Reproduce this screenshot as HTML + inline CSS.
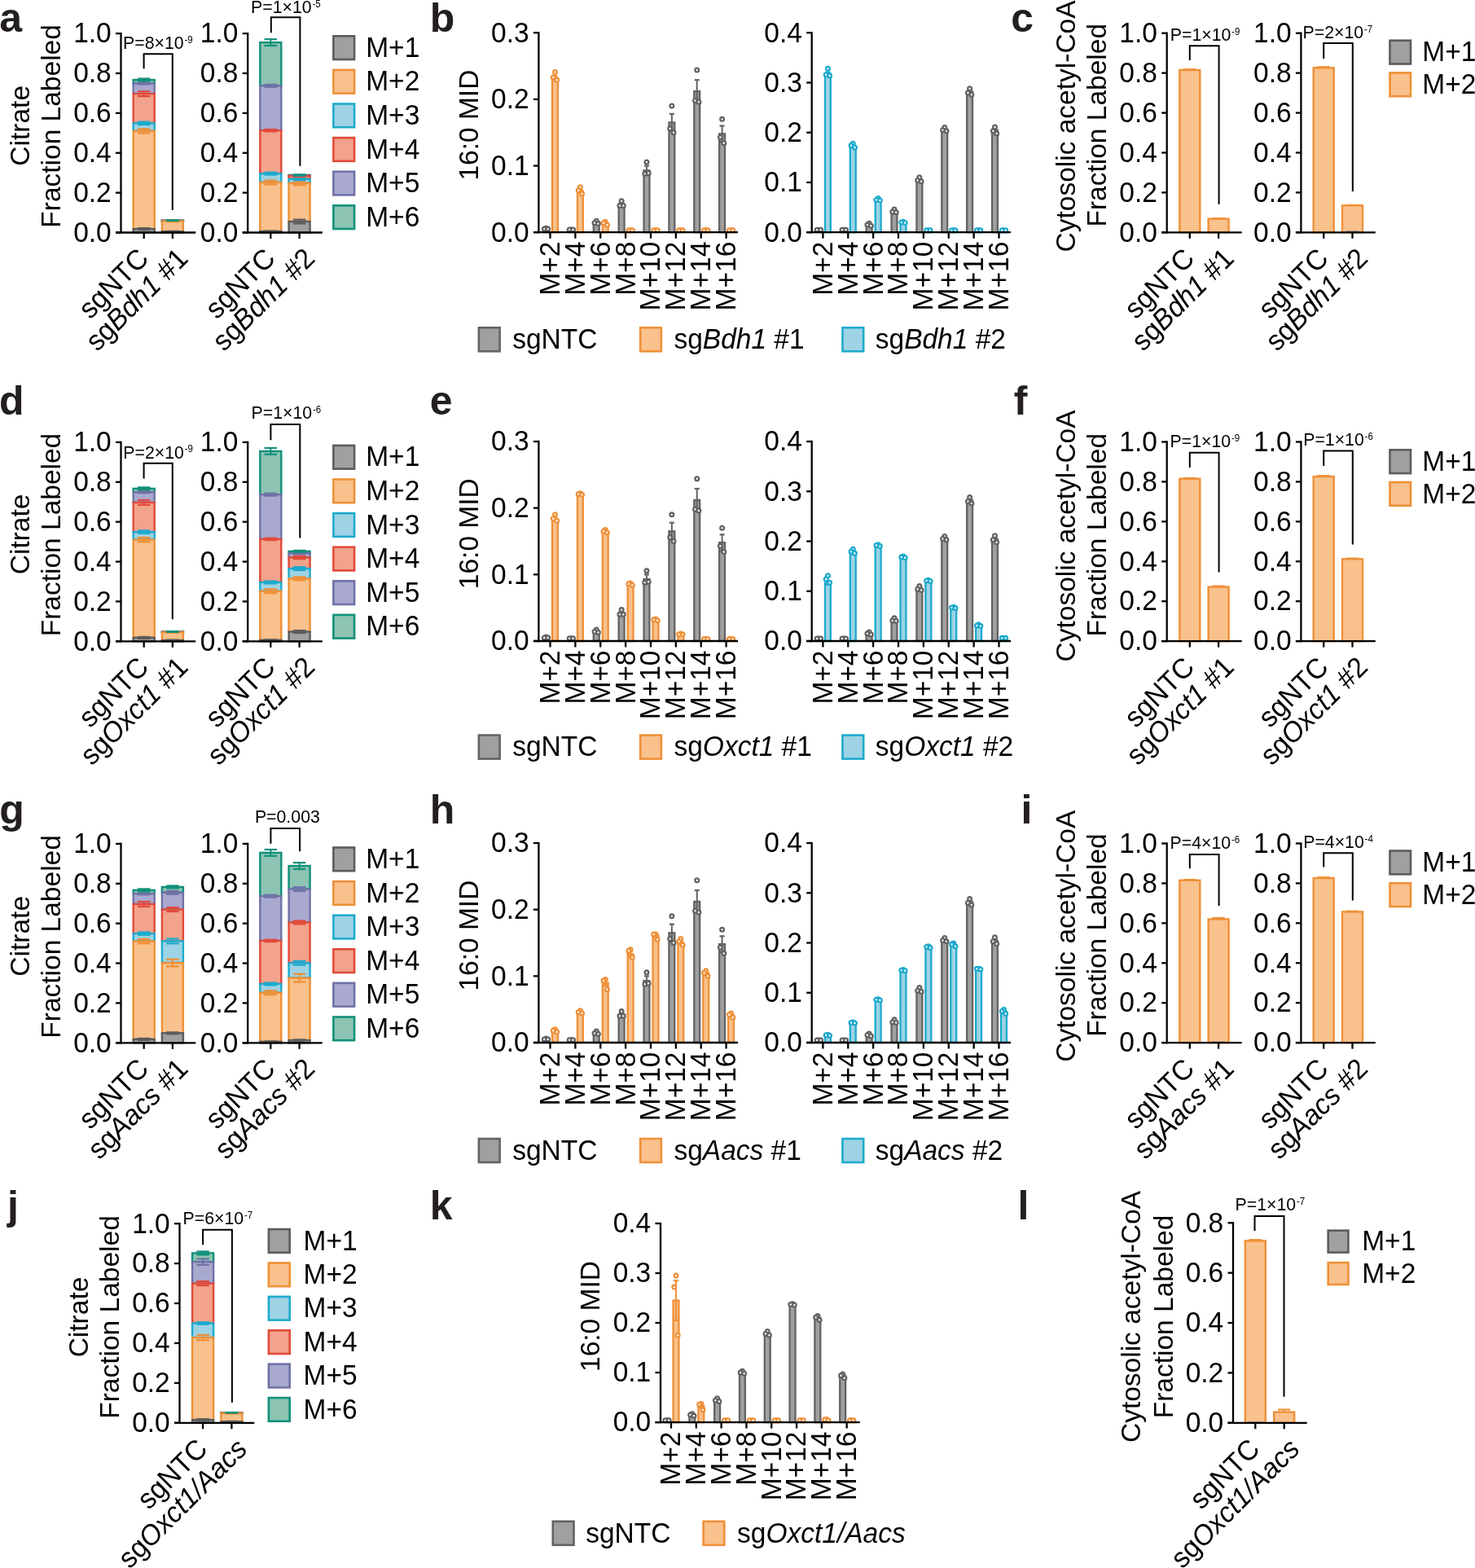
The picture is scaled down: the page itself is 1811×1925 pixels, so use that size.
<!DOCTYPE html>
<html><head><meta charset="utf-8"><title>Figure</title>
<style>
html,body{margin:0;padding:0;background:#fff;}
svg{display:block;}
text{font-family:"Liberation Sans", Arial, Helvetica, sans-serif;}
</style></head>
<body>
<svg xmlns="http://www.w3.org/2000/svg" width="1811" height="1925" viewBox="0 0 1811 1925">
<rect x="0" y="0" width="1811" height="1925" fill="#fff"/>
<text x="-0.66" y="39.1" font-size="50" font-weight="bold" fill="#231f20">a</text>
<text x="35.8" y="154.3" font-size="33.5" text-anchor="middle" transform="rotate(-90 35.8 154.3)">Citrate</text>
<text x="73.8" y="154.95" font-size="33.5" text-anchor="middle" transform="rotate(-90 73.8 154.95)">Fraction Labeled</text>
<rect x="163.7" y="98.05" width="26" height="4.4" fill="#8dc4b3" stroke="#12907a" stroke-width="2.4"/>
<rect x="163.7" y="102.44" width="26" height="12.71" fill="#a9a9d0" stroke="#6f72a6" stroke-width="2.4"/>
<rect x="163.7" y="115.15" width="26" height="36.17" fill="#f3a28b" stroke="#e04a3a" stroke-width="2.4"/>
<rect x="163.7" y="151.32" width="26" height="9.53" fill="#9dd3e4" stroke="#1eaacd" stroke-width="2.4"/>
<rect x="163.7" y="160.86" width="26" height="120.24" fill="#f9c18c" stroke="#ee9036" stroke-width="2.4"/>
<rect x="163.7" y="281.1" width="26" height="4.4" fill="#a0a0a0" stroke="#5c5c5c" stroke-width="2.4"/>
<line x1="176.7" y1="280.12" x2="176.7" y2="282.08" stroke="#5c5c5c" stroke-width="2" stroke-linecap="butt"/>
<line x1="168.95" y1="280.12" x2="184.45" y2="280.12" stroke="#5c5c5c" stroke-width="2.2" stroke-linecap="butt"/>
<line x1="168.95" y1="282.08" x2="184.45" y2="282.08" stroke="#5c5c5c" stroke-width="2.2" stroke-linecap="butt"/>
<line x1="176.7" y1="158.17" x2="176.7" y2="163.54" stroke="#ee9036" stroke-width="2" stroke-linecap="butt"/>
<line x1="168.95" y1="158.17" x2="184.45" y2="158.17" stroke="#ee9036" stroke-width="2.2" stroke-linecap="butt"/>
<line x1="168.95" y1="163.54" x2="184.45" y2="163.54" stroke="#ee9036" stroke-width="2.2" stroke-linecap="butt"/>
<line x1="176.7" y1="149.61" x2="176.7" y2="153.04" stroke="#1eaacd" stroke-width="2" stroke-linecap="butt"/>
<line x1="168.95" y1="149.61" x2="184.45" y2="149.61" stroke="#1eaacd" stroke-width="2.2" stroke-linecap="butt"/>
<line x1="168.95" y1="153.04" x2="184.45" y2="153.04" stroke="#1eaacd" stroke-width="2.2" stroke-linecap="butt"/>
<line x1="176.7" y1="112.22" x2="176.7" y2="118.09" stroke="#e04a3a" stroke-width="2" stroke-linecap="butt"/>
<line x1="168.95" y1="112.22" x2="184.45" y2="112.22" stroke="#e04a3a" stroke-width="2.2" stroke-linecap="butt"/>
<line x1="168.95" y1="118.09" x2="184.45" y2="118.09" stroke="#e04a3a" stroke-width="2.2" stroke-linecap="butt"/>
<line x1="176.7" y1="101.47" x2="176.7" y2="103.42" stroke="#6f72a6" stroke-width="2" stroke-linecap="butt"/>
<line x1="168.95" y1="101.47" x2="184.45" y2="101.47" stroke="#6f72a6" stroke-width="2.2" stroke-linecap="butt"/>
<line x1="168.95" y1="103.42" x2="184.45" y2="103.42" stroke="#6f72a6" stroke-width="2.2" stroke-linecap="butt"/>
<line x1="176.7" y1="96.58" x2="176.7" y2="99.51" stroke="#12907a" stroke-width="2" stroke-linecap="butt"/>
<line x1="168.95" y1="96.58" x2="184.45" y2="96.58" stroke="#12907a" stroke-width="2.2" stroke-linecap="butt"/>
<line x1="168.95" y1="99.51" x2="184.45" y2="99.51" stroke="#12907a" stroke-width="2.2" stroke-linecap="butt"/>
<rect x="198.9" y="270.59" width="26" height="0.24" fill="#8dc4b3" stroke="#12907a" stroke-width="2.4"/>
<rect x="198.9" y="270.84" width="26" height="0.01" fill="#a9a9d0" stroke="#6f72a6" stroke-width="2.4"/>
<rect x="198.9" y="270.84" width="26" height="0.24" fill="#f3a28b" stroke="#e04a3a" stroke-width="2.4"/>
<rect x="198.9" y="271.08" width="26" height="0.49" fill="#9dd3e4" stroke="#1eaacd" stroke-width="2.4"/>
<rect x="198.9" y="271.57" width="26" height="12.71" fill="#f9c18c" stroke="#ee9036" stroke-width="2.4"/>
<rect x="198.9" y="284.28" width="26" height="1.22" fill="#a0a0a0" stroke="#5c5c5c" stroke-width="2.4"/>
<line x1="211.9" y1="283.79" x2="211.9" y2="284.77" stroke="#5c5c5c" stroke-width="2" stroke-linecap="butt"/>
<line x1="204.15" y1="283.79" x2="219.65" y2="283.79" stroke="#5c5c5c" stroke-width="2.2" stroke-linecap="butt"/>
<line x1="204.15" y1="284.77" x2="219.65" y2="284.77" stroke="#5c5c5c" stroke-width="2.2" stroke-linecap="butt"/>
<line x1="211.9" y1="270.84" x2="211.9" y2="272.3" stroke="#ee9036" stroke-width="2" stroke-linecap="butt"/>
<line x1="204.15" y1="270.84" x2="219.65" y2="270.84" stroke="#ee9036" stroke-width="2.2" stroke-linecap="butt"/>
<line x1="204.15" y1="272.3" x2="219.65" y2="272.3" stroke="#ee9036" stroke-width="2.2" stroke-linecap="butt"/>
<line x1="211.9" y1="270.35" x2="211.9" y2="270.84" stroke="#12907a" stroke-width="2" stroke-linecap="butt"/>
<line x1="204.15" y1="270.35" x2="219.65" y2="270.35" stroke="#12907a" stroke-width="2.2" stroke-linecap="butt"/>
<line x1="204.15" y1="270.84" x2="219.65" y2="270.84" stroke="#12907a" stroke-width="2.2" stroke-linecap="butt"/>
<line x1="148.5" y1="39.95" x2="148.5" y2="286.65" stroke="#000" stroke-width="2.3" stroke-linecap="butt"/>
<line x1="142" y1="285.5" x2="240.3" y2="285.5" stroke="#000" stroke-width="2.3" stroke-linecap="butt"/>
<line x1="142" y1="285.5" x2="148.5" y2="285.5" stroke="#000" stroke-width="2.3" stroke-linecap="butt"/>
<text font-size="33.5" text-anchor="end" transform="translate(136.7 296.8) scale(1 1.04)">0.0</text>
<line x1="142" y1="236.62" x2="148.5" y2="236.62" stroke="#000" stroke-width="2.3" stroke-linecap="butt"/>
<text font-size="33.5" text-anchor="end" transform="translate(136.7 247.92) scale(1 1.04)">0.2</text>
<line x1="142" y1="187.74" x2="148.5" y2="187.74" stroke="#000" stroke-width="2.3" stroke-linecap="butt"/>
<text font-size="33.5" text-anchor="end" transform="translate(136.7 199.04) scale(1 1.04)">0.4</text>
<line x1="142" y1="138.86" x2="148.5" y2="138.86" stroke="#000" stroke-width="2.3" stroke-linecap="butt"/>
<text font-size="33.5" text-anchor="end" transform="translate(136.7 150.16) scale(1 1.04)">0.6</text>
<line x1="142" y1="89.98" x2="148.5" y2="89.98" stroke="#000" stroke-width="2.3" stroke-linecap="butt"/>
<text font-size="33.5" text-anchor="end" transform="translate(136.7 101.28) scale(1 1.04)">0.8</text>
<line x1="142" y1="41.1" x2="148.5" y2="41.1" stroke="#000" stroke-width="2.3" stroke-linecap="butt"/>
<text font-size="33.5" text-anchor="end" transform="translate(136.7 52.4) scale(1 1.04)">1.0</text>
<line x1="176.7" y1="285.5" x2="176.7" y2="293" stroke="#000" stroke-width="2.3" stroke-linecap="butt"/>
<line x1="211.9" y1="285.5" x2="211.9" y2="293" stroke="#000" stroke-width="2.3" stroke-linecap="butt"/>
<rect x="319.3" y="52.1" width="26" height="53.28" fill="#8dc4b3" stroke="#12907a" stroke-width="2.4"/>
<rect x="319.3" y="105.38" width="26" height="54.75" fill="#a9a9d0" stroke="#6f72a6" stroke-width="2.4"/>
<rect x="319.3" y="160.12" width="26" height="53.03" fill="#f3a28b" stroke="#e04a3a" stroke-width="2.4"/>
<rect x="319.3" y="213.16" width="26" height="10.75" fill="#9dd3e4" stroke="#1eaacd" stroke-width="2.4"/>
<rect x="319.3" y="223.91" width="26" height="60.12" fill="#f9c18c" stroke="#ee9036" stroke-width="2.4"/>
<rect x="319.3" y="284.03" width="26" height="1.47" fill="#a0a0a0" stroke="#5c5c5c" stroke-width="2.4"/>
<line x1="332.3" y1="283.54" x2="332.3" y2="284.52" stroke="#5c5c5c" stroke-width="2" stroke-linecap="butt"/>
<line x1="324.55" y1="283.54" x2="340.05" y2="283.54" stroke="#5c5c5c" stroke-width="2.2" stroke-linecap="butt"/>
<line x1="324.55" y1="284.52" x2="340.05" y2="284.52" stroke="#5c5c5c" stroke-width="2.2" stroke-linecap="butt"/>
<line x1="332.3" y1="221.47" x2="332.3" y2="226.36" stroke="#ee9036" stroke-width="2" stroke-linecap="butt"/>
<line x1="324.55" y1="221.47" x2="340.05" y2="221.47" stroke="#ee9036" stroke-width="2.2" stroke-linecap="butt"/>
<line x1="324.55" y1="226.36" x2="340.05" y2="226.36" stroke="#ee9036" stroke-width="2.2" stroke-linecap="butt"/>
<line x1="332.3" y1="211.69" x2="332.3" y2="214.62" stroke="#1eaacd" stroke-width="2" stroke-linecap="butt"/>
<line x1="324.55" y1="211.69" x2="340.05" y2="211.69" stroke="#1eaacd" stroke-width="2.2" stroke-linecap="butt"/>
<line x1="324.55" y1="214.62" x2="340.05" y2="214.62" stroke="#1eaacd" stroke-width="2.2" stroke-linecap="butt"/>
<line x1="332.3" y1="158.9" x2="332.3" y2="161.34" stroke="#e04a3a" stroke-width="2" stroke-linecap="butt"/>
<line x1="324.55" y1="158.9" x2="340.05" y2="158.9" stroke="#e04a3a" stroke-width="2.2" stroke-linecap="butt"/>
<line x1="324.55" y1="161.34" x2="340.05" y2="161.34" stroke="#e04a3a" stroke-width="2.2" stroke-linecap="butt"/>
<line x1="332.3" y1="103.91" x2="332.3" y2="106.84" stroke="#6f72a6" stroke-width="2" stroke-linecap="butt"/>
<line x1="324.55" y1="103.91" x2="340.05" y2="103.91" stroke="#6f72a6" stroke-width="2.2" stroke-linecap="butt"/>
<line x1="324.55" y1="106.84" x2="340.05" y2="106.84" stroke="#6f72a6" stroke-width="2.2" stroke-linecap="butt"/>
<line x1="332.3" y1="48.19" x2="332.3" y2="56.01" stroke="#12907a" stroke-width="2" stroke-linecap="butt"/>
<line x1="324.55" y1="48.19" x2="340.05" y2="48.19" stroke="#12907a" stroke-width="2.2" stroke-linecap="butt"/>
<line x1="324.55" y1="56.01" x2="340.05" y2="56.01" stroke="#12907a" stroke-width="2.2" stroke-linecap="butt"/>
<rect x="354.6" y="214.87" width="26" height="0.49" fill="#8dc4b3" stroke="#12907a" stroke-width="2.4"/>
<rect x="354.6" y="215.36" width="26" height="0.73" fill="#a9a9d0" stroke="#6f72a6" stroke-width="2.4"/>
<rect x="354.6" y="216.09" width="26" height="3.67" fill="#f3a28b" stroke="#e04a3a" stroke-width="2.4"/>
<rect x="354.6" y="219.76" width="26" height="5.13" fill="#9dd3e4" stroke="#1eaacd" stroke-width="2.4"/>
<rect x="354.6" y="224.89" width="26" height="47.17" fill="#f9c18c" stroke="#ee9036" stroke-width="2.4"/>
<rect x="354.6" y="272.06" width="26" height="13.44" fill="#a0a0a0" stroke="#5c5c5c" stroke-width="2.4"/>
<line x1="367.6" y1="269.61" x2="367.6" y2="274.5" stroke="#5c5c5c" stroke-width="2" stroke-linecap="butt"/>
<line x1="359.85" y1="269.61" x2="375.35" y2="269.61" stroke="#5c5c5c" stroke-width="2.2" stroke-linecap="butt"/>
<line x1="359.85" y1="274.5" x2="375.35" y2="274.5" stroke="#5c5c5c" stroke-width="2.2" stroke-linecap="butt"/>
<line x1="367.6" y1="222.44" x2="367.6" y2="227.33" stroke="#ee9036" stroke-width="2" stroke-linecap="butt"/>
<line x1="359.85" y1="222.44" x2="375.35" y2="222.44" stroke="#ee9036" stroke-width="2.2" stroke-linecap="butt"/>
<line x1="359.85" y1="227.33" x2="375.35" y2="227.33" stroke="#ee9036" stroke-width="2.2" stroke-linecap="butt"/>
<line x1="367.6" y1="218.29" x2="367.6" y2="221.22" stroke="#1eaacd" stroke-width="2" stroke-linecap="butt"/>
<line x1="359.85" y1="218.29" x2="375.35" y2="218.29" stroke="#1eaacd" stroke-width="2.2" stroke-linecap="butt"/>
<line x1="359.85" y1="221.22" x2="375.35" y2="221.22" stroke="#1eaacd" stroke-width="2.2" stroke-linecap="butt"/>
<line x1="367.6" y1="215.11" x2="367.6" y2="217.07" stroke="#e04a3a" stroke-width="2" stroke-linecap="butt"/>
<line x1="359.85" y1="215.11" x2="375.35" y2="215.11" stroke="#e04a3a" stroke-width="2.2" stroke-linecap="butt"/>
<line x1="359.85" y1="217.07" x2="375.35" y2="217.07" stroke="#e04a3a" stroke-width="2.2" stroke-linecap="butt"/>
<line x1="367.6" y1="214.87" x2="367.6" y2="215.85" stroke="#6f72a6" stroke-width="2" stroke-linecap="butt"/>
<line x1="359.85" y1="214.87" x2="375.35" y2="214.87" stroke="#6f72a6" stroke-width="2.2" stroke-linecap="butt"/>
<line x1="359.85" y1="215.85" x2="375.35" y2="215.85" stroke="#6f72a6" stroke-width="2.2" stroke-linecap="butt"/>
<line x1="367.6" y1="214.38" x2="367.6" y2="215.36" stroke="#12907a" stroke-width="2" stroke-linecap="butt"/>
<line x1="359.85" y1="214.38" x2="375.35" y2="214.38" stroke="#12907a" stroke-width="2.2" stroke-linecap="butt"/>
<line x1="359.85" y1="215.36" x2="375.35" y2="215.36" stroke="#12907a" stroke-width="2.2" stroke-linecap="butt"/>
<line x1="304.2" y1="39.95" x2="304.2" y2="286.65" stroke="#000" stroke-width="2.3" stroke-linecap="butt"/>
<line x1="297.7" y1="285.5" x2="395.8" y2="285.5" stroke="#000" stroke-width="2.3" stroke-linecap="butt"/>
<line x1="297.7" y1="285.5" x2="304.2" y2="285.5" stroke="#000" stroke-width="2.3" stroke-linecap="butt"/>
<text font-size="33.5" text-anchor="end" transform="translate(292.4 296.8) scale(1 1.04)">0.0</text>
<line x1="297.7" y1="236.62" x2="304.2" y2="236.62" stroke="#000" stroke-width="2.3" stroke-linecap="butt"/>
<text font-size="33.5" text-anchor="end" transform="translate(292.4 247.92) scale(1 1.04)">0.2</text>
<line x1="297.7" y1="187.74" x2="304.2" y2="187.74" stroke="#000" stroke-width="2.3" stroke-linecap="butt"/>
<text font-size="33.5" text-anchor="end" transform="translate(292.4 199.04) scale(1 1.04)">0.4</text>
<line x1="297.7" y1="138.86" x2="304.2" y2="138.86" stroke="#000" stroke-width="2.3" stroke-linecap="butt"/>
<text font-size="33.5" text-anchor="end" transform="translate(292.4 150.16) scale(1 1.04)">0.6</text>
<line x1="297.7" y1="89.98" x2="304.2" y2="89.98" stroke="#000" stroke-width="2.3" stroke-linecap="butt"/>
<text font-size="33.5" text-anchor="end" transform="translate(292.4 101.28) scale(1 1.04)">0.8</text>
<line x1="297.7" y1="41.1" x2="304.2" y2="41.1" stroke="#000" stroke-width="2.3" stroke-linecap="butt"/>
<text font-size="33.5" text-anchor="end" transform="translate(292.4 52.4) scale(1 1.04)">1.0</text>
<line x1="332.3" y1="285.5" x2="332.3" y2="293" stroke="#000" stroke-width="2.3" stroke-linecap="butt"/>
<line x1="367.6" y1="285.5" x2="367.6" y2="293" stroke="#000" stroke-width="2.3" stroke-linecap="butt"/>
<rect x="409.4" y="44.3" width="25.7" height="28.7" fill="#a0a0a0" stroke="#5c5c5c" stroke-width="2.6"/>
<text font-size="33.5" transform="translate(449.2 69.75) scale(1 1.04)">M+1</text>
<rect x="409.4" y="85.9" width="25.7" height="28.7" fill="#f9c18c" stroke="#ee9036" stroke-width="2.6"/>
<text font-size="33.5" transform="translate(449.2 111.35) scale(1 1.04)">M+2</text>
<rect x="409.4" y="127.5" width="25.7" height="28.7" fill="#9dd3e4" stroke="#1eaacd" stroke-width="2.6"/>
<text font-size="33.5" transform="translate(449.2 152.95) scale(1 1.04)">M+3</text>
<rect x="409.4" y="169.1" width="25.7" height="28.7" fill="#f3a28b" stroke="#e04a3a" stroke-width="2.6"/>
<text font-size="33.5" transform="translate(449.2 194.55) scale(1 1.04)">M+4</text>
<rect x="409.4" y="210.7" width="25.7" height="28.7" fill="#a9a9d0" stroke="#6f72a6" stroke-width="2.6"/>
<text font-size="33.5" transform="translate(449.2 236.15) scale(1 1.04)">M+5</text>
<rect x="409.4" y="252.3" width="25.7" height="28.7" fill="#8dc4b3" stroke="#12907a" stroke-width="2.6"/>
<text font-size="33.5" transform="translate(449.2 277.75) scale(1 1.04)">M+6</text>
<text font-size="33.5" text-anchor="end" transform="translate(184.3 319.4) rotate(-45) scale(1 1.04)">sgNTC</text>
<text font-size="33.5" text-anchor="end" transform="translate(232.6 319.4) rotate(-45) scale(1 1.04)">sg<tspan font-style="italic">Bdh1</tspan> #1</text>
<text font-size="33.5" text-anchor="end" transform="translate(339.9 319.4) rotate(-45) scale(1 1.04)">sgNTC</text>
<text font-size="33.5" text-anchor="end" transform="translate(388.3 319.4) rotate(-45) scale(1 1.04)">sg<tspan font-style="italic">Bdh1</tspan> #2</text>
<text x="527.8" y="39.1" font-size="50" font-weight="bold" fill="#231f20">b</text>
<text x="586.6" y="153.6" font-size="33.5" text-anchor="middle" transform="rotate(-90 586.6 153.6)">16:0 MID</text>
<rect x="667.05" y="281.12" width="6.9" height="4.08" fill="#a0a0a0" stroke="#636363" stroke-width="2.3"/>
<rect x="678.05" y="95.73" width="6.9" height="189.47" fill="#f9c18c" stroke="#ef9038" stroke-width="2.3"/>
<line x1="681.5" y1="93.28" x2="681.5" y2="98.18" stroke="#ef9038" stroke-width="2" stroke-linecap="butt"/>
<line x1="678.5" y1="93.28" x2="684.5" y2="93.28" stroke="#ef9038" stroke-width="2.2" stroke-linecap="butt"/>
<line x1="678.5" y1="98.18" x2="684.5" y2="98.18" stroke="#ef9038" stroke-width="2.2" stroke-linecap="butt"/>
<rect x="697.92" y="281.93" width="6.9" height="3.27" fill="#a0a0a0" stroke="#636363" stroke-width="2.3"/>
<rect x="708.92" y="234.57" width="6.9" height="50.63" fill="#f9c18c" stroke="#ef9038" stroke-width="2.3"/>
<line x1="712.37" y1="232.93" x2="712.37" y2="236.2" stroke="#ef9038" stroke-width="2" stroke-linecap="butt"/>
<line x1="709.37" y1="232.93" x2="715.37" y2="232.93" stroke="#ef9038" stroke-width="2.2" stroke-linecap="butt"/>
<line x1="709.37" y1="236.2" x2="715.37" y2="236.2" stroke="#ef9038" stroke-width="2.2" stroke-linecap="butt"/>
<rect x="728.79" y="272.95" width="6.9" height="12.25" fill="#a0a0a0" stroke="#636363" stroke-width="2.3"/>
<line x1="732.24" y1="272.13" x2="732.24" y2="273.77" stroke="#636363" stroke-width="2" stroke-linecap="butt"/>
<line x1="729.24" y1="272.13" x2="735.24" y2="272.13" stroke="#636363" stroke-width="2.2" stroke-linecap="butt"/>
<line x1="729.24" y1="273.77" x2="735.24" y2="273.77" stroke="#636363" stroke-width="2.2" stroke-linecap="butt"/>
<rect x="739.79" y="274.58" width="6.9" height="10.62" fill="#f9c18c" stroke="#ef9038" stroke-width="2.3"/>
<line x1="743.24" y1="273.77" x2="743.24" y2="275.4" stroke="#ef9038" stroke-width="2" stroke-linecap="butt"/>
<line x1="740.24" y1="273.77" x2="746.24" y2="273.77" stroke="#ef9038" stroke-width="2.2" stroke-linecap="butt"/>
<line x1="740.24" y1="275.4" x2="746.24" y2="275.4" stroke="#ef9038" stroke-width="2.2" stroke-linecap="butt"/>
<rect x="759.66" y="250.9" width="6.9" height="34.3" fill="#a0a0a0" stroke="#636363" stroke-width="2.3"/>
<line x1="763.11" y1="248.45" x2="763.11" y2="253.35" stroke="#636363" stroke-width="2" stroke-linecap="butt"/>
<line x1="760.11" y1="248.45" x2="766.11" y2="248.45" stroke="#636363" stroke-width="2.2" stroke-linecap="butt"/>
<line x1="760.11" y1="253.35" x2="766.11" y2="253.35" stroke="#636363" stroke-width="2.2" stroke-linecap="butt"/>
<rect x="770.66" y="282.75" width="6.9" height="2.45" fill="#f9c18c" stroke="#ef9038" stroke-width="2.3"/>
<rect x="790.53" y="209.25" width="6.9" height="75.95" fill="#a0a0a0" stroke="#636363" stroke-width="2.3"/>
<line x1="793.98" y1="203.53" x2="793.98" y2="214.97" stroke="#636363" stroke-width="2" stroke-linecap="butt"/>
<line x1="790.98" y1="203.53" x2="796.98" y2="203.53" stroke="#636363" stroke-width="2.2" stroke-linecap="butt"/>
<line x1="790.98" y1="214.97" x2="796.98" y2="214.97" stroke="#636363" stroke-width="2.2" stroke-linecap="butt"/>
<rect x="801.53" y="284.38" width="6.9" height="0.82" fill="#f9c18c" stroke="#ef9038" stroke-width="2.3"/>
<rect x="821.4" y="150.45" width="6.9" height="134.75" fill="#a0a0a0" stroke="#636363" stroke-width="2.3"/>
<line x1="824.85" y1="139.83" x2="824.85" y2="161.07" stroke="#636363" stroke-width="2" stroke-linecap="butt"/>
<line x1="821.85" y1="139.83" x2="827.85" y2="139.83" stroke="#636363" stroke-width="2.2" stroke-linecap="butt"/>
<line x1="821.85" y1="161.07" x2="827.85" y2="161.07" stroke="#636363" stroke-width="2.2" stroke-linecap="butt"/>
<rect x="832.4" y="284.38" width="6.9" height="0.82" fill="#f9c18c" stroke="#ef9038" stroke-width="2.3"/>
<rect x="852.27" y="112.07" width="6.9" height="173.13" fill="#a0a0a0" stroke="#636363" stroke-width="2.3"/>
<line x1="855.72" y1="98.18" x2="855.72" y2="125.95" stroke="#636363" stroke-width="2" stroke-linecap="butt"/>
<line x1="852.72" y1="98.18" x2="858.72" y2="98.18" stroke="#636363" stroke-width="2.2" stroke-linecap="butt"/>
<line x1="852.72" y1="125.95" x2="858.72" y2="125.95" stroke="#636363" stroke-width="2.2" stroke-linecap="butt"/>
<rect x="863.27" y="284.38" width="6.9" height="0.82" fill="#f9c18c" stroke="#ef9038" stroke-width="2.3"/>
<rect x="883.14" y="164.33" width="6.9" height="120.87" fill="#a0a0a0" stroke="#636363" stroke-width="2.3"/>
<line x1="886.59" y1="154.53" x2="886.59" y2="174.13" stroke="#636363" stroke-width="2" stroke-linecap="butt"/>
<line x1="883.59" y1="154.53" x2="889.59" y2="154.53" stroke="#636363" stroke-width="2.2" stroke-linecap="butt"/>
<line x1="883.59" y1="174.13" x2="889.59" y2="174.13" stroke="#636363" stroke-width="2.2" stroke-linecap="butt"/>
<rect x="894.14" y="284.38" width="6.9" height="0.82" fill="#f9c18c" stroke="#ef9038" stroke-width="2.3"/>
<circle cx="670.5" cy="280.3" r="2.35" fill="#fff" stroke="#636363" stroke-width="2.3"/>
<circle cx="668.3" cy="281.12" r="2.35" fill="#fff" stroke="#636363" stroke-width="2.3"/>
<circle cx="672.7" cy="281.12" r="2.35" fill="#fff" stroke="#636363" stroke-width="2.3"/>
<circle cx="681.5" cy="88.38" r="2.35" fill="#fff" stroke="#ef9038" stroke-width="2.3"/>
<circle cx="679.3" cy="94.92" r="2.35" fill="#fff" stroke="#ef9038" stroke-width="2.3"/>
<circle cx="683.7" cy="98.18" r="2.35" fill="#fff" stroke="#ef9038" stroke-width="2.3"/>
<circle cx="701.37" cy="281.93" r="2.35" fill="#fff" stroke="#636363" stroke-width="2.3"/>
<circle cx="699.17" cy="281.93" r="2.35" fill="#fff" stroke="#636363" stroke-width="2.3"/>
<circle cx="703.57" cy="281.93" r="2.35" fill="#fff" stroke="#636363" stroke-width="2.3"/>
<circle cx="712.37" cy="229.67" r="2.35" fill="#fff" stroke="#ef9038" stroke-width="2.3"/>
<circle cx="710.17" cy="233.75" r="2.35" fill="#fff" stroke="#ef9038" stroke-width="2.3"/>
<circle cx="714.57" cy="237.83" r="2.35" fill="#fff" stroke="#ef9038" stroke-width="2.3"/>
<circle cx="732.24" cy="271.32" r="2.35" fill="#fff" stroke="#636363" stroke-width="2.3"/>
<circle cx="730.04" cy="273.77" r="2.35" fill="#fff" stroke="#636363" stroke-width="2.3"/>
<circle cx="734.44" cy="274.58" r="2.35" fill="#fff" stroke="#636363" stroke-width="2.3"/>
<circle cx="743.24" cy="272.13" r="2.35" fill="#fff" stroke="#ef9038" stroke-width="2.3"/>
<circle cx="741.04" cy="273.77" r="2.35" fill="#fff" stroke="#ef9038" stroke-width="2.3"/>
<circle cx="745.44" cy="276.22" r="2.35" fill="#fff" stroke="#ef9038" stroke-width="2.3"/>
<circle cx="763.11" cy="246.82" r="2.35" fill="#fff" stroke="#636363" stroke-width="2.3"/>
<circle cx="760.91" cy="252.53" r="2.35" fill="#fff" stroke="#636363" stroke-width="2.3"/>
<circle cx="765.31" cy="252.53" r="2.35" fill="#fff" stroke="#636363" stroke-width="2.3"/>
<circle cx="774.11" cy="282.75" r="2.35" fill="#fff" stroke="#ef9038" stroke-width="2.3"/>
<circle cx="771.91" cy="282.75" r="2.35" fill="#fff" stroke="#ef9038" stroke-width="2.3"/>
<circle cx="776.31" cy="282.75" r="2.35" fill="#fff" stroke="#ef9038" stroke-width="2.3"/>
<circle cx="793.98" cy="199.04" r="2.35" fill="#fff" stroke="#636363" stroke-width="2.3"/>
<circle cx="791.78" cy="213.33" r="2.35" fill="#fff" stroke="#636363" stroke-width="2.3"/>
<circle cx="796.18" cy="212.52" r="2.35" fill="#fff" stroke="#636363" stroke-width="2.3"/>
<circle cx="804.98" cy="282.8" r="2.35" fill="#fff" stroke="#ef9038" stroke-width="2.3"/>
<circle cx="802.78" cy="282.8" r="2.35" fill="#fff" stroke="#ef9038" stroke-width="2.3"/>
<circle cx="807.18" cy="282.8" r="2.35" fill="#fff" stroke="#ef9038" stroke-width="2.3"/>
<circle cx="824.85" cy="130.03" r="2.35" fill="#fff" stroke="#636363" stroke-width="2.3"/>
<circle cx="822.65" cy="157.8" r="2.35" fill="#fff" stroke="#636363" stroke-width="2.3"/>
<circle cx="827.05" cy="162.7" r="2.35" fill="#fff" stroke="#636363" stroke-width="2.3"/>
<circle cx="835.85" cy="282.8" r="2.35" fill="#fff" stroke="#ef9038" stroke-width="2.3"/>
<circle cx="833.65" cy="282.8" r="2.35" fill="#fff" stroke="#ef9038" stroke-width="2.3"/>
<circle cx="838.05" cy="282.8" r="2.35" fill="#fff" stroke="#ef9038" stroke-width="2.3"/>
<circle cx="855.72" cy="85.93" r="2.35" fill="#fff" stroke="#636363" stroke-width="2.3"/>
<circle cx="853.52" cy="123.5" r="2.35" fill="#fff" stroke="#636363" stroke-width="2.3"/>
<circle cx="857.92" cy="125.13" r="2.35" fill="#fff" stroke="#636363" stroke-width="2.3"/>
<circle cx="866.72" cy="282.8" r="2.35" fill="#fff" stroke="#ef9038" stroke-width="2.3"/>
<circle cx="864.52" cy="282.8" r="2.35" fill="#fff" stroke="#ef9038" stroke-width="2.3"/>
<circle cx="868.92" cy="282.8" r="2.35" fill="#fff" stroke="#ef9038" stroke-width="2.3"/>
<circle cx="886.59" cy="146.37" r="2.35" fill="#fff" stroke="#636363" stroke-width="2.3"/>
<circle cx="884.39" cy="168.42" r="2.35" fill="#fff" stroke="#636363" stroke-width="2.3"/>
<circle cx="888.79" cy="175.77" r="2.35" fill="#fff" stroke="#636363" stroke-width="2.3"/>
<circle cx="897.59" cy="282.8" r="2.35" fill="#fff" stroke="#ef9038" stroke-width="2.3"/>
<circle cx="895.39" cy="282.8" r="2.35" fill="#fff" stroke="#ef9038" stroke-width="2.3"/>
<circle cx="899.79" cy="282.8" r="2.35" fill="#fff" stroke="#ef9038" stroke-width="2.3"/>
<line x1="661.4" y1="39.05" x2="661.4" y2="286.35" stroke="#000" stroke-width="2.3" stroke-linecap="butt"/>
<line x1="654.9" y1="285.2" x2="906" y2="285.2" stroke="#000" stroke-width="2.3" stroke-linecap="butt"/>
<line x1="654.9" y1="285.2" x2="661.4" y2="285.2" stroke="#000" stroke-width="2.3" stroke-linecap="butt"/>
<text font-size="33.5" text-anchor="end" transform="translate(649.6 296.5) scale(1 1.04)">0.0</text>
<line x1="654.9" y1="203.53" x2="661.4" y2="203.53" stroke="#000" stroke-width="2.3" stroke-linecap="butt"/>
<text font-size="33.5" text-anchor="end" transform="translate(649.6 214.83) scale(1 1.04)">0.1</text>
<line x1="654.9" y1="121.87" x2="661.4" y2="121.87" stroke="#000" stroke-width="2.3" stroke-linecap="butt"/>
<text font-size="33.5" text-anchor="end" transform="translate(649.6 133.17) scale(1 1.04)">0.2</text>
<line x1="654.9" y1="40.2" x2="661.4" y2="40.2" stroke="#000" stroke-width="2.3" stroke-linecap="butt"/>
<text font-size="33.5" text-anchor="end" transform="translate(649.6 51.5) scale(1 1.04)">0.3</text>
<line x1="675.5" y1="285.2" x2="675.5" y2="292.7" stroke="#000" stroke-width="2.3" stroke-linecap="butt"/>
<line x1="706.37" y1="285.2" x2="706.37" y2="292.7" stroke="#000" stroke-width="2.3" stroke-linecap="butt"/>
<line x1="737.24" y1="285.2" x2="737.24" y2="292.7" stroke="#000" stroke-width="2.3" stroke-linecap="butt"/>
<line x1="768.11" y1="285.2" x2="768.11" y2="292.7" stroke="#000" stroke-width="2.3" stroke-linecap="butt"/>
<line x1="798.98" y1="285.2" x2="798.98" y2="292.7" stroke="#000" stroke-width="2.3" stroke-linecap="butt"/>
<line x1="829.85" y1="285.2" x2="829.85" y2="292.7" stroke="#000" stroke-width="2.3" stroke-linecap="butt"/>
<line x1="860.72" y1="285.2" x2="860.72" y2="292.7" stroke="#000" stroke-width="2.3" stroke-linecap="butt"/>
<line x1="891.59" y1="285.2" x2="891.59" y2="292.7" stroke="#000" stroke-width="2.3" stroke-linecap="butt"/>
<text font-size="33.5" text-anchor="end" transform="translate(686.9 296.7) rotate(-90) scale(1 1.04)">M+2</text>
<text font-size="33.5" text-anchor="end" transform="translate(717.77 296.7) rotate(-90) scale(1 1.04)">M+4</text>
<text font-size="33.5" text-anchor="end" transform="translate(748.64 296.7) rotate(-90) scale(1 1.04)">M+6</text>
<text font-size="33.5" text-anchor="end" transform="translate(779.51 296.7) rotate(-90) scale(1 1.04)">M+8</text>
<text font-size="33.5" text-anchor="end" transform="translate(810.38 296.7) rotate(-90) scale(1 1.04)">M+10</text>
<text font-size="33.5" text-anchor="end" transform="translate(841.25 296.7) rotate(-90) scale(1 1.04)">M+12</text>
<text font-size="33.5" text-anchor="end" transform="translate(872.12 296.7) rotate(-90) scale(1 1.04)">M+14</text>
<text font-size="33.5" text-anchor="end" transform="translate(902.99 296.7) rotate(-90) scale(1 1.04)">M+16</text>
<rect x="1001.95" y="282.14" width="6.9" height="3.06" fill="#a0a0a0" stroke="#636363" stroke-width="2.3"/>
<rect x="1012.95" y="90.42" width="6.9" height="194.78" fill="#9dd3e4" stroke="#1eaacd" stroke-width="2.3"/>
<line x1="1016.4" y1="88.59" x2="1016.4" y2="92.26" stroke="#1eaacd" stroke-width="2" stroke-linecap="butt"/>
<line x1="1013.4" y1="88.59" x2="1019.4" y2="88.59" stroke="#1eaacd" stroke-width="2.2" stroke-linecap="butt"/>
<line x1="1013.4" y1="92.26" x2="1019.4" y2="92.26" stroke="#1eaacd" stroke-width="2.2" stroke-linecap="butt"/>
<rect x="1032.82" y="282.14" width="6.9" height="3.06" fill="#a0a0a0" stroke="#636363" stroke-width="2.3"/>
<rect x="1043.82" y="179.85" width="6.9" height="105.35" fill="#9dd3e4" stroke="#1eaacd" stroke-width="2.3"/>
<line x1="1047.27" y1="178.62" x2="1047.27" y2="181.07" stroke="#1eaacd" stroke-width="2" stroke-linecap="butt"/>
<line x1="1044.27" y1="178.62" x2="1050.27" y2="178.62" stroke="#1eaacd" stroke-width="2.2" stroke-linecap="butt"/>
<line x1="1044.27" y1="181.07" x2="1050.27" y2="181.07" stroke="#1eaacd" stroke-width="2.2" stroke-linecap="butt"/>
<rect x="1063.69" y="276.01" width="6.9" height="9.19" fill="#a0a0a0" stroke="#636363" stroke-width="2.3"/>
<line x1="1067.14" y1="275.4" x2="1067.14" y2="276.62" stroke="#636363" stroke-width="2" stroke-linecap="butt"/>
<line x1="1064.14" y1="275.4" x2="1070.14" y2="275.4" stroke="#636363" stroke-width="2.2" stroke-linecap="butt"/>
<line x1="1064.14" y1="276.62" x2="1070.14" y2="276.62" stroke="#636363" stroke-width="2.2" stroke-linecap="butt"/>
<rect x="1074.69" y="245.39" width="6.9" height="39.81" fill="#9dd3e4" stroke="#1eaacd" stroke-width="2.3"/>
<line x1="1078.14" y1="244.77" x2="1078.14" y2="246" stroke="#1eaacd" stroke-width="2" stroke-linecap="butt"/>
<line x1="1075.14" y1="244.77" x2="1081.14" y2="244.77" stroke="#1eaacd" stroke-width="2.2" stroke-linecap="butt"/>
<line x1="1075.14" y1="246" x2="1081.14" y2="246" stroke="#1eaacd" stroke-width="2.2" stroke-linecap="butt"/>
<rect x="1094.56" y="259.47" width="6.9" height="25.73" fill="#a0a0a0" stroke="#636363" stroke-width="2.3"/>
<line x1="1098.01" y1="258.25" x2="1098.01" y2="260.7" stroke="#636363" stroke-width="2" stroke-linecap="butt"/>
<line x1="1095.01" y1="258.25" x2="1101.01" y2="258.25" stroke="#636363" stroke-width="2.2" stroke-linecap="butt"/>
<line x1="1095.01" y1="260.7" x2="1101.01" y2="260.7" stroke="#636363" stroke-width="2.2" stroke-linecap="butt"/>
<rect x="1105.56" y="272.95" width="6.9" height="12.25" fill="#9dd3e4" stroke="#1eaacd" stroke-width="2.3"/>
<line x1="1109.01" y1="272.34" x2="1109.01" y2="273.56" stroke="#1eaacd" stroke-width="2" stroke-linecap="butt"/>
<line x1="1106.01" y1="272.34" x2="1112.01" y2="272.34" stroke="#1eaacd" stroke-width="2.2" stroke-linecap="butt"/>
<line x1="1106.01" y1="273.56" x2="1112.01" y2="273.56" stroke="#1eaacd" stroke-width="2.2" stroke-linecap="butt"/>
<rect x="1125.43" y="220.89" width="6.9" height="64.31" fill="#a0a0a0" stroke="#636363" stroke-width="2.3"/>
<line x1="1128.88" y1="219.66" x2="1128.88" y2="222.11" stroke="#636363" stroke-width="2" stroke-linecap="butt"/>
<line x1="1125.88" y1="219.66" x2="1131.88" y2="219.66" stroke="#636363" stroke-width="2.2" stroke-linecap="butt"/>
<line x1="1125.88" y1="222.11" x2="1131.88" y2="222.11" stroke="#636363" stroke-width="2.2" stroke-linecap="butt"/>
<rect x="1136.43" y="282.75" width="6.9" height="2.45" fill="#9dd3e4" stroke="#1eaacd" stroke-width="2.3"/>
<rect x="1156.3" y="159.64" width="6.9" height="125.56" fill="#a0a0a0" stroke="#636363" stroke-width="2.3"/>
<line x1="1159.75" y1="158.41" x2="1159.75" y2="160.86" stroke="#636363" stroke-width="2" stroke-linecap="butt"/>
<line x1="1156.75" y1="158.41" x2="1162.75" y2="158.41" stroke="#636363" stroke-width="2.2" stroke-linecap="butt"/>
<line x1="1156.75" y1="160.86" x2="1162.75" y2="160.86" stroke="#636363" stroke-width="2.2" stroke-linecap="butt"/>
<rect x="1167.3" y="283.97" width="6.9" height="1.23" fill="#9dd3e4" stroke="#1eaacd" stroke-width="2.3"/>
<rect x="1187.17" y="112.47" width="6.9" height="172.72" fill="#a0a0a0" stroke="#636363" stroke-width="2.3"/>
<line x1="1190.62" y1="110.64" x2="1190.62" y2="114.31" stroke="#636363" stroke-width="2" stroke-linecap="butt"/>
<line x1="1187.62" y1="110.64" x2="1193.62" y2="110.64" stroke="#636363" stroke-width="2.2" stroke-linecap="butt"/>
<line x1="1187.62" y1="114.31" x2="1193.62" y2="114.31" stroke="#636363" stroke-width="2.2" stroke-linecap="butt"/>
<rect x="1198.17" y="282.75" width="6.9" height="2.45" fill="#9dd3e4" stroke="#1eaacd" stroke-width="2.3"/>
<rect x="1218.04" y="160.25" width="6.9" height="124.95" fill="#a0a0a0" stroke="#636363" stroke-width="2.3"/>
<line x1="1221.49" y1="158.41" x2="1221.49" y2="162.09" stroke="#636363" stroke-width="2" stroke-linecap="butt"/>
<line x1="1218.49" y1="158.41" x2="1224.49" y2="158.41" stroke="#636363" stroke-width="2.2" stroke-linecap="butt"/>
<line x1="1218.49" y1="162.09" x2="1224.49" y2="162.09" stroke="#636363" stroke-width="2.2" stroke-linecap="butt"/>
<rect x="1229.04" y="283.97" width="6.9" height="1.23" fill="#9dd3e4" stroke="#1eaacd" stroke-width="2.3"/>
<circle cx="1005.4" cy="282.14" r="2.35" fill="#fff" stroke="#636363" stroke-width="2.3"/>
<circle cx="1003.2" cy="282.14" r="2.35" fill="#fff" stroke="#636363" stroke-width="2.3"/>
<circle cx="1007.6" cy="282.14" r="2.35" fill="#fff" stroke="#636363" stroke-width="2.3"/>
<circle cx="1016.4" cy="84.3" r="2.35" fill="#fff" stroke="#1eaacd" stroke-width="2.3"/>
<circle cx="1014.2" cy="91.65" r="2.35" fill="#fff" stroke="#1eaacd" stroke-width="2.3"/>
<circle cx="1018.6" cy="92.88" r="2.35" fill="#fff" stroke="#1eaacd" stroke-width="2.3"/>
<circle cx="1036.27" cy="282.14" r="2.35" fill="#fff" stroke="#636363" stroke-width="2.3"/>
<circle cx="1034.07" cy="282.14" r="2.35" fill="#fff" stroke="#636363" stroke-width="2.3"/>
<circle cx="1038.47" cy="282.14" r="2.35" fill="#fff" stroke="#636363" stroke-width="2.3"/>
<circle cx="1047.27" cy="176.18" r="2.35" fill="#fff" stroke="#1eaacd" stroke-width="2.3"/>
<circle cx="1045.07" cy="178.62" r="2.35" fill="#fff" stroke="#1eaacd" stroke-width="2.3"/>
<circle cx="1049.47" cy="181.07" r="2.35" fill="#fff" stroke="#1eaacd" stroke-width="2.3"/>
<circle cx="1067.14" cy="274.18" r="2.35" fill="#fff" stroke="#636363" stroke-width="2.3"/>
<circle cx="1064.94" cy="276.01" r="2.35" fill="#fff" stroke="#636363" stroke-width="2.3"/>
<circle cx="1069.34" cy="277.24" r="2.35" fill="#fff" stroke="#636363" stroke-width="2.3"/>
<circle cx="1078.14" cy="243.55" r="2.35" fill="#fff" stroke="#1eaacd" stroke-width="2.3"/>
<circle cx="1075.94" cy="245.39" r="2.35" fill="#fff" stroke="#1eaacd" stroke-width="2.3"/>
<circle cx="1080.34" cy="246" r="2.35" fill="#fff" stroke="#1eaacd" stroke-width="2.3"/>
<circle cx="1098.01" cy="257.02" r="2.35" fill="#fff" stroke="#636363" stroke-width="2.3"/>
<circle cx="1095.81" cy="260.09" r="2.35" fill="#fff" stroke="#636363" stroke-width="2.3"/>
<circle cx="1100.21" cy="260.7" r="2.35" fill="#fff" stroke="#636363" stroke-width="2.3"/>
<circle cx="1109.01" cy="272.34" r="2.35" fill="#fff" stroke="#1eaacd" stroke-width="2.3"/>
<circle cx="1106.81" cy="272.95" r="2.35" fill="#fff" stroke="#1eaacd" stroke-width="2.3"/>
<circle cx="1111.21" cy="273.56" r="2.35" fill="#fff" stroke="#1eaacd" stroke-width="2.3"/>
<circle cx="1128.88" cy="217.82" r="2.35" fill="#fff" stroke="#636363" stroke-width="2.3"/>
<circle cx="1126.68" cy="221.5" r="2.35" fill="#fff" stroke="#636363" stroke-width="2.3"/>
<circle cx="1131.08" cy="222.72" r="2.35" fill="#fff" stroke="#636363" stroke-width="2.3"/>
<circle cx="1139.88" cy="282.75" r="2.35" fill="#fff" stroke="#1eaacd" stroke-width="2.3"/>
<circle cx="1137.68" cy="282.75" r="2.35" fill="#fff" stroke="#1eaacd" stroke-width="2.3"/>
<circle cx="1142.08" cy="282.75" r="2.35" fill="#fff" stroke="#1eaacd" stroke-width="2.3"/>
<circle cx="1159.75" cy="156.57" r="2.35" fill="#fff" stroke="#636363" stroke-width="2.3"/>
<circle cx="1157.55" cy="159.64" r="2.35" fill="#fff" stroke="#636363" stroke-width="2.3"/>
<circle cx="1161.95" cy="160.86" r="2.35" fill="#fff" stroke="#636363" stroke-width="2.3"/>
<circle cx="1170.75" cy="282.8" r="2.35" fill="#fff" stroke="#1eaacd" stroke-width="2.3"/>
<circle cx="1168.55" cy="282.8" r="2.35" fill="#fff" stroke="#1eaacd" stroke-width="2.3"/>
<circle cx="1172.95" cy="282.8" r="2.35" fill="#fff" stroke="#1eaacd" stroke-width="2.3"/>
<circle cx="1190.62" cy="108.8" r="2.35" fill="#fff" stroke="#636363" stroke-width="2.3"/>
<circle cx="1188.42" cy="113.7" r="2.35" fill="#fff" stroke="#636363" stroke-width="2.3"/>
<circle cx="1192.82" cy="116.15" r="2.35" fill="#fff" stroke="#636363" stroke-width="2.3"/>
<circle cx="1201.62" cy="282.75" r="2.35" fill="#fff" stroke="#1eaacd" stroke-width="2.3"/>
<circle cx="1199.42" cy="282.75" r="2.35" fill="#fff" stroke="#1eaacd" stroke-width="2.3"/>
<circle cx="1203.82" cy="282.75" r="2.35" fill="#fff" stroke="#1eaacd" stroke-width="2.3"/>
<circle cx="1221.49" cy="155.96" r="2.35" fill="#fff" stroke="#636363" stroke-width="2.3"/>
<circle cx="1219.29" cy="160.86" r="2.35" fill="#fff" stroke="#636363" stroke-width="2.3"/>
<circle cx="1223.69" cy="163.92" r="2.35" fill="#fff" stroke="#636363" stroke-width="2.3"/>
<circle cx="1232.49" cy="282.8" r="2.35" fill="#fff" stroke="#1eaacd" stroke-width="2.3"/>
<circle cx="1230.29" cy="282.8" r="2.35" fill="#fff" stroke="#1eaacd" stroke-width="2.3"/>
<circle cx="1234.69" cy="282.8" r="2.35" fill="#fff" stroke="#1eaacd" stroke-width="2.3"/>
<line x1="996.7" y1="39.05" x2="996.7" y2="286.35" stroke="#000" stroke-width="2.3" stroke-linecap="butt"/>
<line x1="990.2" y1="285.2" x2="1241" y2="285.2" stroke="#000" stroke-width="2.3" stroke-linecap="butt"/>
<line x1="990.2" y1="285.2" x2="996.7" y2="285.2" stroke="#000" stroke-width="2.3" stroke-linecap="butt"/>
<text font-size="33.5" text-anchor="end" transform="translate(984.9 296.5) scale(1 1.04)">0.0</text>
<line x1="990.2" y1="223.95" x2="996.7" y2="223.95" stroke="#000" stroke-width="2.3" stroke-linecap="butt"/>
<text font-size="33.5" text-anchor="end" transform="translate(984.9 235.25) scale(1 1.04)">0.1</text>
<line x1="990.2" y1="162.7" x2="996.7" y2="162.7" stroke="#000" stroke-width="2.3" stroke-linecap="butt"/>
<text font-size="33.5" text-anchor="end" transform="translate(984.9 174) scale(1 1.04)">0.2</text>
<line x1="990.2" y1="101.45" x2="996.7" y2="101.45" stroke="#000" stroke-width="2.3" stroke-linecap="butt"/>
<text font-size="33.5" text-anchor="end" transform="translate(984.9 112.75) scale(1 1.04)">0.3</text>
<line x1="990.2" y1="40.2" x2="996.7" y2="40.2" stroke="#000" stroke-width="2.3" stroke-linecap="butt"/>
<text font-size="33.5" text-anchor="end" transform="translate(984.9 51.5) scale(1 1.04)">0.4</text>
<line x1="1010.4" y1="285.2" x2="1010.4" y2="292.7" stroke="#000" stroke-width="2.3" stroke-linecap="butt"/>
<line x1="1041.27" y1="285.2" x2="1041.27" y2="292.7" stroke="#000" stroke-width="2.3" stroke-linecap="butt"/>
<line x1="1072.14" y1="285.2" x2="1072.14" y2="292.7" stroke="#000" stroke-width="2.3" stroke-linecap="butt"/>
<line x1="1103.01" y1="285.2" x2="1103.01" y2="292.7" stroke="#000" stroke-width="2.3" stroke-linecap="butt"/>
<line x1="1133.88" y1="285.2" x2="1133.88" y2="292.7" stroke="#000" stroke-width="2.3" stroke-linecap="butt"/>
<line x1="1164.75" y1="285.2" x2="1164.75" y2="292.7" stroke="#000" stroke-width="2.3" stroke-linecap="butt"/>
<line x1="1195.62" y1="285.2" x2="1195.62" y2="292.7" stroke="#000" stroke-width="2.3" stroke-linecap="butt"/>
<line x1="1226.49" y1="285.2" x2="1226.49" y2="292.7" stroke="#000" stroke-width="2.3" stroke-linecap="butt"/>
<text font-size="33.5" text-anchor="end" transform="translate(1021.8 296.7) rotate(-90) scale(1 1.04)">M+2</text>
<text font-size="33.5" text-anchor="end" transform="translate(1052.67 296.7) rotate(-90) scale(1 1.04)">M+4</text>
<text font-size="33.5" text-anchor="end" transform="translate(1083.54 296.7) rotate(-90) scale(1 1.04)">M+6</text>
<text font-size="33.5" text-anchor="end" transform="translate(1114.41 296.7) rotate(-90) scale(1 1.04)">M+8</text>
<text font-size="33.5" text-anchor="end" transform="translate(1145.28 296.7) rotate(-90) scale(1 1.04)">M+10</text>
<text font-size="33.5" text-anchor="end" transform="translate(1176.15 296.7) rotate(-90) scale(1 1.04)">M+12</text>
<text font-size="33.5" text-anchor="end" transform="translate(1207.02 296.7) rotate(-90) scale(1 1.04)">M+14</text>
<text font-size="33.5" text-anchor="end" transform="translate(1237.89 296.7) rotate(-90) scale(1 1.04)">M+16</text>
<rect x="587.9" y="402.3" width="25.7" height="29" fill="#a0a0a0" stroke="#636363" stroke-width="2.6"/>
<text font-size="33.5" transform="translate(629.2 428) scale(1 1.04)">sgNTC</text>
<rect x="786.2" y="402.3" width="25.7" height="29" fill="#f9c18c" stroke="#ef9038" stroke-width="2.6"/>
<text font-size="33.5" transform="translate(827.5 428) scale(1 1.04)">sg<tspan font-style="italic">Bdh1</tspan> #1</text>
<rect x="1034.5" y="402.3" width="25.7" height="29" fill="#9dd3e4" stroke="#1eaacd" stroke-width="2.6"/>
<text font-size="33.5" transform="translate(1074.8 428) scale(1 1.04)">sg<tspan font-style="italic">Bdh1</tspan> #2</text>
<text x="1241.15" y="39.1" font-size="50" font-weight="bold" fill="#231f20">c</text>
<text x="1320.2" y="154.95" font-size="33.5" text-anchor="middle" transform="rotate(-90 1320.2 154.95)">Cytosolic acetyl-CoA</text>
<text x="1357.9" y="153.75" font-size="33.5" text-anchor="middle" transform="rotate(-90 1357.9 153.75)">Fraction Labeled</text>
<rect x="1448.3" y="85.95" width="25" height="199.35" fill="#f9c18c" stroke="#ef9038" stroke-width="2.4"/>
<line x1="1460.8" y1="85.22" x2="1460.8" y2="85.95" stroke="#ef9038" stroke-width="2" stroke-linecap="butt"/>
<line x1="1453.05" y1="85.22" x2="1468.55" y2="85.22" stroke="#ef9038" stroke-width="2.2" stroke-linecap="butt"/>
<rect x="1483.6" y="268.67" width="25" height="16.63" fill="#f9c18c" stroke="#ef9038" stroke-width="2.4"/>
<line x1="1496.1" y1="268.18" x2="1496.1" y2="268.67" stroke="#ef9038" stroke-width="2" stroke-linecap="butt"/>
<line x1="1488.35" y1="268.18" x2="1503.85" y2="268.18" stroke="#ef9038" stroke-width="2.2" stroke-linecap="butt"/>
<line x1="1432.7" y1="39.55" x2="1432.7" y2="286.45" stroke="#000" stroke-width="2.3" stroke-linecap="butt"/>
<line x1="1426.2" y1="285.3" x2="1524.7" y2="285.3" stroke="#000" stroke-width="2.3" stroke-linecap="butt"/>
<line x1="1426.2" y1="285.3" x2="1432.7" y2="285.3" stroke="#000" stroke-width="2.3" stroke-linecap="butt"/>
<text font-size="33.5" text-anchor="end" transform="translate(1420.9 296.6) scale(1 1.04)">0.0</text>
<line x1="1426.2" y1="236.38" x2="1432.7" y2="236.38" stroke="#000" stroke-width="2.3" stroke-linecap="butt"/>
<text font-size="33.5" text-anchor="end" transform="translate(1420.9 247.68) scale(1 1.04)">0.2</text>
<line x1="1426.2" y1="187.46" x2="1432.7" y2="187.46" stroke="#000" stroke-width="2.3" stroke-linecap="butt"/>
<text font-size="33.5" text-anchor="end" transform="translate(1420.9 198.76) scale(1 1.04)">0.4</text>
<line x1="1426.2" y1="138.54" x2="1432.7" y2="138.54" stroke="#000" stroke-width="2.3" stroke-linecap="butt"/>
<text font-size="33.5" text-anchor="end" transform="translate(1420.9 149.84) scale(1 1.04)">0.6</text>
<line x1="1426.2" y1="89.62" x2="1432.7" y2="89.62" stroke="#000" stroke-width="2.3" stroke-linecap="butt"/>
<text font-size="33.5" text-anchor="end" transform="translate(1420.9 100.92) scale(1 1.04)">0.8</text>
<line x1="1426.2" y1="40.7" x2="1432.7" y2="40.7" stroke="#000" stroke-width="2.3" stroke-linecap="butt"/>
<text font-size="33.5" text-anchor="end" transform="translate(1420.9 52) scale(1 1.04)">1.0</text>
<line x1="1460.8" y1="285.3" x2="1460.8" y2="292.8" stroke="#000" stroke-width="2.3" stroke-linecap="butt"/>
<line x1="1496.1" y1="285.3" x2="1496.1" y2="292.8" stroke="#000" stroke-width="2.3" stroke-linecap="butt"/>
<rect x="1612.7" y="83.26" width="25" height="202.04" fill="#f9c18c" stroke="#ef9038" stroke-width="2.4"/>
<line x1="1625.2" y1="82.28" x2="1625.2" y2="83.26" stroke="#ef9038" stroke-width="2" stroke-linecap="butt"/>
<line x1="1617.45" y1="82.28" x2="1632.95" y2="82.28" stroke="#ef9038" stroke-width="2.2" stroke-linecap="butt"/>
<rect x="1648" y="252.28" width="25" height="33.02" fill="#f9c18c" stroke="#ef9038" stroke-width="2.4"/>
<line x1="1660.5" y1="251.79" x2="1660.5" y2="252.28" stroke="#ef9038" stroke-width="2" stroke-linecap="butt"/>
<line x1="1652.75" y1="251.79" x2="1668.25" y2="251.79" stroke="#ef9038" stroke-width="2.2" stroke-linecap="butt"/>
<rect x="1652.8" y="283.57" width="15.4" height="1.6" fill="#8a8a8a" stroke="#8a8a8a" stroke-width="0.4"/>
<line x1="1597.4" y1="39.55" x2="1597.4" y2="286.45" stroke="#000" stroke-width="2.3" stroke-linecap="butt"/>
<line x1="1590.9" y1="285.3" x2="1688.8" y2="285.3" stroke="#000" stroke-width="2.3" stroke-linecap="butt"/>
<line x1="1590.9" y1="285.3" x2="1597.4" y2="285.3" stroke="#000" stroke-width="2.3" stroke-linecap="butt"/>
<text font-size="33.5" text-anchor="end" transform="translate(1585.6 296.6) scale(1 1.04)">0.0</text>
<line x1="1590.9" y1="236.38" x2="1597.4" y2="236.38" stroke="#000" stroke-width="2.3" stroke-linecap="butt"/>
<text font-size="33.5" text-anchor="end" transform="translate(1585.6 247.68) scale(1 1.04)">0.2</text>
<line x1="1590.9" y1="187.46" x2="1597.4" y2="187.46" stroke="#000" stroke-width="2.3" stroke-linecap="butt"/>
<text font-size="33.5" text-anchor="end" transform="translate(1585.6 198.76) scale(1 1.04)">0.4</text>
<line x1="1590.9" y1="138.54" x2="1597.4" y2="138.54" stroke="#000" stroke-width="2.3" stroke-linecap="butt"/>
<text font-size="33.5" text-anchor="end" transform="translate(1585.6 149.84) scale(1 1.04)">0.6</text>
<line x1="1590.9" y1="89.62" x2="1597.4" y2="89.62" stroke="#000" stroke-width="2.3" stroke-linecap="butt"/>
<text font-size="33.5" text-anchor="end" transform="translate(1585.6 100.92) scale(1 1.04)">0.8</text>
<line x1="1590.9" y1="40.7" x2="1597.4" y2="40.7" stroke="#000" stroke-width="2.3" stroke-linecap="butt"/>
<text font-size="33.5" text-anchor="end" transform="translate(1585.6 52) scale(1 1.04)">1.0</text>
<line x1="1625.2" y1="285.3" x2="1625.2" y2="292.8" stroke="#000" stroke-width="2.3" stroke-linecap="butt"/>
<line x1="1660.5" y1="285.3" x2="1660.5" y2="292.8" stroke="#000" stroke-width="2.3" stroke-linecap="butt"/>
<rect x="1706.5" y="49.7" width="25.5" height="28.8" fill="#a0a0a0" stroke="#5c5c5c" stroke-width="2.6"/>
<text font-size="33.5" transform="translate(1746.35 75.2) scale(1 1.04)">M+1</text>
<rect x="1706.5" y="89.4" width="25.5" height="28.8" fill="#f9c18c" stroke="#ee9036" stroke-width="2.6"/>
<text font-size="33.5" transform="translate(1746.35 114.9) scale(1 1.04)">M+2</text>
<text font-size="33.5" text-anchor="end" transform="translate(1468.4 319.4) rotate(-45) scale(1 1.04)">sgNTC</text>
<text font-size="33.5" text-anchor="end" transform="translate(1516.8 319.4) rotate(-45) scale(1 1.04)">sg<tspan font-style="italic">Bdh1</tspan> #1</text>
<text font-size="33.5" text-anchor="end" transform="translate(1632.8 319.4) rotate(-45) scale(1 1.04)">sgNTC</text>
<text font-size="33.5" text-anchor="end" transform="translate(1681.2 319.4) rotate(-45) scale(1 1.04)">sg<tspan font-style="italic">Bdh1</tspan> #2</text>
<text x="-1.05" y="508.9" font-size="50" font-weight="bold" fill="#231f20">d</text>
<text x="35.8" y="655.9" font-size="33.5" text-anchor="middle" transform="rotate(-90 35.8 655.9)">Citrate</text>
<text x="73.8" y="656.55" font-size="33.5" text-anchor="middle" transform="rotate(-90 73.8 656.55)">Fraction Labeled</text>
<rect x="163.7" y="599.85" width="26" height="4.4" fill="#8dc4b3" stroke="#12907a" stroke-width="2.4"/>
<rect x="163.7" y="604.24" width="26" height="12.71" fill="#a9a9d0" stroke="#6f72a6" stroke-width="2.4"/>
<rect x="163.7" y="616.95" width="26" height="36.17" fill="#f3a28b" stroke="#e04a3a" stroke-width="2.4"/>
<rect x="163.7" y="653.12" width="26" height="9.53" fill="#9dd3e4" stroke="#1eaacd" stroke-width="2.4"/>
<rect x="163.7" y="662.66" width="26" height="120.24" fill="#f9c18c" stroke="#ee9036" stroke-width="2.4"/>
<rect x="163.7" y="782.9" width="26" height="4.4" fill="#a0a0a0" stroke="#5c5c5c" stroke-width="2.4"/>
<line x1="176.7" y1="781.92" x2="176.7" y2="783.88" stroke="#5c5c5c" stroke-width="2" stroke-linecap="butt"/>
<line x1="168.95" y1="781.92" x2="184.45" y2="781.92" stroke="#5c5c5c" stroke-width="2.2" stroke-linecap="butt"/>
<line x1="168.95" y1="783.88" x2="184.45" y2="783.88" stroke="#5c5c5c" stroke-width="2.2" stroke-linecap="butt"/>
<line x1="176.7" y1="659.97" x2="176.7" y2="665.34" stroke="#ee9036" stroke-width="2" stroke-linecap="butt"/>
<line x1="168.95" y1="659.97" x2="184.45" y2="659.97" stroke="#ee9036" stroke-width="2.2" stroke-linecap="butt"/>
<line x1="168.95" y1="665.34" x2="184.45" y2="665.34" stroke="#ee9036" stroke-width="2.2" stroke-linecap="butt"/>
<line x1="176.7" y1="651.41" x2="176.7" y2="654.84" stroke="#1eaacd" stroke-width="2" stroke-linecap="butt"/>
<line x1="168.95" y1="651.41" x2="184.45" y2="651.41" stroke="#1eaacd" stroke-width="2.2" stroke-linecap="butt"/>
<line x1="168.95" y1="654.84" x2="184.45" y2="654.84" stroke="#1eaacd" stroke-width="2.2" stroke-linecap="butt"/>
<line x1="176.7" y1="614.02" x2="176.7" y2="619.89" stroke="#e04a3a" stroke-width="2" stroke-linecap="butt"/>
<line x1="168.95" y1="614.02" x2="184.45" y2="614.02" stroke="#e04a3a" stroke-width="2.2" stroke-linecap="butt"/>
<line x1="168.95" y1="619.89" x2="184.45" y2="619.89" stroke="#e04a3a" stroke-width="2.2" stroke-linecap="butt"/>
<line x1="176.7" y1="603.27" x2="176.7" y2="605.22" stroke="#6f72a6" stroke-width="2" stroke-linecap="butt"/>
<line x1="168.95" y1="603.27" x2="184.45" y2="603.27" stroke="#6f72a6" stroke-width="2.2" stroke-linecap="butt"/>
<line x1="168.95" y1="605.22" x2="184.45" y2="605.22" stroke="#6f72a6" stroke-width="2.2" stroke-linecap="butt"/>
<line x1="176.7" y1="598.38" x2="176.7" y2="601.31" stroke="#12907a" stroke-width="2" stroke-linecap="butt"/>
<line x1="168.95" y1="598.38" x2="184.45" y2="598.38" stroke="#12907a" stroke-width="2.2" stroke-linecap="butt"/>
<line x1="168.95" y1="601.31" x2="184.45" y2="601.31" stroke="#12907a" stroke-width="2.2" stroke-linecap="butt"/>
<rect x="198.9" y="775.57" width="26" height="0.24" fill="#8dc4b3" stroke="#12907a" stroke-width="2.4"/>
<rect x="198.9" y="775.81" width="26" height="0.01" fill="#a9a9d0" stroke="#6f72a6" stroke-width="2.4"/>
<rect x="198.9" y="775.81" width="26" height="0.24" fill="#f3a28b" stroke="#e04a3a" stroke-width="2.4"/>
<rect x="198.9" y="776.06" width="26" height="0.24" fill="#9dd3e4" stroke="#1eaacd" stroke-width="2.4"/>
<rect x="198.9" y="776.3" width="26" height="9.78" fill="#f9c18c" stroke="#ee9036" stroke-width="2.4"/>
<rect x="198.9" y="786.08" width="26" height="1.22" fill="#a0a0a0" stroke="#5c5c5c" stroke-width="2.4"/>
<line x1="211.9" y1="785.59" x2="211.9" y2="786.57" stroke="#5c5c5c" stroke-width="2" stroke-linecap="butt"/>
<line x1="204.15" y1="785.59" x2="219.65" y2="785.59" stroke="#5c5c5c" stroke-width="2.2" stroke-linecap="butt"/>
<line x1="204.15" y1="786.57" x2="219.65" y2="786.57" stroke="#5c5c5c" stroke-width="2.2" stroke-linecap="butt"/>
<line x1="211.9" y1="775.81" x2="211.9" y2="776.79" stroke="#ee9036" stroke-width="2" stroke-linecap="butt"/>
<line x1="204.15" y1="775.81" x2="219.65" y2="775.81" stroke="#ee9036" stroke-width="2.2" stroke-linecap="butt"/>
<line x1="204.15" y1="776.79" x2="219.65" y2="776.79" stroke="#ee9036" stroke-width="2.2" stroke-linecap="butt"/>
<line x1="211.9" y1="775.32" x2="211.9" y2="775.81" stroke="#12907a" stroke-width="2" stroke-linecap="butt"/>
<line x1="204.15" y1="775.32" x2="219.65" y2="775.32" stroke="#12907a" stroke-width="2.2" stroke-linecap="butt"/>
<line x1="204.15" y1="775.81" x2="219.65" y2="775.81" stroke="#12907a" stroke-width="2.2" stroke-linecap="butt"/>
<line x1="148.5" y1="541.75" x2="148.5" y2="788.45" stroke="#000" stroke-width="2.3" stroke-linecap="butt"/>
<line x1="142" y1="787.3" x2="240.3" y2="787.3" stroke="#000" stroke-width="2.3" stroke-linecap="butt"/>
<line x1="142" y1="787.3" x2="148.5" y2="787.3" stroke="#000" stroke-width="2.3" stroke-linecap="butt"/>
<text font-size="33.5" text-anchor="end" transform="translate(136.7 798.6) scale(1 1.04)">0.0</text>
<line x1="142" y1="738.42" x2="148.5" y2="738.42" stroke="#000" stroke-width="2.3" stroke-linecap="butt"/>
<text font-size="33.5" text-anchor="end" transform="translate(136.7 749.72) scale(1 1.04)">0.2</text>
<line x1="142" y1="689.54" x2="148.5" y2="689.54" stroke="#000" stroke-width="2.3" stroke-linecap="butt"/>
<text font-size="33.5" text-anchor="end" transform="translate(136.7 700.84) scale(1 1.04)">0.4</text>
<line x1="142" y1="640.66" x2="148.5" y2="640.66" stroke="#000" stroke-width="2.3" stroke-linecap="butt"/>
<text font-size="33.5" text-anchor="end" transform="translate(136.7 651.96) scale(1 1.04)">0.6</text>
<line x1="142" y1="591.78" x2="148.5" y2="591.78" stroke="#000" stroke-width="2.3" stroke-linecap="butt"/>
<text font-size="33.5" text-anchor="end" transform="translate(136.7 603.08) scale(1 1.04)">0.8</text>
<line x1="142" y1="542.9" x2="148.5" y2="542.9" stroke="#000" stroke-width="2.3" stroke-linecap="butt"/>
<text font-size="33.5" text-anchor="end" transform="translate(136.7 554.2) scale(1 1.04)">1.0</text>
<line x1="176.7" y1="787.3" x2="176.7" y2="794.8" stroke="#000" stroke-width="2.3" stroke-linecap="butt"/>
<line x1="211.9" y1="787.3" x2="211.9" y2="794.8" stroke="#000" stroke-width="2.3" stroke-linecap="butt"/>
<rect x="319.3" y="553.9" width="26" height="53.28" fill="#8dc4b3" stroke="#12907a" stroke-width="2.4"/>
<rect x="319.3" y="607.18" width="26" height="54.75" fill="#a9a9d0" stroke="#6f72a6" stroke-width="2.4"/>
<rect x="319.3" y="661.92" width="26" height="53.03" fill="#f3a28b" stroke="#e04a3a" stroke-width="2.4"/>
<rect x="319.3" y="714.96" width="26" height="10.75" fill="#9dd3e4" stroke="#1eaacd" stroke-width="2.4"/>
<rect x="319.3" y="725.71" width="26" height="60.12" fill="#f9c18c" stroke="#ee9036" stroke-width="2.4"/>
<rect x="319.3" y="785.83" width="26" height="1.47" fill="#a0a0a0" stroke="#5c5c5c" stroke-width="2.4"/>
<line x1="332.3" y1="785.34" x2="332.3" y2="786.32" stroke="#5c5c5c" stroke-width="2" stroke-linecap="butt"/>
<line x1="324.55" y1="785.34" x2="340.05" y2="785.34" stroke="#5c5c5c" stroke-width="2.2" stroke-linecap="butt"/>
<line x1="324.55" y1="786.32" x2="340.05" y2="786.32" stroke="#5c5c5c" stroke-width="2.2" stroke-linecap="butt"/>
<line x1="332.3" y1="723.27" x2="332.3" y2="728.16" stroke="#ee9036" stroke-width="2" stroke-linecap="butt"/>
<line x1="324.55" y1="723.27" x2="340.05" y2="723.27" stroke="#ee9036" stroke-width="2.2" stroke-linecap="butt"/>
<line x1="324.55" y1="728.16" x2="340.05" y2="728.16" stroke="#ee9036" stroke-width="2.2" stroke-linecap="butt"/>
<line x1="332.3" y1="713.49" x2="332.3" y2="716.42" stroke="#1eaacd" stroke-width="2" stroke-linecap="butt"/>
<line x1="324.55" y1="713.49" x2="340.05" y2="713.49" stroke="#1eaacd" stroke-width="2.2" stroke-linecap="butt"/>
<line x1="324.55" y1="716.42" x2="340.05" y2="716.42" stroke="#1eaacd" stroke-width="2.2" stroke-linecap="butt"/>
<line x1="332.3" y1="660.7" x2="332.3" y2="663.14" stroke="#e04a3a" stroke-width="2" stroke-linecap="butt"/>
<line x1="324.55" y1="660.7" x2="340.05" y2="660.7" stroke="#e04a3a" stroke-width="2.2" stroke-linecap="butt"/>
<line x1="324.55" y1="663.14" x2="340.05" y2="663.14" stroke="#e04a3a" stroke-width="2.2" stroke-linecap="butt"/>
<line x1="332.3" y1="605.71" x2="332.3" y2="608.64" stroke="#6f72a6" stroke-width="2" stroke-linecap="butt"/>
<line x1="324.55" y1="605.71" x2="340.05" y2="605.71" stroke="#6f72a6" stroke-width="2.2" stroke-linecap="butt"/>
<line x1="324.55" y1="608.64" x2="340.05" y2="608.64" stroke="#6f72a6" stroke-width="2.2" stroke-linecap="butt"/>
<line x1="332.3" y1="549.99" x2="332.3" y2="557.81" stroke="#12907a" stroke-width="2" stroke-linecap="butt"/>
<line x1="324.55" y1="549.99" x2="340.05" y2="549.99" stroke="#12907a" stroke-width="2.2" stroke-linecap="butt"/>
<line x1="324.55" y1="557.81" x2="340.05" y2="557.81" stroke="#12907a" stroke-width="2.2" stroke-linecap="butt"/>
<rect x="354.6" y="676.83" width="26" height="2.44" fill="#8dc4b3" stroke="#12907a" stroke-width="2.4"/>
<rect x="354.6" y="679.28" width="26" height="5.13" fill="#a9a9d0" stroke="#6f72a6" stroke-width="2.4"/>
<rect x="354.6" y="684.41" width="26" height="13.69" fill="#f3a28b" stroke="#e04a3a" stroke-width="2.4"/>
<rect x="354.6" y="698.09" width="26" height="12.22" fill="#9dd3e4" stroke="#1eaacd" stroke-width="2.4"/>
<rect x="354.6" y="710.31" width="26" height="65.25" fill="#f9c18c" stroke="#ee9036" stroke-width="2.4"/>
<rect x="354.6" y="775.57" width="26" height="11.73" fill="#a0a0a0" stroke="#5c5c5c" stroke-width="2.4"/>
<line x1="367.6" y1="774.1" x2="367.6" y2="777.04" stroke="#5c5c5c" stroke-width="2" stroke-linecap="butt"/>
<line x1="359.85" y1="774.1" x2="375.35" y2="774.1" stroke="#5c5c5c" stroke-width="2.2" stroke-linecap="butt"/>
<line x1="359.85" y1="777.04" x2="375.35" y2="777.04" stroke="#5c5c5c" stroke-width="2.2" stroke-linecap="butt"/>
<line x1="367.6" y1="708.36" x2="367.6" y2="712.27" stroke="#ee9036" stroke-width="2" stroke-linecap="butt"/>
<line x1="359.85" y1="708.36" x2="375.35" y2="708.36" stroke="#ee9036" stroke-width="2.2" stroke-linecap="butt"/>
<line x1="359.85" y1="712.27" x2="375.35" y2="712.27" stroke="#ee9036" stroke-width="2.2" stroke-linecap="butt"/>
<line x1="367.6" y1="696.14" x2="367.6" y2="700.05" stroke="#1eaacd" stroke-width="2" stroke-linecap="butt"/>
<line x1="359.85" y1="696.14" x2="375.35" y2="696.14" stroke="#1eaacd" stroke-width="2.2" stroke-linecap="butt"/>
<line x1="359.85" y1="700.05" x2="375.35" y2="700.05" stroke="#1eaacd" stroke-width="2.2" stroke-linecap="butt"/>
<line x1="367.6" y1="682.7" x2="367.6" y2="686.12" stroke="#e04a3a" stroke-width="2" stroke-linecap="butt"/>
<line x1="359.85" y1="682.7" x2="375.35" y2="682.7" stroke="#e04a3a" stroke-width="2.2" stroke-linecap="butt"/>
<line x1="359.85" y1="686.12" x2="375.35" y2="686.12" stroke="#e04a3a" stroke-width="2.2" stroke-linecap="butt"/>
<line x1="367.6" y1="678.3" x2="367.6" y2="680.25" stroke="#6f72a6" stroke-width="2" stroke-linecap="butt"/>
<line x1="359.85" y1="678.3" x2="375.35" y2="678.3" stroke="#6f72a6" stroke-width="2.2" stroke-linecap="butt"/>
<line x1="359.85" y1="680.25" x2="375.35" y2="680.25" stroke="#6f72a6" stroke-width="2.2" stroke-linecap="butt"/>
<line x1="367.6" y1="675.85" x2="367.6" y2="677.81" stroke="#12907a" stroke-width="2" stroke-linecap="butt"/>
<line x1="359.85" y1="675.85" x2="375.35" y2="675.85" stroke="#12907a" stroke-width="2.2" stroke-linecap="butt"/>
<line x1="359.85" y1="677.81" x2="375.35" y2="677.81" stroke="#12907a" stroke-width="2.2" stroke-linecap="butt"/>
<line x1="304.2" y1="541.75" x2="304.2" y2="788.45" stroke="#000" stroke-width="2.3" stroke-linecap="butt"/>
<line x1="297.7" y1="787.3" x2="395.8" y2="787.3" stroke="#000" stroke-width="2.3" stroke-linecap="butt"/>
<line x1="297.7" y1="787.3" x2="304.2" y2="787.3" stroke="#000" stroke-width="2.3" stroke-linecap="butt"/>
<text font-size="33.5" text-anchor="end" transform="translate(292.4 798.6) scale(1 1.04)">0.0</text>
<line x1="297.7" y1="738.42" x2="304.2" y2="738.42" stroke="#000" stroke-width="2.3" stroke-linecap="butt"/>
<text font-size="33.5" text-anchor="end" transform="translate(292.4 749.72) scale(1 1.04)">0.2</text>
<line x1="297.7" y1="689.54" x2="304.2" y2="689.54" stroke="#000" stroke-width="2.3" stroke-linecap="butt"/>
<text font-size="33.5" text-anchor="end" transform="translate(292.4 700.84) scale(1 1.04)">0.4</text>
<line x1="297.7" y1="640.66" x2="304.2" y2="640.66" stroke="#000" stroke-width="2.3" stroke-linecap="butt"/>
<text font-size="33.5" text-anchor="end" transform="translate(292.4 651.96) scale(1 1.04)">0.6</text>
<line x1="297.7" y1="591.78" x2="304.2" y2="591.78" stroke="#000" stroke-width="2.3" stroke-linecap="butt"/>
<text font-size="33.5" text-anchor="end" transform="translate(292.4 603.08) scale(1 1.04)">0.8</text>
<line x1="297.7" y1="542.9" x2="304.2" y2="542.9" stroke="#000" stroke-width="2.3" stroke-linecap="butt"/>
<text font-size="33.5" text-anchor="end" transform="translate(292.4 554.2) scale(1 1.04)">1.0</text>
<line x1="332.3" y1="787.3" x2="332.3" y2="794.8" stroke="#000" stroke-width="2.3" stroke-linecap="butt"/>
<line x1="367.6" y1="787.3" x2="367.6" y2="794.8" stroke="#000" stroke-width="2.3" stroke-linecap="butt"/>
<rect x="409.4" y="546.9" width="25.7" height="28.7" fill="#a0a0a0" stroke="#5c5c5c" stroke-width="2.6"/>
<text font-size="33.5" transform="translate(449.2 572.35) scale(1 1.04)">M+1</text>
<rect x="409.4" y="588.5" width="25.7" height="28.7" fill="#f9c18c" stroke="#ee9036" stroke-width="2.6"/>
<text font-size="33.5" transform="translate(449.2 613.95) scale(1 1.04)">M+2</text>
<rect x="409.4" y="630.1" width="25.7" height="28.7" fill="#9dd3e4" stroke="#1eaacd" stroke-width="2.6"/>
<text font-size="33.5" transform="translate(449.2 655.55) scale(1 1.04)">M+3</text>
<rect x="409.4" y="671.7" width="25.7" height="28.7" fill="#f3a28b" stroke="#e04a3a" stroke-width="2.6"/>
<text font-size="33.5" transform="translate(449.2 697.15) scale(1 1.04)">M+4</text>
<rect x="409.4" y="713.3" width="25.7" height="28.7" fill="#a9a9d0" stroke="#6f72a6" stroke-width="2.6"/>
<text font-size="33.5" transform="translate(449.2 738.75) scale(1 1.04)">M+5</text>
<rect x="409.4" y="754.9" width="25.7" height="28.7" fill="#8dc4b3" stroke="#12907a" stroke-width="2.6"/>
<text font-size="33.5" transform="translate(449.2 780.35) scale(1 1.04)">M+6</text>
<text font-size="33.5" text-anchor="end" transform="translate(184.3 821.2) rotate(-45) scale(1 1.04)">sgNTC</text>
<text font-size="33.5" text-anchor="end" transform="translate(232.6 821.2) rotate(-45) scale(1 1.04)">sg<tspan font-style="italic">Oxct1</tspan> #1</text>
<text font-size="33.5" text-anchor="end" transform="translate(339.9 821.2) rotate(-45) scale(1 1.04)">sgNTC</text>
<text font-size="33.5" text-anchor="end" transform="translate(388.3 821.2) rotate(-45) scale(1 1.04)">sg<tspan font-style="italic">Oxct1</tspan> #2</text>
<text x="527.85" y="508.9" font-size="50" font-weight="bold" fill="#231f20">e</text>
<text x="586.6" y="655.2" font-size="33.5" text-anchor="middle" transform="rotate(-90 586.6 655.2)">16:0 MID</text>
<rect x="667.05" y="782.92" width="6.9" height="4.08" fill="#a0a0a0" stroke="#636363" stroke-width="2.3"/>
<rect x="678.05" y="637.55" width="6.9" height="149.45" fill="#f9c18c" stroke="#ef9038" stroke-width="2.3"/>
<line x1="681.5" y1="635.92" x2="681.5" y2="639.18" stroke="#ef9038" stroke-width="2" stroke-linecap="butt"/>
<line x1="678.5" y1="635.92" x2="684.5" y2="635.92" stroke="#ef9038" stroke-width="2.2" stroke-linecap="butt"/>
<line x1="678.5" y1="639.18" x2="684.5" y2="639.18" stroke="#ef9038" stroke-width="2.2" stroke-linecap="butt"/>
<rect x="697.92" y="783.73" width="6.9" height="3.27" fill="#a0a0a0" stroke="#636363" stroke-width="2.3"/>
<rect x="708.92" y="607.33" width="6.9" height="179.67" fill="#f9c18c" stroke="#ef9038" stroke-width="2.3"/>
<line x1="712.37" y1="606.52" x2="712.37" y2="608.15" stroke="#ef9038" stroke-width="2" stroke-linecap="butt"/>
<line x1="709.37" y1="606.52" x2="715.37" y2="606.52" stroke="#ef9038" stroke-width="2.2" stroke-linecap="butt"/>
<line x1="709.37" y1="608.15" x2="715.37" y2="608.15" stroke="#ef9038" stroke-width="2.2" stroke-linecap="butt"/>
<rect x="728.79" y="774.75" width="6.9" height="12.25" fill="#a0a0a0" stroke="#636363" stroke-width="2.3"/>
<line x1="732.24" y1="773.93" x2="732.24" y2="775.57" stroke="#636363" stroke-width="2" stroke-linecap="butt"/>
<line x1="729.24" y1="773.93" x2="735.24" y2="773.93" stroke="#636363" stroke-width="2.2" stroke-linecap="butt"/>
<line x1="729.24" y1="775.57" x2="735.24" y2="775.57" stroke="#636363" stroke-width="2.2" stroke-linecap="butt"/>
<rect x="739.79" y="653.07" width="6.9" height="133.93" fill="#f9c18c" stroke="#ef9038" stroke-width="2.3"/>
<line x1="743.24" y1="652.25" x2="743.24" y2="653.88" stroke="#ef9038" stroke-width="2" stroke-linecap="butt"/>
<line x1="740.24" y1="652.25" x2="746.24" y2="652.25" stroke="#ef9038" stroke-width="2.2" stroke-linecap="butt"/>
<line x1="740.24" y1="653.88" x2="746.24" y2="653.88" stroke="#ef9038" stroke-width="2.2" stroke-linecap="butt"/>
<rect x="759.66" y="752.7" width="6.9" height="34.3" fill="#a0a0a0" stroke="#636363" stroke-width="2.3"/>
<line x1="763.11" y1="750.25" x2="763.11" y2="755.15" stroke="#636363" stroke-width="2" stroke-linecap="butt"/>
<line x1="760.11" y1="750.25" x2="766.11" y2="750.25" stroke="#636363" stroke-width="2.2" stroke-linecap="butt"/>
<line x1="760.11" y1="755.15" x2="766.11" y2="755.15" stroke="#636363" stroke-width="2.2" stroke-linecap="butt"/>
<rect x="770.66" y="717.58" width="6.9" height="69.42" fill="#f9c18c" stroke="#ef9038" stroke-width="2.3"/>
<line x1="774.11" y1="716.77" x2="774.11" y2="718.4" stroke="#ef9038" stroke-width="2" stroke-linecap="butt"/>
<line x1="771.11" y1="716.77" x2="777.11" y2="716.77" stroke="#ef9038" stroke-width="2.2" stroke-linecap="butt"/>
<line x1="771.11" y1="718.4" x2="777.11" y2="718.4" stroke="#ef9038" stroke-width="2.2" stroke-linecap="butt"/>
<rect x="790.53" y="711.05" width="6.9" height="75.95" fill="#a0a0a0" stroke="#636363" stroke-width="2.3"/>
<line x1="793.98" y1="705.33" x2="793.98" y2="716.77" stroke="#636363" stroke-width="2" stroke-linecap="butt"/>
<line x1="790.98" y1="705.33" x2="796.98" y2="705.33" stroke="#636363" stroke-width="2.2" stroke-linecap="butt"/>
<line x1="790.98" y1="716.77" x2="796.98" y2="716.77" stroke="#636363" stroke-width="2.2" stroke-linecap="butt"/>
<rect x="801.53" y="760.87" width="6.9" height="26.13" fill="#f9c18c" stroke="#ef9038" stroke-width="2.3"/>
<line x1="804.98" y1="760.05" x2="804.98" y2="761.68" stroke="#ef9038" stroke-width="2" stroke-linecap="butt"/>
<line x1="801.98" y1="760.05" x2="807.98" y2="760.05" stroke="#ef9038" stroke-width="2.2" stroke-linecap="butt"/>
<line x1="801.98" y1="761.68" x2="807.98" y2="761.68" stroke="#ef9038" stroke-width="2.2" stroke-linecap="butt"/>
<rect x="821.4" y="652.25" width="6.9" height="134.75" fill="#a0a0a0" stroke="#636363" stroke-width="2.3"/>
<line x1="824.85" y1="641.63" x2="824.85" y2="662.87" stroke="#636363" stroke-width="2" stroke-linecap="butt"/>
<line x1="821.85" y1="641.63" x2="827.85" y2="641.63" stroke="#636363" stroke-width="2.2" stroke-linecap="butt"/>
<line x1="821.85" y1="662.87" x2="827.85" y2="662.87" stroke="#636363" stroke-width="2.2" stroke-linecap="butt"/>
<rect x="832.4" y="778.83" width="6.9" height="8.17" fill="#f9c18c" stroke="#ef9038" stroke-width="2.3"/>
<rect x="852.27" y="613.87" width="6.9" height="173.13" fill="#a0a0a0" stroke="#636363" stroke-width="2.3"/>
<line x1="855.72" y1="599.98" x2="855.72" y2="627.75" stroke="#636363" stroke-width="2" stroke-linecap="butt"/>
<line x1="852.72" y1="599.98" x2="858.72" y2="599.98" stroke="#636363" stroke-width="2.2" stroke-linecap="butt"/>
<line x1="852.72" y1="627.75" x2="858.72" y2="627.75" stroke="#636363" stroke-width="2.2" stroke-linecap="butt"/>
<rect x="863.27" y="784.55" width="6.9" height="2.45" fill="#f9c18c" stroke="#ef9038" stroke-width="2.3"/>
<rect x="883.14" y="666.13" width="6.9" height="120.87" fill="#a0a0a0" stroke="#636363" stroke-width="2.3"/>
<line x1="886.59" y1="656.33" x2="886.59" y2="675.93" stroke="#636363" stroke-width="2" stroke-linecap="butt"/>
<line x1="883.59" y1="656.33" x2="889.59" y2="656.33" stroke="#636363" stroke-width="2.2" stroke-linecap="butt"/>
<line x1="883.59" y1="675.93" x2="889.59" y2="675.93" stroke="#636363" stroke-width="2.2" stroke-linecap="butt"/>
<rect x="894.14" y="785.37" width="6.9" height="1.63" fill="#f9c18c" stroke="#ef9038" stroke-width="2.3"/>
<circle cx="670.5" cy="782.1" r="2.35" fill="#fff" stroke="#636363" stroke-width="2.3"/>
<circle cx="668.3" cy="782.92" r="2.35" fill="#fff" stroke="#636363" stroke-width="2.3"/>
<circle cx="672.7" cy="782.92" r="2.35" fill="#fff" stroke="#636363" stroke-width="2.3"/>
<circle cx="681.5" cy="631.83" r="2.35" fill="#fff" stroke="#ef9038" stroke-width="2.3"/>
<circle cx="679.3" cy="636.73" r="2.35" fill="#fff" stroke="#ef9038" stroke-width="2.3"/>
<circle cx="683.7" cy="639.18" r="2.35" fill="#fff" stroke="#ef9038" stroke-width="2.3"/>
<circle cx="701.37" cy="783.73" r="2.35" fill="#fff" stroke="#636363" stroke-width="2.3"/>
<circle cx="699.17" cy="783.73" r="2.35" fill="#fff" stroke="#636363" stroke-width="2.3"/>
<circle cx="703.57" cy="783.73" r="2.35" fill="#fff" stroke="#636363" stroke-width="2.3"/>
<circle cx="712.37" cy="605.7" r="2.35" fill="#fff" stroke="#ef9038" stroke-width="2.3"/>
<circle cx="710.17" cy="606.52" r="2.35" fill="#fff" stroke="#ef9038" stroke-width="2.3"/>
<circle cx="714.57" cy="607.33" r="2.35" fill="#fff" stroke="#ef9038" stroke-width="2.3"/>
<circle cx="732.24" cy="773.12" r="2.35" fill="#fff" stroke="#636363" stroke-width="2.3"/>
<circle cx="730.04" cy="775.57" r="2.35" fill="#fff" stroke="#636363" stroke-width="2.3"/>
<circle cx="734.44" cy="776.38" r="2.35" fill="#fff" stroke="#636363" stroke-width="2.3"/>
<circle cx="743.24" cy="650.62" r="2.35" fill="#fff" stroke="#ef9038" stroke-width="2.3"/>
<circle cx="741.04" cy="652.25" r="2.35" fill="#fff" stroke="#ef9038" stroke-width="2.3"/>
<circle cx="745.44" cy="653.88" r="2.35" fill="#fff" stroke="#ef9038" stroke-width="2.3"/>
<circle cx="763.11" cy="748.62" r="2.35" fill="#fff" stroke="#636363" stroke-width="2.3"/>
<circle cx="760.91" cy="754.33" r="2.35" fill="#fff" stroke="#636363" stroke-width="2.3"/>
<circle cx="765.31" cy="754.33" r="2.35" fill="#fff" stroke="#636363" stroke-width="2.3"/>
<circle cx="774.11" cy="715.95" r="2.35" fill="#fff" stroke="#ef9038" stroke-width="2.3"/>
<circle cx="771.91" cy="716.77" r="2.35" fill="#fff" stroke="#ef9038" stroke-width="2.3"/>
<circle cx="776.31" cy="718.4" r="2.35" fill="#fff" stroke="#ef9038" stroke-width="2.3"/>
<circle cx="793.98" cy="700.84" r="2.35" fill="#fff" stroke="#636363" stroke-width="2.3"/>
<circle cx="791.78" cy="715.13" r="2.35" fill="#fff" stroke="#636363" stroke-width="2.3"/>
<circle cx="796.18" cy="714.32" r="2.35" fill="#fff" stroke="#636363" stroke-width="2.3"/>
<circle cx="804.98" cy="760.05" r="2.35" fill="#fff" stroke="#ef9038" stroke-width="2.3"/>
<circle cx="802.78" cy="760.87" r="2.35" fill="#fff" stroke="#ef9038" stroke-width="2.3"/>
<circle cx="807.18" cy="761.68" r="2.35" fill="#fff" stroke="#ef9038" stroke-width="2.3"/>
<circle cx="824.85" cy="631.83" r="2.35" fill="#fff" stroke="#636363" stroke-width="2.3"/>
<circle cx="822.65" cy="659.6" r="2.35" fill="#fff" stroke="#636363" stroke-width="2.3"/>
<circle cx="827.05" cy="664.5" r="2.35" fill="#fff" stroke="#636363" stroke-width="2.3"/>
<circle cx="835.85" cy="778.02" r="2.35" fill="#fff" stroke="#ef9038" stroke-width="2.3"/>
<circle cx="833.65" cy="778.83" r="2.35" fill="#fff" stroke="#ef9038" stroke-width="2.3"/>
<circle cx="838.05" cy="778.83" r="2.35" fill="#fff" stroke="#ef9038" stroke-width="2.3"/>
<circle cx="855.72" cy="587.73" r="2.35" fill="#fff" stroke="#636363" stroke-width="2.3"/>
<circle cx="853.52" cy="625.3" r="2.35" fill="#fff" stroke="#636363" stroke-width="2.3"/>
<circle cx="857.92" cy="626.93" r="2.35" fill="#fff" stroke="#636363" stroke-width="2.3"/>
<circle cx="866.72" cy="784.55" r="2.35" fill="#fff" stroke="#ef9038" stroke-width="2.3"/>
<circle cx="864.52" cy="784.55" r="2.35" fill="#fff" stroke="#ef9038" stroke-width="2.3"/>
<circle cx="868.92" cy="784.55" r="2.35" fill="#fff" stroke="#ef9038" stroke-width="2.3"/>
<circle cx="886.59" cy="648.17" r="2.35" fill="#fff" stroke="#636363" stroke-width="2.3"/>
<circle cx="884.39" cy="670.22" r="2.35" fill="#fff" stroke="#636363" stroke-width="2.3"/>
<circle cx="888.79" cy="677.57" r="2.35" fill="#fff" stroke="#636363" stroke-width="2.3"/>
<circle cx="897.59" cy="784.6" r="2.35" fill="#fff" stroke="#ef9038" stroke-width="2.3"/>
<circle cx="895.39" cy="784.6" r="2.35" fill="#fff" stroke="#ef9038" stroke-width="2.3"/>
<circle cx="899.79" cy="784.6" r="2.35" fill="#fff" stroke="#ef9038" stroke-width="2.3"/>
<line x1="661.4" y1="540.85" x2="661.4" y2="788.15" stroke="#000" stroke-width="2.3" stroke-linecap="butt"/>
<line x1="654.9" y1="787" x2="906" y2="787" stroke="#000" stroke-width="2.3" stroke-linecap="butt"/>
<line x1="654.9" y1="787" x2="661.4" y2="787" stroke="#000" stroke-width="2.3" stroke-linecap="butt"/>
<text font-size="33.5" text-anchor="end" transform="translate(649.6 798.3) scale(1 1.04)">0.0</text>
<line x1="654.9" y1="705.33" x2="661.4" y2="705.33" stroke="#000" stroke-width="2.3" stroke-linecap="butt"/>
<text font-size="33.5" text-anchor="end" transform="translate(649.6 716.63) scale(1 1.04)">0.1</text>
<line x1="654.9" y1="623.67" x2="661.4" y2="623.67" stroke="#000" stroke-width="2.3" stroke-linecap="butt"/>
<text font-size="33.5" text-anchor="end" transform="translate(649.6 634.97) scale(1 1.04)">0.2</text>
<line x1="654.9" y1="542" x2="661.4" y2="542" stroke="#000" stroke-width="2.3" stroke-linecap="butt"/>
<text font-size="33.5" text-anchor="end" transform="translate(649.6 553.3) scale(1 1.04)">0.3</text>
<line x1="675.5" y1="787" x2="675.5" y2="794.5" stroke="#000" stroke-width="2.3" stroke-linecap="butt"/>
<line x1="706.37" y1="787" x2="706.37" y2="794.5" stroke="#000" stroke-width="2.3" stroke-linecap="butt"/>
<line x1="737.24" y1="787" x2="737.24" y2="794.5" stroke="#000" stroke-width="2.3" stroke-linecap="butt"/>
<line x1="768.11" y1="787" x2="768.11" y2="794.5" stroke="#000" stroke-width="2.3" stroke-linecap="butt"/>
<line x1="798.98" y1="787" x2="798.98" y2="794.5" stroke="#000" stroke-width="2.3" stroke-linecap="butt"/>
<line x1="829.85" y1="787" x2="829.85" y2="794.5" stroke="#000" stroke-width="2.3" stroke-linecap="butt"/>
<line x1="860.72" y1="787" x2="860.72" y2="794.5" stroke="#000" stroke-width="2.3" stroke-linecap="butt"/>
<line x1="891.59" y1="787" x2="891.59" y2="794.5" stroke="#000" stroke-width="2.3" stroke-linecap="butt"/>
<text font-size="33.5" text-anchor="end" transform="translate(686.9 798.5) rotate(-90) scale(1 1.04)">M+2</text>
<text font-size="33.5" text-anchor="end" transform="translate(717.77 798.5) rotate(-90) scale(1 1.04)">M+4</text>
<text font-size="33.5" text-anchor="end" transform="translate(748.64 798.5) rotate(-90) scale(1 1.04)">M+6</text>
<text font-size="33.5" text-anchor="end" transform="translate(779.51 798.5) rotate(-90) scale(1 1.04)">M+8</text>
<text font-size="33.5" text-anchor="end" transform="translate(810.38 798.5) rotate(-90) scale(1 1.04)">M+10</text>
<text font-size="33.5" text-anchor="end" transform="translate(841.25 798.5) rotate(-90) scale(1 1.04)">M+12</text>
<text font-size="33.5" text-anchor="end" transform="translate(872.12 798.5) rotate(-90) scale(1 1.04)">M+14</text>
<text font-size="33.5" text-anchor="end" transform="translate(902.99 798.5) rotate(-90) scale(1 1.04)">M+16</text>
<rect x="1001.95" y="783.94" width="6.9" height="3.06" fill="#a0a0a0" stroke="#636363" stroke-width="2.3"/>
<rect x="1012.95" y="715.34" width="6.9" height="71.66" fill="#9dd3e4" stroke="#1eaacd" stroke-width="2.3"/>
<line x1="1016.4" y1="712.89" x2="1016.4" y2="717.79" stroke="#1eaacd" stroke-width="2" stroke-linecap="butt"/>
<line x1="1013.4" y1="712.89" x2="1019.4" y2="712.89" stroke="#1eaacd" stroke-width="2.2" stroke-linecap="butt"/>
<line x1="1013.4" y1="717.79" x2="1019.4" y2="717.79" stroke="#1eaacd" stroke-width="2.2" stroke-linecap="butt"/>
<rect x="1032.82" y="783.94" width="6.9" height="3.06" fill="#a0a0a0" stroke="#636363" stroke-width="2.3"/>
<rect x="1043.82" y="679.2" width="6.9" height="107.8" fill="#9dd3e4" stroke="#1eaacd" stroke-width="2.3"/>
<line x1="1047.27" y1="677.98" x2="1047.27" y2="680.43" stroke="#1eaacd" stroke-width="2" stroke-linecap="butt"/>
<line x1="1044.27" y1="677.98" x2="1050.27" y2="677.98" stroke="#1eaacd" stroke-width="2.2" stroke-linecap="butt"/>
<line x1="1044.27" y1="680.43" x2="1050.27" y2="680.43" stroke="#1eaacd" stroke-width="2.2" stroke-linecap="butt"/>
<rect x="1063.69" y="777.81" width="6.9" height="9.19" fill="#a0a0a0" stroke="#636363" stroke-width="2.3"/>
<line x1="1067.14" y1="777.2" x2="1067.14" y2="778.42" stroke="#636363" stroke-width="2" stroke-linecap="butt"/>
<line x1="1064.14" y1="777.2" x2="1070.14" y2="777.2" stroke="#636363" stroke-width="2.2" stroke-linecap="butt"/>
<line x1="1064.14" y1="778.42" x2="1070.14" y2="778.42" stroke="#636363" stroke-width="2.2" stroke-linecap="butt"/>
<rect x="1074.69" y="670.62" width="6.9" height="116.38" fill="#9dd3e4" stroke="#1eaacd" stroke-width="2.3"/>
<line x1="1078.14" y1="670.01" x2="1078.14" y2="671.24" stroke="#1eaacd" stroke-width="2" stroke-linecap="butt"/>
<line x1="1075.14" y1="670.01" x2="1081.14" y2="670.01" stroke="#1eaacd" stroke-width="2.2" stroke-linecap="butt"/>
<line x1="1075.14" y1="671.24" x2="1081.14" y2="671.24" stroke="#1eaacd" stroke-width="2.2" stroke-linecap="butt"/>
<rect x="1094.56" y="761.27" width="6.9" height="25.73" fill="#a0a0a0" stroke="#636363" stroke-width="2.3"/>
<line x1="1098.01" y1="760.05" x2="1098.01" y2="762.5" stroke="#636363" stroke-width="2" stroke-linecap="butt"/>
<line x1="1095.01" y1="760.05" x2="1101.01" y2="760.05" stroke="#636363" stroke-width="2.2" stroke-linecap="butt"/>
<line x1="1095.01" y1="762.5" x2="1101.01" y2="762.5" stroke="#636363" stroke-width="2.2" stroke-linecap="butt"/>
<rect x="1105.56" y="685.33" width="6.9" height="101.67" fill="#9dd3e4" stroke="#1eaacd" stroke-width="2.3"/>
<line x1="1109.01" y1="684.71" x2="1109.01" y2="685.94" stroke="#1eaacd" stroke-width="2" stroke-linecap="butt"/>
<line x1="1106.01" y1="684.71" x2="1112.01" y2="684.71" stroke="#1eaacd" stroke-width="2.2" stroke-linecap="butt"/>
<line x1="1106.01" y1="685.94" x2="1112.01" y2="685.94" stroke="#1eaacd" stroke-width="2.2" stroke-linecap="butt"/>
<rect x="1125.43" y="722.69" width="6.9" height="64.31" fill="#a0a0a0" stroke="#636363" stroke-width="2.3"/>
<line x1="1128.88" y1="721.46" x2="1128.88" y2="723.91" stroke="#636363" stroke-width="2" stroke-linecap="butt"/>
<line x1="1125.88" y1="721.46" x2="1131.88" y2="721.46" stroke="#636363" stroke-width="2.2" stroke-linecap="butt"/>
<line x1="1125.88" y1="723.91" x2="1131.88" y2="723.91" stroke="#636363" stroke-width="2.2" stroke-linecap="butt"/>
<rect x="1136.43" y="713.5" width="6.9" height="73.5" fill="#9dd3e4" stroke="#1eaacd" stroke-width="2.3"/>
<line x1="1139.88" y1="712.89" x2="1139.88" y2="714.11" stroke="#1eaacd" stroke-width="2" stroke-linecap="butt"/>
<line x1="1136.88" y1="712.89" x2="1142.88" y2="712.89" stroke="#1eaacd" stroke-width="2.2" stroke-linecap="butt"/>
<line x1="1136.88" y1="714.11" x2="1142.88" y2="714.11" stroke="#1eaacd" stroke-width="2.2" stroke-linecap="butt"/>
<rect x="1156.3" y="661.44" width="6.9" height="125.56" fill="#a0a0a0" stroke="#636363" stroke-width="2.3"/>
<line x1="1159.75" y1="660.21" x2="1159.75" y2="662.66" stroke="#636363" stroke-width="2" stroke-linecap="butt"/>
<line x1="1156.75" y1="660.21" x2="1162.75" y2="660.21" stroke="#636363" stroke-width="2.2" stroke-linecap="butt"/>
<line x1="1156.75" y1="662.66" x2="1162.75" y2="662.66" stroke="#636363" stroke-width="2.2" stroke-linecap="butt"/>
<rect x="1167.3" y="746.58" width="6.9" height="40.42" fill="#9dd3e4" stroke="#1eaacd" stroke-width="2.3"/>
<line x1="1170.75" y1="745.96" x2="1170.75" y2="747.19" stroke="#1eaacd" stroke-width="2" stroke-linecap="butt"/>
<line x1="1167.75" y1="745.96" x2="1173.75" y2="745.96" stroke="#1eaacd" stroke-width="2.2" stroke-linecap="butt"/>
<line x1="1167.75" y1="747.19" x2="1173.75" y2="747.19" stroke="#1eaacd" stroke-width="2.2" stroke-linecap="butt"/>
<rect x="1187.17" y="614.27" width="6.9" height="172.73" fill="#a0a0a0" stroke="#636363" stroke-width="2.3"/>
<line x1="1190.62" y1="612.44" x2="1190.62" y2="616.11" stroke="#636363" stroke-width="2" stroke-linecap="butt"/>
<line x1="1187.62" y1="612.44" x2="1193.62" y2="612.44" stroke="#636363" stroke-width="2.2" stroke-linecap="butt"/>
<line x1="1187.62" y1="616.11" x2="1193.62" y2="616.11" stroke="#636363" stroke-width="2.2" stroke-linecap="butt"/>
<rect x="1198.17" y="768.62" width="6.9" height="18.38" fill="#9dd3e4" stroke="#1eaacd" stroke-width="2.3"/>
<line x1="1201.62" y1="768.01" x2="1201.62" y2="769.24" stroke="#1eaacd" stroke-width="2" stroke-linecap="butt"/>
<line x1="1198.62" y1="768.01" x2="1204.62" y2="768.01" stroke="#1eaacd" stroke-width="2.2" stroke-linecap="butt"/>
<line x1="1198.62" y1="769.24" x2="1204.62" y2="769.24" stroke="#1eaacd" stroke-width="2.2" stroke-linecap="butt"/>
<rect x="1218.04" y="662.05" width="6.9" height="124.95" fill="#a0a0a0" stroke="#636363" stroke-width="2.3"/>
<line x1="1221.49" y1="660.21" x2="1221.49" y2="663.89" stroke="#636363" stroke-width="2" stroke-linecap="butt"/>
<line x1="1218.49" y1="660.21" x2="1224.49" y2="660.21" stroke="#636363" stroke-width="2.2" stroke-linecap="butt"/>
<line x1="1218.49" y1="663.89" x2="1224.49" y2="663.89" stroke="#636363" stroke-width="2.2" stroke-linecap="butt"/>
<rect x="1229.04" y="783.33" width="6.9" height="3.67" fill="#9dd3e4" stroke="#1eaacd" stroke-width="2.3"/>
<circle cx="1005.4" cy="783.94" r="2.35" fill="#fff" stroke="#636363" stroke-width="2.3"/>
<circle cx="1003.2" cy="783.94" r="2.35" fill="#fff" stroke="#636363" stroke-width="2.3"/>
<circle cx="1007.6" cy="783.94" r="2.35" fill="#fff" stroke="#636363" stroke-width="2.3"/>
<circle cx="1016.4" cy="706.76" r="2.35" fill="#fff" stroke="#1eaacd" stroke-width="2.3"/>
<circle cx="1014.2" cy="711.05" r="2.35" fill="#fff" stroke="#1eaacd" stroke-width="2.3"/>
<circle cx="1018.6" cy="715.34" r="2.35" fill="#fff" stroke="#1eaacd" stroke-width="2.3"/>
<circle cx="1036.27" cy="783.94" r="2.35" fill="#fff" stroke="#636363" stroke-width="2.3"/>
<circle cx="1034.07" cy="783.94" r="2.35" fill="#fff" stroke="#636363" stroke-width="2.3"/>
<circle cx="1038.47" cy="783.94" r="2.35" fill="#fff" stroke="#636363" stroke-width="2.3"/>
<circle cx="1047.27" cy="674.3" r="2.35" fill="#fff" stroke="#1eaacd" stroke-width="2.3"/>
<circle cx="1045.07" cy="677.36" r="2.35" fill="#fff" stroke="#1eaacd" stroke-width="2.3"/>
<circle cx="1049.47" cy="679.2" r="2.35" fill="#fff" stroke="#1eaacd" stroke-width="2.3"/>
<circle cx="1067.14" cy="775.98" r="2.35" fill="#fff" stroke="#636363" stroke-width="2.3"/>
<circle cx="1064.94" cy="777.81" r="2.35" fill="#fff" stroke="#636363" stroke-width="2.3"/>
<circle cx="1069.34" cy="779.04" r="2.35" fill="#fff" stroke="#636363" stroke-width="2.3"/>
<circle cx="1078.14" cy="668.79" r="2.35" fill="#fff" stroke="#1eaacd" stroke-width="2.3"/>
<circle cx="1075.94" cy="669.4" r="2.35" fill="#fff" stroke="#1eaacd" stroke-width="2.3"/>
<circle cx="1080.34" cy="670.62" r="2.35" fill="#fff" stroke="#1eaacd" stroke-width="2.3"/>
<circle cx="1098.01" cy="758.83" r="2.35" fill="#fff" stroke="#636363" stroke-width="2.3"/>
<circle cx="1095.81" cy="761.89" r="2.35" fill="#fff" stroke="#636363" stroke-width="2.3"/>
<circle cx="1100.21" cy="762.5" r="2.35" fill="#fff" stroke="#636363" stroke-width="2.3"/>
<circle cx="1109.01" cy="682.88" r="2.35" fill="#fff" stroke="#1eaacd" stroke-width="2.3"/>
<circle cx="1106.81" cy="684.1" r="2.35" fill="#fff" stroke="#1eaacd" stroke-width="2.3"/>
<circle cx="1111.21" cy="684.71" r="2.35" fill="#fff" stroke="#1eaacd" stroke-width="2.3"/>
<circle cx="1128.88" cy="719.62" r="2.35" fill="#fff" stroke="#636363" stroke-width="2.3"/>
<circle cx="1126.68" cy="723.3" r="2.35" fill="#fff" stroke="#636363" stroke-width="2.3"/>
<circle cx="1131.08" cy="724.52" r="2.35" fill="#fff" stroke="#636363" stroke-width="2.3"/>
<circle cx="1139.88" cy="712.27" r="2.35" fill="#fff" stroke="#1eaacd" stroke-width="2.3"/>
<circle cx="1137.68" cy="712.89" r="2.35" fill="#fff" stroke="#1eaacd" stroke-width="2.3"/>
<circle cx="1142.08" cy="713.5" r="2.35" fill="#fff" stroke="#1eaacd" stroke-width="2.3"/>
<circle cx="1159.75" cy="658.38" r="2.35" fill="#fff" stroke="#636363" stroke-width="2.3"/>
<circle cx="1157.55" cy="661.44" r="2.35" fill="#fff" stroke="#636363" stroke-width="2.3"/>
<circle cx="1161.95" cy="662.66" r="2.35" fill="#fff" stroke="#636363" stroke-width="2.3"/>
<circle cx="1170.75" cy="745.35" r="2.35" fill="#fff" stroke="#1eaacd" stroke-width="2.3"/>
<circle cx="1168.55" cy="745.96" r="2.35" fill="#fff" stroke="#1eaacd" stroke-width="2.3"/>
<circle cx="1172.95" cy="746.58" r="2.35" fill="#fff" stroke="#1eaacd" stroke-width="2.3"/>
<circle cx="1190.62" cy="610.6" r="2.35" fill="#fff" stroke="#636363" stroke-width="2.3"/>
<circle cx="1188.42" cy="615.5" r="2.35" fill="#fff" stroke="#636363" stroke-width="2.3"/>
<circle cx="1192.82" cy="617.95" r="2.35" fill="#fff" stroke="#636363" stroke-width="2.3"/>
<circle cx="1201.62" cy="766.79" r="2.35" fill="#fff" stroke="#1eaacd" stroke-width="2.3"/>
<circle cx="1199.42" cy="768.01" r="2.35" fill="#fff" stroke="#1eaacd" stroke-width="2.3"/>
<circle cx="1203.82" cy="768.62" r="2.35" fill="#fff" stroke="#1eaacd" stroke-width="2.3"/>
<circle cx="1221.49" cy="657.76" r="2.35" fill="#fff" stroke="#636363" stroke-width="2.3"/>
<circle cx="1219.29" cy="662.66" r="2.35" fill="#fff" stroke="#636363" stroke-width="2.3"/>
<circle cx="1223.69" cy="665.73" r="2.35" fill="#fff" stroke="#636363" stroke-width="2.3"/>
<circle cx="1232.49" cy="783.33" r="2.35" fill="#fff" stroke="#1eaacd" stroke-width="2.3"/>
<circle cx="1230.29" cy="783.33" r="2.35" fill="#fff" stroke="#1eaacd" stroke-width="2.3"/>
<circle cx="1234.69" cy="783.33" r="2.35" fill="#fff" stroke="#1eaacd" stroke-width="2.3"/>
<line x1="996.7" y1="540.85" x2="996.7" y2="788.15" stroke="#000" stroke-width="2.3" stroke-linecap="butt"/>
<line x1="990.2" y1="787" x2="1241" y2="787" stroke="#000" stroke-width="2.3" stroke-linecap="butt"/>
<line x1="990.2" y1="787" x2="996.7" y2="787" stroke="#000" stroke-width="2.3" stroke-linecap="butt"/>
<text font-size="33.5" text-anchor="end" transform="translate(984.9 798.3) scale(1 1.04)">0.0</text>
<line x1="990.2" y1="725.75" x2="996.7" y2="725.75" stroke="#000" stroke-width="2.3" stroke-linecap="butt"/>
<text font-size="33.5" text-anchor="end" transform="translate(984.9 737.05) scale(1 1.04)">0.1</text>
<line x1="990.2" y1="664.5" x2="996.7" y2="664.5" stroke="#000" stroke-width="2.3" stroke-linecap="butt"/>
<text font-size="33.5" text-anchor="end" transform="translate(984.9 675.8) scale(1 1.04)">0.2</text>
<line x1="990.2" y1="603.25" x2="996.7" y2="603.25" stroke="#000" stroke-width="2.3" stroke-linecap="butt"/>
<text font-size="33.5" text-anchor="end" transform="translate(984.9 614.55) scale(1 1.04)">0.3</text>
<line x1="990.2" y1="542" x2="996.7" y2="542" stroke="#000" stroke-width="2.3" stroke-linecap="butt"/>
<text font-size="33.5" text-anchor="end" transform="translate(984.9 553.3) scale(1 1.04)">0.4</text>
<line x1="1010.4" y1="787" x2="1010.4" y2="794.5" stroke="#000" stroke-width="2.3" stroke-linecap="butt"/>
<line x1="1041.27" y1="787" x2="1041.27" y2="794.5" stroke="#000" stroke-width="2.3" stroke-linecap="butt"/>
<line x1="1072.14" y1="787" x2="1072.14" y2="794.5" stroke="#000" stroke-width="2.3" stroke-linecap="butt"/>
<line x1="1103.01" y1="787" x2="1103.01" y2="794.5" stroke="#000" stroke-width="2.3" stroke-linecap="butt"/>
<line x1="1133.88" y1="787" x2="1133.88" y2="794.5" stroke="#000" stroke-width="2.3" stroke-linecap="butt"/>
<line x1="1164.75" y1="787" x2="1164.75" y2="794.5" stroke="#000" stroke-width="2.3" stroke-linecap="butt"/>
<line x1="1195.62" y1="787" x2="1195.62" y2="794.5" stroke="#000" stroke-width="2.3" stroke-linecap="butt"/>
<line x1="1226.49" y1="787" x2="1226.49" y2="794.5" stroke="#000" stroke-width="2.3" stroke-linecap="butt"/>
<text font-size="33.5" text-anchor="end" transform="translate(1021.8 798.5) rotate(-90) scale(1 1.04)">M+2</text>
<text font-size="33.5" text-anchor="end" transform="translate(1052.67 798.5) rotate(-90) scale(1 1.04)">M+4</text>
<text font-size="33.5" text-anchor="end" transform="translate(1083.54 798.5) rotate(-90) scale(1 1.04)">M+6</text>
<text font-size="33.5" text-anchor="end" transform="translate(1114.41 798.5) rotate(-90) scale(1 1.04)">M+8</text>
<text font-size="33.5" text-anchor="end" transform="translate(1145.28 798.5) rotate(-90) scale(1 1.04)">M+10</text>
<text font-size="33.5" text-anchor="end" transform="translate(1176.15 798.5) rotate(-90) scale(1 1.04)">M+12</text>
<text font-size="33.5" text-anchor="end" transform="translate(1207.02 798.5) rotate(-90) scale(1 1.04)">M+14</text>
<text font-size="33.5" text-anchor="end" transform="translate(1237.89 798.5) rotate(-90) scale(1 1.04)">M+16</text>
<rect x="587.9" y="902.6" width="25.7" height="29" fill="#a0a0a0" stroke="#636363" stroke-width="2.6"/>
<text font-size="33.5" transform="translate(629.2 928.3) scale(1 1.04)">sgNTC</text>
<rect x="786.2" y="902.6" width="25.7" height="29" fill="#f9c18c" stroke="#ef9038" stroke-width="2.6"/>
<text font-size="33.5" transform="translate(827.5 928.3) scale(1 1.04)">sg<tspan font-style="italic">Oxct1</tspan> #1</text>
<rect x="1034.5" y="902.6" width="25.7" height="29" fill="#9dd3e4" stroke="#1eaacd" stroke-width="2.6"/>
<text font-size="33.5" transform="translate(1074.8 928.3) scale(1 1.04)">sg<tspan font-style="italic">Oxct1</tspan> #2</text>
<text x="1244.7" y="508.9" font-size="50" font-weight="bold" fill="#231f20">f</text>
<text x="1320.2" y="657.95" font-size="33.5" text-anchor="middle" transform="rotate(-90 1320.2 657.95)">Cytosolic acetyl-CoA</text>
<text x="1357.9" y="656.75" font-size="33.5" text-anchor="middle" transform="rotate(-90 1357.9 656.75)">Fraction Labeled</text>
<rect x="1448.3" y="587.75" width="25" height="199.35" fill="#f9c18c" stroke="#ef9038" stroke-width="2.4"/>
<line x1="1460.8" y1="587.02" x2="1460.8" y2="587.75" stroke="#ef9038" stroke-width="2" stroke-linecap="butt"/>
<line x1="1453.05" y1="587.02" x2="1468.55" y2="587.02" stroke="#ef9038" stroke-width="2.2" stroke-linecap="butt"/>
<rect x="1483.6" y="720.57" width="25" height="66.53" fill="#f9c18c" stroke="#ef9038" stroke-width="2.4"/>
<line x1="1496.1" y1="719.59" x2="1496.1" y2="720.57" stroke="#ef9038" stroke-width="2" stroke-linecap="butt"/>
<line x1="1488.35" y1="719.59" x2="1503.85" y2="719.59" stroke="#ef9038" stroke-width="2.2" stroke-linecap="butt"/>
<line x1="1432.7" y1="541.35" x2="1432.7" y2="788.25" stroke="#000" stroke-width="2.3" stroke-linecap="butt"/>
<line x1="1426.2" y1="787.1" x2="1524.7" y2="787.1" stroke="#000" stroke-width="2.3" stroke-linecap="butt"/>
<line x1="1426.2" y1="787.1" x2="1432.7" y2="787.1" stroke="#000" stroke-width="2.3" stroke-linecap="butt"/>
<text font-size="33.5" text-anchor="end" transform="translate(1420.9 798.4) scale(1 1.04)">0.0</text>
<line x1="1426.2" y1="738.18" x2="1432.7" y2="738.18" stroke="#000" stroke-width="2.3" stroke-linecap="butt"/>
<text font-size="33.5" text-anchor="end" transform="translate(1420.9 749.48) scale(1 1.04)">0.2</text>
<line x1="1426.2" y1="689.26" x2="1432.7" y2="689.26" stroke="#000" stroke-width="2.3" stroke-linecap="butt"/>
<text font-size="33.5" text-anchor="end" transform="translate(1420.9 700.56) scale(1 1.04)">0.4</text>
<line x1="1426.2" y1="640.34" x2="1432.7" y2="640.34" stroke="#000" stroke-width="2.3" stroke-linecap="butt"/>
<text font-size="33.5" text-anchor="end" transform="translate(1420.9 651.64) scale(1 1.04)">0.6</text>
<line x1="1426.2" y1="591.42" x2="1432.7" y2="591.42" stroke="#000" stroke-width="2.3" stroke-linecap="butt"/>
<text font-size="33.5" text-anchor="end" transform="translate(1420.9 602.72) scale(1 1.04)">0.8</text>
<line x1="1426.2" y1="542.5" x2="1432.7" y2="542.5" stroke="#000" stroke-width="2.3" stroke-linecap="butt"/>
<text font-size="33.5" text-anchor="end" transform="translate(1420.9 553.8) scale(1 1.04)">1.0</text>
<line x1="1460.8" y1="787.1" x2="1460.8" y2="794.6" stroke="#000" stroke-width="2.3" stroke-linecap="butt"/>
<line x1="1496.1" y1="787.1" x2="1496.1" y2="794.6" stroke="#000" stroke-width="2.3" stroke-linecap="butt"/>
<rect x="1612.7" y="585.06" width="25" height="202.04" fill="#f9c18c" stroke="#ef9038" stroke-width="2.4"/>
<line x1="1625.2" y1="584.08" x2="1625.2" y2="585.06" stroke="#ef9038" stroke-width="2" stroke-linecap="butt"/>
<line x1="1617.45" y1="584.08" x2="1632.95" y2="584.08" stroke="#ef9038" stroke-width="2.2" stroke-linecap="butt"/>
<rect x="1648" y="686.32" width="25" height="100.78" fill="#f9c18c" stroke="#ef9038" stroke-width="2.4"/>
<line x1="1660.5" y1="685.59" x2="1660.5" y2="686.32" stroke="#ef9038" stroke-width="2" stroke-linecap="butt"/>
<line x1="1652.75" y1="685.59" x2="1668.25" y2="685.59" stroke="#ef9038" stroke-width="2.2" stroke-linecap="butt"/>
<line x1="1597.4" y1="541.35" x2="1597.4" y2="788.25" stroke="#000" stroke-width="2.3" stroke-linecap="butt"/>
<line x1="1590.9" y1="787.1" x2="1688.8" y2="787.1" stroke="#000" stroke-width="2.3" stroke-linecap="butt"/>
<line x1="1590.9" y1="787.1" x2="1597.4" y2="787.1" stroke="#000" stroke-width="2.3" stroke-linecap="butt"/>
<text font-size="33.5" text-anchor="end" transform="translate(1585.6 798.4) scale(1 1.04)">0.0</text>
<line x1="1590.9" y1="738.18" x2="1597.4" y2="738.18" stroke="#000" stroke-width="2.3" stroke-linecap="butt"/>
<text font-size="33.5" text-anchor="end" transform="translate(1585.6 749.48) scale(1 1.04)">0.2</text>
<line x1="1590.9" y1="689.26" x2="1597.4" y2="689.26" stroke="#000" stroke-width="2.3" stroke-linecap="butt"/>
<text font-size="33.5" text-anchor="end" transform="translate(1585.6 700.56) scale(1 1.04)">0.4</text>
<line x1="1590.9" y1="640.34" x2="1597.4" y2="640.34" stroke="#000" stroke-width="2.3" stroke-linecap="butt"/>
<text font-size="33.5" text-anchor="end" transform="translate(1585.6 651.64) scale(1 1.04)">0.6</text>
<line x1="1590.9" y1="591.42" x2="1597.4" y2="591.42" stroke="#000" stroke-width="2.3" stroke-linecap="butt"/>
<text font-size="33.5" text-anchor="end" transform="translate(1585.6 602.72) scale(1 1.04)">0.8</text>
<line x1="1590.9" y1="542.5" x2="1597.4" y2="542.5" stroke="#000" stroke-width="2.3" stroke-linecap="butt"/>
<text font-size="33.5" text-anchor="end" transform="translate(1585.6 553.8) scale(1 1.04)">1.0</text>
<line x1="1625.2" y1="787.1" x2="1625.2" y2="794.6" stroke="#000" stroke-width="2.3" stroke-linecap="butt"/>
<line x1="1660.5" y1="787.1" x2="1660.5" y2="794.6" stroke="#000" stroke-width="2.3" stroke-linecap="butt"/>
<rect x="1706.5" y="552.3" width="25.5" height="28.8" fill="#a0a0a0" stroke="#5c5c5c" stroke-width="2.6"/>
<text font-size="33.5" transform="translate(1746.35 577.8) scale(1 1.04)">M+1</text>
<rect x="1706.5" y="592" width="25.5" height="28.8" fill="#f9c18c" stroke="#ee9036" stroke-width="2.6"/>
<text font-size="33.5" transform="translate(1746.35 617.5) scale(1 1.04)">M+2</text>
<text font-size="33.5" text-anchor="end" transform="translate(1468.4 821.2) rotate(-45) scale(1 1.04)">sgNTC</text>
<text font-size="33.5" text-anchor="end" transform="translate(1516.8 821.2) rotate(-45) scale(1 1.04)">sg<tspan font-style="italic">Oxct1</tspan> #1</text>
<text font-size="33.5" text-anchor="end" transform="translate(1632.8 821.2) rotate(-45) scale(1 1.04)">sgNTC</text>
<text font-size="33.5" text-anchor="end" transform="translate(1681.2 821.2) rotate(-45) scale(1 1.04)">sg<tspan font-style="italic">Oxct1</tspan> #2</text>
<text x="-0.85" y="1010.8" font-size="50" font-weight="bold" fill="#231f20">g</text>
<text x="35.8" y="1149.3" font-size="33.5" text-anchor="middle" transform="rotate(-90 35.8 1149.3)">Citrate</text>
<text x="73.8" y="1149.95" font-size="33.5" text-anchor="middle" transform="rotate(-90 73.8 1149.95)">Fraction Labeled</text>
<rect x="163.7" y="1092.85" width="26" height="4.4" fill="#8dc4b3" stroke="#12907a" stroke-width="2.4"/>
<rect x="163.7" y="1097.24" width="26" height="12.71" fill="#a9a9d0" stroke="#6f72a6" stroke-width="2.4"/>
<rect x="163.7" y="1109.95" width="26" height="36.17" fill="#f3a28b" stroke="#e04a3a" stroke-width="2.4"/>
<rect x="163.7" y="1146.12" width="26" height="9.53" fill="#9dd3e4" stroke="#1eaacd" stroke-width="2.4"/>
<rect x="163.7" y="1155.66" width="26" height="120.24" fill="#f9c18c" stroke="#ee9036" stroke-width="2.4"/>
<rect x="163.7" y="1275.9" width="26" height="4.4" fill="#a0a0a0" stroke="#5c5c5c" stroke-width="2.4"/>
<line x1="176.7" y1="1274.92" x2="176.7" y2="1276.88" stroke="#5c5c5c" stroke-width="2" stroke-linecap="butt"/>
<line x1="168.95" y1="1274.92" x2="184.45" y2="1274.92" stroke="#5c5c5c" stroke-width="2.2" stroke-linecap="butt"/>
<line x1="168.95" y1="1276.88" x2="184.45" y2="1276.88" stroke="#5c5c5c" stroke-width="2.2" stroke-linecap="butt"/>
<line x1="176.7" y1="1152.97" x2="176.7" y2="1158.34" stroke="#ee9036" stroke-width="2" stroke-linecap="butt"/>
<line x1="168.95" y1="1152.97" x2="184.45" y2="1152.97" stroke="#ee9036" stroke-width="2.2" stroke-linecap="butt"/>
<line x1="168.95" y1="1158.34" x2="184.45" y2="1158.34" stroke="#ee9036" stroke-width="2.2" stroke-linecap="butt"/>
<line x1="176.7" y1="1144.41" x2="176.7" y2="1147.84" stroke="#1eaacd" stroke-width="2" stroke-linecap="butt"/>
<line x1="168.95" y1="1144.41" x2="184.45" y2="1144.41" stroke="#1eaacd" stroke-width="2.2" stroke-linecap="butt"/>
<line x1="168.95" y1="1147.84" x2="184.45" y2="1147.84" stroke="#1eaacd" stroke-width="2.2" stroke-linecap="butt"/>
<line x1="176.7" y1="1107.02" x2="176.7" y2="1112.89" stroke="#e04a3a" stroke-width="2" stroke-linecap="butt"/>
<line x1="168.95" y1="1107.02" x2="184.45" y2="1107.02" stroke="#e04a3a" stroke-width="2.2" stroke-linecap="butt"/>
<line x1="168.95" y1="1112.89" x2="184.45" y2="1112.89" stroke="#e04a3a" stroke-width="2.2" stroke-linecap="butt"/>
<line x1="176.7" y1="1096.27" x2="176.7" y2="1098.22" stroke="#6f72a6" stroke-width="2" stroke-linecap="butt"/>
<line x1="168.95" y1="1096.27" x2="184.45" y2="1096.27" stroke="#6f72a6" stroke-width="2.2" stroke-linecap="butt"/>
<line x1="168.95" y1="1098.22" x2="184.45" y2="1098.22" stroke="#6f72a6" stroke-width="2.2" stroke-linecap="butt"/>
<line x1="176.7" y1="1091.38" x2="176.7" y2="1094.31" stroke="#12907a" stroke-width="2" stroke-linecap="butt"/>
<line x1="168.95" y1="1091.38" x2="184.45" y2="1091.38" stroke="#12907a" stroke-width="2.2" stroke-linecap="butt"/>
<line x1="168.95" y1="1094.31" x2="184.45" y2="1094.31" stroke="#12907a" stroke-width="2.2" stroke-linecap="butt"/>
<rect x="198.9" y="1088.93" width="26" height="6.84" fill="#8dc4b3" stroke="#12907a" stroke-width="2.4"/>
<rect x="198.9" y="1095.78" width="26" height="20.77" fill="#a9a9d0" stroke="#6f72a6" stroke-width="2.4"/>
<rect x="198.9" y="1116.55" width="26" height="38.86" fill="#f3a28b" stroke="#e04a3a" stroke-width="2.4"/>
<rect x="198.9" y="1155.41" width="26" height="26.64" fill="#9dd3e4" stroke="#1eaacd" stroke-width="2.4"/>
<rect x="198.9" y="1182.05" width="26" height="86.27" fill="#f9c18c" stroke="#ee9036" stroke-width="2.4"/>
<rect x="198.9" y="1268.32" width="26" height="11.98" fill="#a0a0a0" stroke="#5c5c5c" stroke-width="2.4"/>
<line x1="211.9" y1="1267.35" x2="211.9" y2="1269.3" stroke="#5c5c5c" stroke-width="2" stroke-linecap="butt"/>
<line x1="204.15" y1="1267.35" x2="219.65" y2="1267.35" stroke="#5c5c5c" stroke-width="2.2" stroke-linecap="butt"/>
<line x1="204.15" y1="1269.3" x2="219.65" y2="1269.3" stroke="#5c5c5c" stroke-width="2.2" stroke-linecap="butt"/>
<line x1="211.9" y1="1177.65" x2="211.9" y2="1186.45" stroke="#ee9036" stroke-width="2" stroke-linecap="butt"/>
<line x1="204.15" y1="1177.65" x2="219.65" y2="1177.65" stroke="#ee9036" stroke-width="2.2" stroke-linecap="butt"/>
<line x1="204.15" y1="1186.45" x2="219.65" y2="1186.45" stroke="#ee9036" stroke-width="2.2" stroke-linecap="butt"/>
<line x1="211.9" y1="1152.48" x2="211.9" y2="1158.34" stroke="#1eaacd" stroke-width="2" stroke-linecap="butt"/>
<line x1="204.15" y1="1152.48" x2="219.65" y2="1152.48" stroke="#1eaacd" stroke-width="2.2" stroke-linecap="butt"/>
<line x1="204.15" y1="1158.34" x2="219.65" y2="1158.34" stroke="#1eaacd" stroke-width="2.2" stroke-linecap="butt"/>
<line x1="211.9" y1="1114.11" x2="211.9" y2="1119" stroke="#e04a3a" stroke-width="2" stroke-linecap="butt"/>
<line x1="204.15" y1="1114.11" x2="219.65" y2="1114.11" stroke="#e04a3a" stroke-width="2.2" stroke-linecap="butt"/>
<line x1="204.15" y1="1119" x2="219.65" y2="1119" stroke="#e04a3a" stroke-width="2.2" stroke-linecap="butt"/>
<line x1="211.9" y1="1093.82" x2="211.9" y2="1097.73" stroke="#6f72a6" stroke-width="2" stroke-linecap="butt"/>
<line x1="204.15" y1="1093.82" x2="219.65" y2="1093.82" stroke="#6f72a6" stroke-width="2.2" stroke-linecap="butt"/>
<line x1="204.15" y1="1097.73" x2="219.65" y2="1097.73" stroke="#6f72a6" stroke-width="2.2" stroke-linecap="butt"/>
<line x1="211.9" y1="1087.47" x2="211.9" y2="1090.4" stroke="#12907a" stroke-width="2" stroke-linecap="butt"/>
<line x1="204.15" y1="1087.47" x2="219.65" y2="1087.47" stroke="#12907a" stroke-width="2.2" stroke-linecap="butt"/>
<line x1="204.15" y1="1090.4" x2="219.65" y2="1090.4" stroke="#12907a" stroke-width="2.2" stroke-linecap="butt"/>
<line x1="148.5" y1="1034.75" x2="148.5" y2="1281.45" stroke="#000" stroke-width="2.3" stroke-linecap="butt"/>
<line x1="142" y1="1280.3" x2="240.3" y2="1280.3" stroke="#000" stroke-width="2.3" stroke-linecap="butt"/>
<line x1="142" y1="1280.3" x2="148.5" y2="1280.3" stroke="#000" stroke-width="2.3" stroke-linecap="butt"/>
<text font-size="33.5" text-anchor="end" transform="translate(136.7 1291.6) scale(1 1.04)">0.0</text>
<line x1="142" y1="1231.42" x2="148.5" y2="1231.42" stroke="#000" stroke-width="2.3" stroke-linecap="butt"/>
<text font-size="33.5" text-anchor="end" transform="translate(136.7 1242.72) scale(1 1.04)">0.2</text>
<line x1="142" y1="1182.54" x2="148.5" y2="1182.54" stroke="#000" stroke-width="2.3" stroke-linecap="butt"/>
<text font-size="33.5" text-anchor="end" transform="translate(136.7 1193.84) scale(1 1.04)">0.4</text>
<line x1="142" y1="1133.66" x2="148.5" y2="1133.66" stroke="#000" stroke-width="2.3" stroke-linecap="butt"/>
<text font-size="33.5" text-anchor="end" transform="translate(136.7 1144.96) scale(1 1.04)">0.6</text>
<line x1="142" y1="1084.78" x2="148.5" y2="1084.78" stroke="#000" stroke-width="2.3" stroke-linecap="butt"/>
<text font-size="33.5" text-anchor="end" transform="translate(136.7 1096.08) scale(1 1.04)">0.8</text>
<line x1="142" y1="1035.9" x2="148.5" y2="1035.9" stroke="#000" stroke-width="2.3" stroke-linecap="butt"/>
<text font-size="33.5" text-anchor="end" transform="translate(136.7 1047.2) scale(1 1.04)">1.0</text>
<line x1="176.7" y1="1280.3" x2="176.7" y2="1287.8" stroke="#000" stroke-width="2.3" stroke-linecap="butt"/>
<line x1="211.9" y1="1280.3" x2="211.9" y2="1287.8" stroke="#000" stroke-width="2.3" stroke-linecap="butt"/>
<rect x="319.3" y="1046.9" width="26" height="53.28" fill="#8dc4b3" stroke="#12907a" stroke-width="2.4"/>
<rect x="319.3" y="1100.18" width="26" height="54.75" fill="#a9a9d0" stroke="#6f72a6" stroke-width="2.4"/>
<rect x="319.3" y="1154.92" width="26" height="53.03" fill="#f3a28b" stroke="#e04a3a" stroke-width="2.4"/>
<rect x="319.3" y="1207.96" width="26" height="10.75" fill="#9dd3e4" stroke="#1eaacd" stroke-width="2.4"/>
<rect x="319.3" y="1218.71" width="26" height="60.12" fill="#f9c18c" stroke="#ee9036" stroke-width="2.4"/>
<rect x="319.3" y="1278.83" width="26" height="1.47" fill="#a0a0a0" stroke="#5c5c5c" stroke-width="2.4"/>
<line x1="332.3" y1="1278.34" x2="332.3" y2="1279.32" stroke="#5c5c5c" stroke-width="2" stroke-linecap="butt"/>
<line x1="324.55" y1="1278.34" x2="340.05" y2="1278.34" stroke="#5c5c5c" stroke-width="2.2" stroke-linecap="butt"/>
<line x1="324.55" y1="1279.32" x2="340.05" y2="1279.32" stroke="#5c5c5c" stroke-width="2.2" stroke-linecap="butt"/>
<line x1="332.3" y1="1216.27" x2="332.3" y2="1221.16" stroke="#ee9036" stroke-width="2" stroke-linecap="butt"/>
<line x1="324.55" y1="1216.27" x2="340.05" y2="1216.27" stroke="#ee9036" stroke-width="2.2" stroke-linecap="butt"/>
<line x1="324.55" y1="1221.16" x2="340.05" y2="1221.16" stroke="#ee9036" stroke-width="2.2" stroke-linecap="butt"/>
<line x1="332.3" y1="1206.49" x2="332.3" y2="1209.42" stroke="#1eaacd" stroke-width="2" stroke-linecap="butt"/>
<line x1="324.55" y1="1206.49" x2="340.05" y2="1206.49" stroke="#1eaacd" stroke-width="2.2" stroke-linecap="butt"/>
<line x1="324.55" y1="1209.42" x2="340.05" y2="1209.42" stroke="#1eaacd" stroke-width="2.2" stroke-linecap="butt"/>
<line x1="332.3" y1="1153.7" x2="332.3" y2="1156.14" stroke="#e04a3a" stroke-width="2" stroke-linecap="butt"/>
<line x1="324.55" y1="1153.7" x2="340.05" y2="1153.7" stroke="#e04a3a" stroke-width="2.2" stroke-linecap="butt"/>
<line x1="324.55" y1="1156.14" x2="340.05" y2="1156.14" stroke="#e04a3a" stroke-width="2.2" stroke-linecap="butt"/>
<line x1="332.3" y1="1098.71" x2="332.3" y2="1101.64" stroke="#6f72a6" stroke-width="2" stroke-linecap="butt"/>
<line x1="324.55" y1="1098.71" x2="340.05" y2="1098.71" stroke="#6f72a6" stroke-width="2.2" stroke-linecap="butt"/>
<line x1="324.55" y1="1101.64" x2="340.05" y2="1101.64" stroke="#6f72a6" stroke-width="2.2" stroke-linecap="butt"/>
<line x1="332.3" y1="1042.99" x2="332.3" y2="1050.81" stroke="#12907a" stroke-width="2" stroke-linecap="butt"/>
<line x1="324.55" y1="1042.99" x2="340.05" y2="1042.99" stroke="#12907a" stroke-width="2.2" stroke-linecap="butt"/>
<line x1="324.55" y1="1050.81" x2="340.05" y2="1050.81" stroke="#12907a" stroke-width="2.2" stroke-linecap="butt"/>
<rect x="354.6" y="1063.03" width="26" height="28.59" fill="#8dc4b3" stroke="#12907a" stroke-width="2.4"/>
<rect x="354.6" y="1091.62" width="26" height="40.81" fill="#a9a9d0" stroke="#6f72a6" stroke-width="2.4"/>
<rect x="354.6" y="1132.44" width="26" height="49.86" fill="#f3a28b" stroke="#e04a3a" stroke-width="2.4"/>
<rect x="354.6" y="1182.3" width="26" height="18.33" fill="#9dd3e4" stroke="#1eaacd" stroke-width="2.4"/>
<rect x="354.6" y="1200.63" width="26" height="76.5" fill="#f9c18c" stroke="#ee9036" stroke-width="2.4"/>
<rect x="354.6" y="1277.12" width="26" height="3.18" fill="#a0a0a0" stroke="#5c5c5c" stroke-width="2.4"/>
<line x1="367.6" y1="1276.39" x2="367.6" y2="1277.86" stroke="#5c5c5c" stroke-width="2" stroke-linecap="butt"/>
<line x1="359.85" y1="1276.39" x2="375.35" y2="1276.39" stroke="#5c5c5c" stroke-width="2.2" stroke-linecap="butt"/>
<line x1="359.85" y1="1277.86" x2="375.35" y2="1277.86" stroke="#5c5c5c" stroke-width="2.2" stroke-linecap="butt"/>
<line x1="367.6" y1="1195.74" x2="367.6" y2="1205.51" stroke="#ee9036" stroke-width="2" stroke-linecap="butt"/>
<line x1="359.85" y1="1195.74" x2="375.35" y2="1195.74" stroke="#ee9036" stroke-width="2.2" stroke-linecap="butt"/>
<line x1="359.85" y1="1205.51" x2="375.35" y2="1205.51" stroke="#ee9036" stroke-width="2.2" stroke-linecap="butt"/>
<line x1="367.6" y1="1179.85" x2="367.6" y2="1184.74" stroke="#1eaacd" stroke-width="2" stroke-linecap="butt"/>
<line x1="359.85" y1="1179.85" x2="375.35" y2="1179.85" stroke="#1eaacd" stroke-width="2.2" stroke-linecap="butt"/>
<line x1="359.85" y1="1184.74" x2="375.35" y2="1184.74" stroke="#1eaacd" stroke-width="2.2" stroke-linecap="butt"/>
<line x1="367.6" y1="1130.48" x2="367.6" y2="1134.39" stroke="#e04a3a" stroke-width="2" stroke-linecap="butt"/>
<line x1="359.85" y1="1130.48" x2="375.35" y2="1130.48" stroke="#e04a3a" stroke-width="2.2" stroke-linecap="butt"/>
<line x1="359.85" y1="1134.39" x2="375.35" y2="1134.39" stroke="#e04a3a" stroke-width="2.2" stroke-linecap="butt"/>
<line x1="367.6" y1="1089.18" x2="367.6" y2="1094.07" stroke="#6f72a6" stroke-width="2" stroke-linecap="butt"/>
<line x1="359.85" y1="1089.18" x2="375.35" y2="1089.18" stroke="#6f72a6" stroke-width="2.2" stroke-linecap="butt"/>
<line x1="359.85" y1="1094.07" x2="375.35" y2="1094.07" stroke="#6f72a6" stroke-width="2.2" stroke-linecap="butt"/>
<line x1="367.6" y1="1059.12" x2="367.6" y2="1066.94" stroke="#12907a" stroke-width="2" stroke-linecap="butt"/>
<line x1="359.85" y1="1059.12" x2="375.35" y2="1059.12" stroke="#12907a" stroke-width="2.2" stroke-linecap="butt"/>
<line x1="359.85" y1="1066.94" x2="375.35" y2="1066.94" stroke="#12907a" stroke-width="2.2" stroke-linecap="butt"/>
<line x1="304.2" y1="1034.75" x2="304.2" y2="1281.45" stroke="#000" stroke-width="2.3" stroke-linecap="butt"/>
<line x1="297.7" y1="1280.3" x2="395.8" y2="1280.3" stroke="#000" stroke-width="2.3" stroke-linecap="butt"/>
<line x1="297.7" y1="1280.3" x2="304.2" y2="1280.3" stroke="#000" stroke-width="2.3" stroke-linecap="butt"/>
<text font-size="33.5" text-anchor="end" transform="translate(292.4 1291.6) scale(1 1.04)">0.0</text>
<line x1="297.7" y1="1231.42" x2="304.2" y2="1231.42" stroke="#000" stroke-width="2.3" stroke-linecap="butt"/>
<text font-size="33.5" text-anchor="end" transform="translate(292.4 1242.72) scale(1 1.04)">0.2</text>
<line x1="297.7" y1="1182.54" x2="304.2" y2="1182.54" stroke="#000" stroke-width="2.3" stroke-linecap="butt"/>
<text font-size="33.5" text-anchor="end" transform="translate(292.4 1193.84) scale(1 1.04)">0.4</text>
<line x1="297.7" y1="1133.66" x2="304.2" y2="1133.66" stroke="#000" stroke-width="2.3" stroke-linecap="butt"/>
<text font-size="33.5" text-anchor="end" transform="translate(292.4 1144.96) scale(1 1.04)">0.6</text>
<line x1="297.7" y1="1084.78" x2="304.2" y2="1084.78" stroke="#000" stroke-width="2.3" stroke-linecap="butt"/>
<text font-size="33.5" text-anchor="end" transform="translate(292.4 1096.08) scale(1 1.04)">0.8</text>
<line x1="297.7" y1="1035.9" x2="304.2" y2="1035.9" stroke="#000" stroke-width="2.3" stroke-linecap="butt"/>
<text font-size="33.5" text-anchor="end" transform="translate(292.4 1047.2) scale(1 1.04)">1.0</text>
<line x1="332.3" y1="1280.3" x2="332.3" y2="1287.8" stroke="#000" stroke-width="2.3" stroke-linecap="butt"/>
<line x1="367.6" y1="1280.3" x2="367.6" y2="1287.8" stroke="#000" stroke-width="2.3" stroke-linecap="butt"/>
<rect x="409.4" y="1040.5" width="25.7" height="28.7" fill="#a0a0a0" stroke="#5c5c5c" stroke-width="2.6"/>
<text font-size="33.5" transform="translate(449.2 1065.95) scale(1 1.04)">M+1</text>
<rect x="409.4" y="1082.1" width="25.7" height="28.7" fill="#f9c18c" stroke="#ee9036" stroke-width="2.6"/>
<text font-size="33.5" transform="translate(449.2 1107.55) scale(1 1.04)">M+2</text>
<rect x="409.4" y="1123.7" width="25.7" height="28.7" fill="#9dd3e4" stroke="#1eaacd" stroke-width="2.6"/>
<text font-size="33.5" transform="translate(449.2 1149.15) scale(1 1.04)">M+3</text>
<rect x="409.4" y="1165.3" width="25.7" height="28.7" fill="#f3a28b" stroke="#e04a3a" stroke-width="2.6"/>
<text font-size="33.5" transform="translate(449.2 1190.75) scale(1 1.04)">M+4</text>
<rect x="409.4" y="1206.9" width="25.7" height="28.7" fill="#a9a9d0" stroke="#6f72a6" stroke-width="2.6"/>
<text font-size="33.5" transform="translate(449.2 1232.35) scale(1 1.04)">M+5</text>
<rect x="409.4" y="1248.5" width="25.7" height="28.7" fill="#8dc4b3" stroke="#12907a" stroke-width="2.6"/>
<text font-size="33.5" transform="translate(449.2 1273.95) scale(1 1.04)">M+6</text>
<text font-size="33.5" text-anchor="end" transform="translate(184.3 1314.2) rotate(-45) scale(1 1.04)">sgNTC</text>
<text font-size="33.5" text-anchor="end" transform="translate(232.6 1314.2) rotate(-45) scale(1 1.04)">sg<tspan font-style="italic">Aacs</tspan> #1</text>
<text font-size="33.5" text-anchor="end" transform="translate(339.9 1314.2) rotate(-45) scale(1 1.04)">sgNTC</text>
<text font-size="33.5" text-anchor="end" transform="translate(388.3 1314.2) rotate(-45) scale(1 1.04)">sg<tspan font-style="italic">Aacs</tspan> #2</text>
<text x="527.8" y="1010.8" font-size="50" font-weight="bold" fill="#231f20">h</text>
<text x="586.6" y="1148.6" font-size="33.5" text-anchor="middle" transform="rotate(-90 586.6 1148.6)">16:0 MID</text>
<rect x="667.05" y="1275.92" width="6.9" height="4.08" fill="#a0a0a0" stroke="#636363" stroke-width="2.3"/>
<rect x="678.05" y="1266.12" width="6.9" height="13.88" fill="#f9c18c" stroke="#ef9038" stroke-width="2.3"/>
<line x1="681.5" y1="1265.3" x2="681.5" y2="1266.93" stroke="#ef9038" stroke-width="2" stroke-linecap="butt"/>
<line x1="678.5" y1="1265.3" x2="684.5" y2="1265.3" stroke="#ef9038" stroke-width="2.2" stroke-linecap="butt"/>
<line x1="678.5" y1="1266.93" x2="684.5" y2="1266.93" stroke="#ef9038" stroke-width="2.2" stroke-linecap="butt"/>
<rect x="697.92" y="1276.73" width="6.9" height="3.27" fill="#a0a0a0" stroke="#636363" stroke-width="2.3"/>
<rect x="708.92" y="1243.25" width="6.9" height="36.75" fill="#f9c18c" stroke="#ef9038" stroke-width="2.3"/>
<line x1="712.37" y1="1242.43" x2="712.37" y2="1244.07" stroke="#ef9038" stroke-width="2" stroke-linecap="butt"/>
<line x1="709.37" y1="1242.43" x2="715.37" y2="1242.43" stroke="#ef9038" stroke-width="2.2" stroke-linecap="butt"/>
<line x1="709.37" y1="1244.07" x2="715.37" y2="1244.07" stroke="#ef9038" stroke-width="2.2" stroke-linecap="butt"/>
<rect x="728.79" y="1267.75" width="6.9" height="12.25" fill="#a0a0a0" stroke="#636363" stroke-width="2.3"/>
<line x1="732.24" y1="1266.93" x2="732.24" y2="1268.57" stroke="#636363" stroke-width="2" stroke-linecap="butt"/>
<line x1="729.24" y1="1266.93" x2="735.24" y2="1266.93" stroke="#636363" stroke-width="2.2" stroke-linecap="butt"/>
<line x1="729.24" y1="1268.57" x2="735.24" y2="1268.57" stroke="#636363" stroke-width="2.2" stroke-linecap="butt"/>
<rect x="739.79" y="1206.5" width="6.9" height="73.5" fill="#f9c18c" stroke="#ef9038" stroke-width="2.3"/>
<line x1="743.24" y1="1203.23" x2="743.24" y2="1209.77" stroke="#ef9038" stroke-width="2" stroke-linecap="butt"/>
<line x1="740.24" y1="1203.23" x2="746.24" y2="1203.23" stroke="#ef9038" stroke-width="2.2" stroke-linecap="butt"/>
<line x1="740.24" y1="1209.77" x2="746.24" y2="1209.77" stroke="#ef9038" stroke-width="2.2" stroke-linecap="butt"/>
<rect x="759.66" y="1245.7" width="6.9" height="34.3" fill="#a0a0a0" stroke="#636363" stroke-width="2.3"/>
<line x1="763.11" y1="1243.25" x2="763.11" y2="1248.15" stroke="#636363" stroke-width="2" stroke-linecap="butt"/>
<line x1="760.11" y1="1243.25" x2="766.11" y2="1243.25" stroke="#636363" stroke-width="2.2" stroke-linecap="butt"/>
<line x1="760.11" y1="1248.15" x2="766.11" y2="1248.15" stroke="#636363" stroke-width="2.2" stroke-linecap="butt"/>
<rect x="770.66" y="1171.38" width="6.9" height="108.62" fill="#f9c18c" stroke="#ef9038" stroke-width="2.3"/>
<line x1="774.11" y1="1168.12" x2="774.11" y2="1174.65" stroke="#ef9038" stroke-width="2" stroke-linecap="butt"/>
<line x1="771.11" y1="1168.12" x2="777.11" y2="1168.12" stroke="#ef9038" stroke-width="2.2" stroke-linecap="butt"/>
<line x1="771.11" y1="1174.65" x2="777.11" y2="1174.65" stroke="#ef9038" stroke-width="2.2" stroke-linecap="butt"/>
<rect x="790.53" y="1204.05" width="6.9" height="75.95" fill="#a0a0a0" stroke="#636363" stroke-width="2.3"/>
<line x1="793.98" y1="1198.33" x2="793.98" y2="1209.77" stroke="#636363" stroke-width="2" stroke-linecap="butt"/>
<line x1="790.98" y1="1198.33" x2="796.98" y2="1198.33" stroke="#636363" stroke-width="2.2" stroke-linecap="butt"/>
<line x1="790.98" y1="1209.77" x2="796.98" y2="1209.77" stroke="#636363" stroke-width="2.2" stroke-linecap="butt"/>
<rect x="801.53" y="1148.52" width="6.9" height="131.48" fill="#f9c18c" stroke="#ef9038" stroke-width="2.3"/>
<line x1="804.98" y1="1146.88" x2="804.98" y2="1150.15" stroke="#ef9038" stroke-width="2" stroke-linecap="butt"/>
<line x1="801.98" y1="1146.88" x2="807.98" y2="1146.88" stroke="#ef9038" stroke-width="2.2" stroke-linecap="butt"/>
<line x1="801.98" y1="1150.15" x2="807.98" y2="1150.15" stroke="#ef9038" stroke-width="2.2" stroke-linecap="butt"/>
<rect x="821.4" y="1145.25" width="6.9" height="134.75" fill="#a0a0a0" stroke="#636363" stroke-width="2.3"/>
<line x1="824.85" y1="1134.63" x2="824.85" y2="1155.87" stroke="#636363" stroke-width="2" stroke-linecap="butt"/>
<line x1="821.85" y1="1134.63" x2="827.85" y2="1134.63" stroke="#636363" stroke-width="2.2" stroke-linecap="butt"/>
<line x1="821.85" y1="1155.87" x2="827.85" y2="1155.87" stroke="#636363" stroke-width="2.2" stroke-linecap="butt"/>
<rect x="832.4" y="1157.5" width="6.9" height="122.5" fill="#f9c18c" stroke="#ef9038" stroke-width="2.3"/>
<line x1="835.85" y1="1155.87" x2="835.85" y2="1159.13" stroke="#ef9038" stroke-width="2" stroke-linecap="butt"/>
<line x1="832.85" y1="1155.87" x2="838.85" y2="1155.87" stroke="#ef9038" stroke-width="2.2" stroke-linecap="butt"/>
<line x1="832.85" y1="1159.13" x2="838.85" y2="1159.13" stroke="#ef9038" stroke-width="2.2" stroke-linecap="butt"/>
<rect x="852.27" y="1106.87" width="6.9" height="173.13" fill="#a0a0a0" stroke="#636363" stroke-width="2.3"/>
<line x1="855.72" y1="1092.98" x2="855.72" y2="1120.75" stroke="#636363" stroke-width="2" stroke-linecap="butt"/>
<line x1="852.72" y1="1092.98" x2="858.72" y2="1092.98" stroke="#636363" stroke-width="2.2" stroke-linecap="butt"/>
<line x1="852.72" y1="1120.75" x2="858.72" y2="1120.75" stroke="#636363" stroke-width="2.2" stroke-linecap="butt"/>
<rect x="863.27" y="1195.07" width="6.9" height="84.93" fill="#f9c18c" stroke="#ef9038" stroke-width="2.3"/>
<line x1="866.72" y1="1193.43" x2="866.72" y2="1196.7" stroke="#ef9038" stroke-width="2" stroke-linecap="butt"/>
<line x1="863.72" y1="1193.43" x2="869.72" y2="1193.43" stroke="#ef9038" stroke-width="2.2" stroke-linecap="butt"/>
<line x1="863.72" y1="1196.7" x2="869.72" y2="1196.7" stroke="#ef9038" stroke-width="2.2" stroke-linecap="butt"/>
<rect x="883.14" y="1159.13" width="6.9" height="120.87" fill="#a0a0a0" stroke="#636363" stroke-width="2.3"/>
<line x1="886.59" y1="1149.33" x2="886.59" y2="1168.93" stroke="#636363" stroke-width="2" stroke-linecap="butt"/>
<line x1="883.59" y1="1149.33" x2="889.59" y2="1149.33" stroke="#636363" stroke-width="2.2" stroke-linecap="butt"/>
<line x1="883.59" y1="1168.93" x2="889.59" y2="1168.93" stroke="#636363" stroke-width="2.2" stroke-linecap="butt"/>
<rect x="894.14" y="1246.52" width="6.9" height="33.48" fill="#f9c18c" stroke="#ef9038" stroke-width="2.3"/>
<line x1="897.59" y1="1244.88" x2="897.59" y2="1248.15" stroke="#ef9038" stroke-width="2" stroke-linecap="butt"/>
<line x1="894.59" y1="1244.88" x2="900.59" y2="1244.88" stroke="#ef9038" stroke-width="2.2" stroke-linecap="butt"/>
<line x1="894.59" y1="1248.15" x2="900.59" y2="1248.15" stroke="#ef9038" stroke-width="2.2" stroke-linecap="butt"/>
<circle cx="670.5" cy="1275.1" r="2.35" fill="#fff" stroke="#636363" stroke-width="2.3"/>
<circle cx="668.3" cy="1275.92" r="2.35" fill="#fff" stroke="#636363" stroke-width="2.3"/>
<circle cx="672.7" cy="1275.92" r="2.35" fill="#fff" stroke="#636363" stroke-width="2.3"/>
<circle cx="681.5" cy="1263.67" r="2.35" fill="#fff" stroke="#ef9038" stroke-width="2.3"/>
<circle cx="679.3" cy="1265.3" r="2.35" fill="#fff" stroke="#ef9038" stroke-width="2.3"/>
<circle cx="683.7" cy="1266.93" r="2.35" fill="#fff" stroke="#ef9038" stroke-width="2.3"/>
<circle cx="701.37" cy="1276.73" r="2.35" fill="#fff" stroke="#636363" stroke-width="2.3"/>
<circle cx="699.17" cy="1276.73" r="2.35" fill="#fff" stroke="#636363" stroke-width="2.3"/>
<circle cx="703.57" cy="1276.73" r="2.35" fill="#fff" stroke="#636363" stroke-width="2.3"/>
<circle cx="712.37" cy="1240.8" r="2.35" fill="#fff" stroke="#ef9038" stroke-width="2.3"/>
<circle cx="710.17" cy="1242.43" r="2.35" fill="#fff" stroke="#ef9038" stroke-width="2.3"/>
<circle cx="714.57" cy="1244.07" r="2.35" fill="#fff" stroke="#ef9038" stroke-width="2.3"/>
<circle cx="732.24" cy="1266.12" r="2.35" fill="#fff" stroke="#636363" stroke-width="2.3"/>
<circle cx="730.04" cy="1268.57" r="2.35" fill="#fff" stroke="#636363" stroke-width="2.3"/>
<circle cx="734.44" cy="1269.38" r="2.35" fill="#fff" stroke="#636363" stroke-width="2.3"/>
<circle cx="743.24" cy="1202.42" r="2.35" fill="#fff" stroke="#ef9038" stroke-width="2.3"/>
<circle cx="741.04" cy="1204.05" r="2.35" fill="#fff" stroke="#ef9038" stroke-width="2.3"/>
<circle cx="745.44" cy="1214.67" r="2.35" fill="#fff" stroke="#ef9038" stroke-width="2.3"/>
<circle cx="763.11" cy="1241.62" r="2.35" fill="#fff" stroke="#636363" stroke-width="2.3"/>
<circle cx="760.91" cy="1247.33" r="2.35" fill="#fff" stroke="#636363" stroke-width="2.3"/>
<circle cx="765.31" cy="1247.33" r="2.35" fill="#fff" stroke="#636363" stroke-width="2.3"/>
<circle cx="774.11" cy="1165.67" r="2.35" fill="#fff" stroke="#ef9038" stroke-width="2.3"/>
<circle cx="771.91" cy="1167.3" r="2.35" fill="#fff" stroke="#ef9038" stroke-width="2.3"/>
<circle cx="776.31" cy="1175.47" r="2.35" fill="#fff" stroke="#ef9038" stroke-width="2.3"/>
<circle cx="793.98" cy="1193.84" r="2.35" fill="#fff" stroke="#636363" stroke-width="2.3"/>
<circle cx="791.78" cy="1208.13" r="2.35" fill="#fff" stroke="#636363" stroke-width="2.3"/>
<circle cx="796.18" cy="1207.32" r="2.35" fill="#fff" stroke="#636363" stroke-width="2.3"/>
<circle cx="804.98" cy="1146.88" r="2.35" fill="#fff" stroke="#ef9038" stroke-width="2.3"/>
<circle cx="802.78" cy="1146.88" r="2.35" fill="#fff" stroke="#ef9038" stroke-width="2.3"/>
<circle cx="807.18" cy="1153.42" r="2.35" fill="#fff" stroke="#ef9038" stroke-width="2.3"/>
<circle cx="824.85" cy="1124.83" r="2.35" fill="#fff" stroke="#636363" stroke-width="2.3"/>
<circle cx="822.65" cy="1152.6" r="2.35" fill="#fff" stroke="#636363" stroke-width="2.3"/>
<circle cx="827.05" cy="1157.5" r="2.35" fill="#fff" stroke="#636363" stroke-width="2.3"/>
<circle cx="835.85" cy="1152.6" r="2.35" fill="#fff" stroke="#ef9038" stroke-width="2.3"/>
<circle cx="833.65" cy="1155.87" r="2.35" fill="#fff" stroke="#ef9038" stroke-width="2.3"/>
<circle cx="838.05" cy="1159.95" r="2.35" fill="#fff" stroke="#ef9038" stroke-width="2.3"/>
<circle cx="855.72" cy="1080.73" r="2.35" fill="#fff" stroke="#636363" stroke-width="2.3"/>
<circle cx="853.52" cy="1118.3" r="2.35" fill="#fff" stroke="#636363" stroke-width="2.3"/>
<circle cx="857.92" cy="1119.93" r="2.35" fill="#fff" stroke="#636363" stroke-width="2.3"/>
<circle cx="866.72" cy="1191.8" r="2.35" fill="#fff" stroke="#ef9038" stroke-width="2.3"/>
<circle cx="864.52" cy="1194.25" r="2.35" fill="#fff" stroke="#ef9038" stroke-width="2.3"/>
<circle cx="868.92" cy="1198.33" r="2.35" fill="#fff" stroke="#ef9038" stroke-width="2.3"/>
<circle cx="886.59" cy="1141.17" r="2.35" fill="#fff" stroke="#636363" stroke-width="2.3"/>
<circle cx="884.39" cy="1163.22" r="2.35" fill="#fff" stroke="#636363" stroke-width="2.3"/>
<circle cx="888.79" cy="1170.57" r="2.35" fill="#fff" stroke="#636363" stroke-width="2.3"/>
<circle cx="897.59" cy="1244.07" r="2.35" fill="#fff" stroke="#ef9038" stroke-width="2.3"/>
<circle cx="895.39" cy="1245.7" r="2.35" fill="#fff" stroke="#ef9038" stroke-width="2.3"/>
<circle cx="899.79" cy="1248.97" r="2.35" fill="#fff" stroke="#ef9038" stroke-width="2.3"/>
<line x1="661.4" y1="1033.85" x2="661.4" y2="1281.15" stroke="#000" stroke-width="2.3" stroke-linecap="butt"/>
<line x1="654.9" y1="1280" x2="906" y2="1280" stroke="#000" stroke-width="2.3" stroke-linecap="butt"/>
<line x1="654.9" y1="1280" x2="661.4" y2="1280" stroke="#000" stroke-width="2.3" stroke-linecap="butt"/>
<text font-size="33.5" text-anchor="end" transform="translate(649.6 1291.3) scale(1 1.04)">0.0</text>
<line x1="654.9" y1="1198.33" x2="661.4" y2="1198.33" stroke="#000" stroke-width="2.3" stroke-linecap="butt"/>
<text font-size="33.5" text-anchor="end" transform="translate(649.6 1209.63) scale(1 1.04)">0.1</text>
<line x1="654.9" y1="1116.67" x2="661.4" y2="1116.67" stroke="#000" stroke-width="2.3" stroke-linecap="butt"/>
<text font-size="33.5" text-anchor="end" transform="translate(649.6 1127.97) scale(1 1.04)">0.2</text>
<line x1="654.9" y1="1035" x2="661.4" y2="1035" stroke="#000" stroke-width="2.3" stroke-linecap="butt"/>
<text font-size="33.5" text-anchor="end" transform="translate(649.6 1046.3) scale(1 1.04)">0.3</text>
<line x1="675.5" y1="1280" x2="675.5" y2="1287.5" stroke="#000" stroke-width="2.3" stroke-linecap="butt"/>
<line x1="706.37" y1="1280" x2="706.37" y2="1287.5" stroke="#000" stroke-width="2.3" stroke-linecap="butt"/>
<line x1="737.24" y1="1280" x2="737.24" y2="1287.5" stroke="#000" stroke-width="2.3" stroke-linecap="butt"/>
<line x1="768.11" y1="1280" x2="768.11" y2="1287.5" stroke="#000" stroke-width="2.3" stroke-linecap="butt"/>
<line x1="798.98" y1="1280" x2="798.98" y2="1287.5" stroke="#000" stroke-width="2.3" stroke-linecap="butt"/>
<line x1="829.85" y1="1280" x2="829.85" y2="1287.5" stroke="#000" stroke-width="2.3" stroke-linecap="butt"/>
<line x1="860.72" y1="1280" x2="860.72" y2="1287.5" stroke="#000" stroke-width="2.3" stroke-linecap="butt"/>
<line x1="891.59" y1="1280" x2="891.59" y2="1287.5" stroke="#000" stroke-width="2.3" stroke-linecap="butt"/>
<text font-size="33.5" text-anchor="end" transform="translate(686.9 1291.5) rotate(-90) scale(1 1.04)">M+2</text>
<text font-size="33.5" text-anchor="end" transform="translate(717.77 1291.5) rotate(-90) scale(1 1.04)">M+4</text>
<text font-size="33.5" text-anchor="end" transform="translate(748.64 1291.5) rotate(-90) scale(1 1.04)">M+6</text>
<text font-size="33.5" text-anchor="end" transform="translate(779.51 1291.5) rotate(-90) scale(1 1.04)">M+8</text>
<text font-size="33.5" text-anchor="end" transform="translate(810.38 1291.5) rotate(-90) scale(1 1.04)">M+10</text>
<text font-size="33.5" text-anchor="end" transform="translate(841.25 1291.5) rotate(-90) scale(1 1.04)">M+12</text>
<text font-size="33.5" text-anchor="end" transform="translate(872.12 1291.5) rotate(-90) scale(1 1.04)">M+14</text>
<text font-size="33.5" text-anchor="end" transform="translate(902.99 1291.5) rotate(-90) scale(1 1.04)">M+16</text>
<rect x="1001.95" y="1276.94" width="6.9" height="3.06" fill="#a0a0a0" stroke="#636363" stroke-width="2.3"/>
<rect x="1012.95" y="1271.42" width="6.9" height="8.58" fill="#9dd3e4" stroke="#1eaacd" stroke-width="2.3"/>
<line x1="1016.4" y1="1270.81" x2="1016.4" y2="1272.04" stroke="#1eaacd" stroke-width="2" stroke-linecap="butt"/>
<line x1="1013.4" y1="1270.81" x2="1019.4" y2="1270.81" stroke="#1eaacd" stroke-width="2.2" stroke-linecap="butt"/>
<line x1="1013.4" y1="1272.04" x2="1019.4" y2="1272.04" stroke="#1eaacd" stroke-width="2.2" stroke-linecap="butt"/>
<rect x="1032.82" y="1276.94" width="6.9" height="3.06" fill="#a0a0a0" stroke="#636363" stroke-width="2.3"/>
<rect x="1043.82" y="1256.11" width="6.9" height="23.89" fill="#9dd3e4" stroke="#1eaacd" stroke-width="2.3"/>
<line x1="1047.27" y1="1255.5" x2="1047.27" y2="1256.72" stroke="#1eaacd" stroke-width="2" stroke-linecap="butt"/>
<line x1="1044.27" y1="1255.5" x2="1050.27" y2="1255.5" stroke="#1eaacd" stroke-width="2.2" stroke-linecap="butt"/>
<line x1="1044.27" y1="1256.72" x2="1050.27" y2="1256.72" stroke="#1eaacd" stroke-width="2.2" stroke-linecap="butt"/>
<rect x="1063.69" y="1270.81" width="6.9" height="9.19" fill="#a0a0a0" stroke="#636363" stroke-width="2.3"/>
<line x1="1067.14" y1="1270.2" x2="1067.14" y2="1271.42" stroke="#636363" stroke-width="2" stroke-linecap="butt"/>
<line x1="1064.14" y1="1270.2" x2="1070.14" y2="1270.2" stroke="#636363" stroke-width="2.2" stroke-linecap="butt"/>
<line x1="1064.14" y1="1271.42" x2="1070.14" y2="1271.42" stroke="#636363" stroke-width="2.2" stroke-linecap="butt"/>
<rect x="1074.69" y="1227.94" width="6.9" height="52.06" fill="#9dd3e4" stroke="#1eaacd" stroke-width="2.3"/>
<line x1="1078.14" y1="1227.33" x2="1078.14" y2="1228.55" stroke="#1eaacd" stroke-width="2" stroke-linecap="butt"/>
<line x1="1075.14" y1="1227.33" x2="1081.14" y2="1227.33" stroke="#1eaacd" stroke-width="2.2" stroke-linecap="butt"/>
<line x1="1075.14" y1="1228.55" x2="1081.14" y2="1228.55" stroke="#1eaacd" stroke-width="2.2" stroke-linecap="butt"/>
<rect x="1094.56" y="1254.28" width="6.9" height="25.72" fill="#a0a0a0" stroke="#636363" stroke-width="2.3"/>
<line x1="1098.01" y1="1253.05" x2="1098.01" y2="1255.5" stroke="#636363" stroke-width="2" stroke-linecap="butt"/>
<line x1="1095.01" y1="1253.05" x2="1101.01" y2="1253.05" stroke="#636363" stroke-width="2.2" stroke-linecap="butt"/>
<line x1="1095.01" y1="1255.5" x2="1101.01" y2="1255.5" stroke="#636363" stroke-width="2.2" stroke-linecap="butt"/>
<rect x="1105.56" y="1191.8" width="6.9" height="88.2" fill="#9dd3e4" stroke="#1eaacd" stroke-width="2.3"/>
<line x1="1109.01" y1="1191.19" x2="1109.01" y2="1192.41" stroke="#1eaacd" stroke-width="2" stroke-linecap="butt"/>
<line x1="1106.01" y1="1191.19" x2="1112.01" y2="1191.19" stroke="#1eaacd" stroke-width="2.2" stroke-linecap="butt"/>
<line x1="1106.01" y1="1192.41" x2="1112.01" y2="1192.41" stroke="#1eaacd" stroke-width="2.2" stroke-linecap="butt"/>
<rect x="1125.43" y="1215.69" width="6.9" height="64.31" fill="#a0a0a0" stroke="#636363" stroke-width="2.3"/>
<line x1="1128.88" y1="1214.46" x2="1128.88" y2="1216.91" stroke="#636363" stroke-width="2" stroke-linecap="butt"/>
<line x1="1125.88" y1="1214.46" x2="1131.88" y2="1214.46" stroke="#636363" stroke-width="2.2" stroke-linecap="butt"/>
<line x1="1125.88" y1="1216.91" x2="1131.88" y2="1216.91" stroke="#636363" stroke-width="2.2" stroke-linecap="butt"/>
<rect x="1136.43" y="1163.01" width="6.9" height="116.99" fill="#9dd3e4" stroke="#1eaacd" stroke-width="2.3"/>
<line x1="1139.88" y1="1162.4" x2="1139.88" y2="1163.62" stroke="#1eaacd" stroke-width="2" stroke-linecap="butt"/>
<line x1="1136.88" y1="1162.4" x2="1142.88" y2="1162.4" stroke="#1eaacd" stroke-width="2.2" stroke-linecap="butt"/>
<line x1="1136.88" y1="1163.62" x2="1142.88" y2="1163.62" stroke="#1eaacd" stroke-width="2.2" stroke-linecap="butt"/>
<rect x="1156.3" y="1154.44" width="6.9" height="125.56" fill="#a0a0a0" stroke="#636363" stroke-width="2.3"/>
<line x1="1159.75" y1="1153.21" x2="1159.75" y2="1155.66" stroke="#636363" stroke-width="2" stroke-linecap="butt"/>
<line x1="1156.75" y1="1153.21" x2="1162.75" y2="1153.21" stroke="#636363" stroke-width="2.2" stroke-linecap="butt"/>
<line x1="1156.75" y1="1155.66" x2="1162.75" y2="1155.66" stroke="#636363" stroke-width="2.2" stroke-linecap="butt"/>
<rect x="1167.3" y="1160.56" width="6.9" height="119.44" fill="#9dd3e4" stroke="#1eaacd" stroke-width="2.3"/>
<line x1="1170.75" y1="1159.34" x2="1170.75" y2="1161.79" stroke="#1eaacd" stroke-width="2" stroke-linecap="butt"/>
<line x1="1167.75" y1="1159.34" x2="1173.75" y2="1159.34" stroke="#1eaacd" stroke-width="2.2" stroke-linecap="butt"/>
<line x1="1167.75" y1="1161.79" x2="1173.75" y2="1161.79" stroke="#1eaacd" stroke-width="2.2" stroke-linecap="butt"/>
<rect x="1187.17" y="1107.28" width="6.9" height="172.72" fill="#a0a0a0" stroke="#636363" stroke-width="2.3"/>
<line x1="1190.62" y1="1105.44" x2="1190.62" y2="1109.11" stroke="#636363" stroke-width="2" stroke-linecap="butt"/>
<line x1="1187.62" y1="1105.44" x2="1193.62" y2="1105.44" stroke="#636363" stroke-width="2.2" stroke-linecap="butt"/>
<line x1="1187.62" y1="1109.11" x2="1193.62" y2="1109.11" stroke="#636363" stroke-width="2.2" stroke-linecap="butt"/>
<rect x="1198.17" y="1189.96" width="6.9" height="90.04" fill="#9dd3e4" stroke="#1eaacd" stroke-width="2.3"/>
<line x1="1201.62" y1="1189.35" x2="1201.62" y2="1190.58" stroke="#1eaacd" stroke-width="2" stroke-linecap="butt"/>
<line x1="1198.62" y1="1189.35" x2="1204.62" y2="1189.35" stroke="#1eaacd" stroke-width="2.2" stroke-linecap="butt"/>
<line x1="1198.62" y1="1190.58" x2="1204.62" y2="1190.58" stroke="#1eaacd" stroke-width="2.2" stroke-linecap="butt"/>
<rect x="1218.04" y="1155.05" width="6.9" height="124.95" fill="#a0a0a0" stroke="#636363" stroke-width="2.3"/>
<line x1="1221.49" y1="1153.21" x2="1221.49" y2="1156.89" stroke="#636363" stroke-width="2" stroke-linecap="butt"/>
<line x1="1218.49" y1="1153.21" x2="1224.49" y2="1153.21" stroke="#636363" stroke-width="2.2" stroke-linecap="butt"/>
<line x1="1218.49" y1="1156.89" x2="1224.49" y2="1156.89" stroke="#636363" stroke-width="2.2" stroke-linecap="butt"/>
<rect x="1229.04" y="1242.03" width="6.9" height="37.97" fill="#9dd3e4" stroke="#1eaacd" stroke-width="2.3"/>
<line x1="1232.49" y1="1240.8" x2="1232.49" y2="1243.25" stroke="#1eaacd" stroke-width="2" stroke-linecap="butt"/>
<line x1="1229.49" y1="1240.8" x2="1235.49" y2="1240.8" stroke="#1eaacd" stroke-width="2.2" stroke-linecap="butt"/>
<line x1="1229.49" y1="1243.25" x2="1235.49" y2="1243.25" stroke="#1eaacd" stroke-width="2.2" stroke-linecap="butt"/>
<circle cx="1005.4" cy="1276.94" r="2.35" fill="#fff" stroke="#636363" stroke-width="2.3"/>
<circle cx="1003.2" cy="1276.94" r="2.35" fill="#fff" stroke="#636363" stroke-width="2.3"/>
<circle cx="1007.6" cy="1276.94" r="2.35" fill="#fff" stroke="#636363" stroke-width="2.3"/>
<circle cx="1016.4" cy="1270.2" r="2.35" fill="#fff" stroke="#1eaacd" stroke-width="2.3"/>
<circle cx="1014.2" cy="1270.81" r="2.35" fill="#fff" stroke="#1eaacd" stroke-width="2.3"/>
<circle cx="1018.6" cy="1271.42" r="2.35" fill="#fff" stroke="#1eaacd" stroke-width="2.3"/>
<circle cx="1036.27" cy="1276.94" r="2.35" fill="#fff" stroke="#636363" stroke-width="2.3"/>
<circle cx="1034.07" cy="1276.94" r="2.35" fill="#fff" stroke="#636363" stroke-width="2.3"/>
<circle cx="1038.47" cy="1276.94" r="2.35" fill="#fff" stroke="#636363" stroke-width="2.3"/>
<circle cx="1047.27" cy="1254.89" r="2.35" fill="#fff" stroke="#1eaacd" stroke-width="2.3"/>
<circle cx="1045.07" cy="1255.5" r="2.35" fill="#fff" stroke="#1eaacd" stroke-width="2.3"/>
<circle cx="1049.47" cy="1256.11" r="2.35" fill="#fff" stroke="#1eaacd" stroke-width="2.3"/>
<circle cx="1067.14" cy="1268.97" r="2.35" fill="#fff" stroke="#636363" stroke-width="2.3"/>
<circle cx="1064.94" cy="1270.81" r="2.35" fill="#fff" stroke="#636363" stroke-width="2.3"/>
<circle cx="1069.34" cy="1272.04" r="2.35" fill="#fff" stroke="#636363" stroke-width="2.3"/>
<circle cx="1078.14" cy="1226.71" r="2.35" fill="#fff" stroke="#1eaacd" stroke-width="2.3"/>
<circle cx="1075.94" cy="1227.33" r="2.35" fill="#fff" stroke="#1eaacd" stroke-width="2.3"/>
<circle cx="1080.34" cy="1227.94" r="2.35" fill="#fff" stroke="#1eaacd" stroke-width="2.3"/>
<circle cx="1098.01" cy="1251.83" r="2.35" fill="#fff" stroke="#636363" stroke-width="2.3"/>
<circle cx="1095.81" cy="1254.89" r="2.35" fill="#fff" stroke="#636363" stroke-width="2.3"/>
<circle cx="1100.21" cy="1255.5" r="2.35" fill="#fff" stroke="#636363" stroke-width="2.3"/>
<circle cx="1109.01" cy="1190.58" r="2.35" fill="#fff" stroke="#1eaacd" stroke-width="2.3"/>
<circle cx="1106.81" cy="1191.19" r="2.35" fill="#fff" stroke="#1eaacd" stroke-width="2.3"/>
<circle cx="1111.21" cy="1191.8" r="2.35" fill="#fff" stroke="#1eaacd" stroke-width="2.3"/>
<circle cx="1128.88" cy="1212.62" r="2.35" fill="#fff" stroke="#636363" stroke-width="2.3"/>
<circle cx="1126.68" cy="1216.3" r="2.35" fill="#fff" stroke="#636363" stroke-width="2.3"/>
<circle cx="1131.08" cy="1217.53" r="2.35" fill="#fff" stroke="#636363" stroke-width="2.3"/>
<circle cx="1139.88" cy="1161.79" r="2.35" fill="#fff" stroke="#1eaacd" stroke-width="2.3"/>
<circle cx="1137.68" cy="1162.4" r="2.35" fill="#fff" stroke="#1eaacd" stroke-width="2.3"/>
<circle cx="1142.08" cy="1163.62" r="2.35" fill="#fff" stroke="#1eaacd" stroke-width="2.3"/>
<circle cx="1159.75" cy="1151.38" r="2.35" fill="#fff" stroke="#636363" stroke-width="2.3"/>
<circle cx="1157.55" cy="1154.44" r="2.35" fill="#fff" stroke="#636363" stroke-width="2.3"/>
<circle cx="1161.95" cy="1155.66" r="2.35" fill="#fff" stroke="#636363" stroke-width="2.3"/>
<circle cx="1170.75" cy="1158.11" r="2.35" fill="#fff" stroke="#1eaacd" stroke-width="2.3"/>
<circle cx="1168.55" cy="1159.34" r="2.35" fill="#fff" stroke="#1eaacd" stroke-width="2.3"/>
<circle cx="1172.95" cy="1161.79" r="2.35" fill="#fff" stroke="#1eaacd" stroke-width="2.3"/>
<circle cx="1190.62" cy="1103.6" r="2.35" fill="#fff" stroke="#636363" stroke-width="2.3"/>
<circle cx="1188.42" cy="1108.5" r="2.35" fill="#fff" stroke="#636363" stroke-width="2.3"/>
<circle cx="1192.82" cy="1110.95" r="2.35" fill="#fff" stroke="#636363" stroke-width="2.3"/>
<circle cx="1201.62" cy="1189.35" r="2.35" fill="#fff" stroke="#1eaacd" stroke-width="2.3"/>
<circle cx="1199.42" cy="1189.35" r="2.35" fill="#fff" stroke="#1eaacd" stroke-width="2.3"/>
<circle cx="1203.82" cy="1189.96" r="2.35" fill="#fff" stroke="#1eaacd" stroke-width="2.3"/>
<circle cx="1221.49" cy="1150.76" r="2.35" fill="#fff" stroke="#636363" stroke-width="2.3"/>
<circle cx="1219.29" cy="1155.66" r="2.35" fill="#fff" stroke="#636363" stroke-width="2.3"/>
<circle cx="1223.69" cy="1158.72" r="2.35" fill="#fff" stroke="#636363" stroke-width="2.3"/>
<circle cx="1232.49" cy="1239.58" r="2.35" fill="#fff" stroke="#1eaacd" stroke-width="2.3"/>
<circle cx="1230.29" cy="1241.41" r="2.35" fill="#fff" stroke="#1eaacd" stroke-width="2.3"/>
<circle cx="1234.69" cy="1244.47" r="2.35" fill="#fff" stroke="#1eaacd" stroke-width="2.3"/>
<line x1="996.7" y1="1033.85" x2="996.7" y2="1281.15" stroke="#000" stroke-width="2.3" stroke-linecap="butt"/>
<line x1="990.2" y1="1280" x2="1241" y2="1280" stroke="#000" stroke-width="2.3" stroke-linecap="butt"/>
<line x1="990.2" y1="1280" x2="996.7" y2="1280" stroke="#000" stroke-width="2.3" stroke-linecap="butt"/>
<text font-size="33.5" text-anchor="end" transform="translate(984.9 1291.3) scale(1 1.04)">0.0</text>
<line x1="990.2" y1="1218.75" x2="996.7" y2="1218.75" stroke="#000" stroke-width="2.3" stroke-linecap="butt"/>
<text font-size="33.5" text-anchor="end" transform="translate(984.9 1230.05) scale(1 1.04)">0.1</text>
<line x1="990.2" y1="1157.5" x2="996.7" y2="1157.5" stroke="#000" stroke-width="2.3" stroke-linecap="butt"/>
<text font-size="33.5" text-anchor="end" transform="translate(984.9 1168.8) scale(1 1.04)">0.2</text>
<line x1="990.2" y1="1096.25" x2="996.7" y2="1096.25" stroke="#000" stroke-width="2.3" stroke-linecap="butt"/>
<text font-size="33.5" text-anchor="end" transform="translate(984.9 1107.55) scale(1 1.04)">0.3</text>
<line x1="990.2" y1="1035" x2="996.7" y2="1035" stroke="#000" stroke-width="2.3" stroke-linecap="butt"/>
<text font-size="33.5" text-anchor="end" transform="translate(984.9 1046.3) scale(1 1.04)">0.4</text>
<line x1="1010.4" y1="1280" x2="1010.4" y2="1287.5" stroke="#000" stroke-width="2.3" stroke-linecap="butt"/>
<line x1="1041.27" y1="1280" x2="1041.27" y2="1287.5" stroke="#000" stroke-width="2.3" stroke-linecap="butt"/>
<line x1="1072.14" y1="1280" x2="1072.14" y2="1287.5" stroke="#000" stroke-width="2.3" stroke-linecap="butt"/>
<line x1="1103.01" y1="1280" x2="1103.01" y2="1287.5" stroke="#000" stroke-width="2.3" stroke-linecap="butt"/>
<line x1="1133.88" y1="1280" x2="1133.88" y2="1287.5" stroke="#000" stroke-width="2.3" stroke-linecap="butt"/>
<line x1="1164.75" y1="1280" x2="1164.75" y2="1287.5" stroke="#000" stroke-width="2.3" stroke-linecap="butt"/>
<line x1="1195.62" y1="1280" x2="1195.62" y2="1287.5" stroke="#000" stroke-width="2.3" stroke-linecap="butt"/>
<line x1="1226.49" y1="1280" x2="1226.49" y2="1287.5" stroke="#000" stroke-width="2.3" stroke-linecap="butt"/>
<text font-size="33.5" text-anchor="end" transform="translate(1021.8 1291.5) rotate(-90) scale(1 1.04)">M+2</text>
<text font-size="33.5" text-anchor="end" transform="translate(1052.67 1291.5) rotate(-90) scale(1 1.04)">M+4</text>
<text font-size="33.5" text-anchor="end" transform="translate(1083.54 1291.5) rotate(-90) scale(1 1.04)">M+6</text>
<text font-size="33.5" text-anchor="end" transform="translate(1114.41 1291.5) rotate(-90) scale(1 1.04)">M+8</text>
<text font-size="33.5" text-anchor="end" transform="translate(1145.28 1291.5) rotate(-90) scale(1 1.04)">M+10</text>
<text font-size="33.5" text-anchor="end" transform="translate(1176.15 1291.5) rotate(-90) scale(1 1.04)">M+12</text>
<text font-size="33.5" text-anchor="end" transform="translate(1207.02 1291.5) rotate(-90) scale(1 1.04)">M+14</text>
<text font-size="33.5" text-anchor="end" transform="translate(1237.89 1291.5) rotate(-90) scale(1 1.04)">M+16</text>
<rect x="587.9" y="1398" width="25.7" height="29" fill="#a0a0a0" stroke="#636363" stroke-width="2.6"/>
<text font-size="33.5" transform="translate(629.2 1423.7) scale(1 1.04)">sgNTC</text>
<rect x="786.2" y="1398" width="25.7" height="29" fill="#f9c18c" stroke="#ef9038" stroke-width="2.6"/>
<text font-size="33.5" transform="translate(827.5 1423.7) scale(1 1.04)">sg<tspan font-style="italic">Aacs</tspan> #1</text>
<rect x="1034.5" y="1398" width="25.7" height="29" fill="#9dd3e4" stroke="#1eaacd" stroke-width="2.6"/>
<text font-size="33.5" transform="translate(1074.8 1423.7) scale(1 1.04)">sg<tspan font-style="italic">Aacs</tspan> #2</text>
<text x="1253.5" y="1010.8" font-size="50" font-weight="bold" fill="#231f20">i</text>
<text x="1320.2" y="1149.25" font-size="33.5" text-anchor="middle" transform="rotate(-90 1320.2 1149.25)">Cytosolic acetyl-CoA</text>
<text x="1357.9" y="1148.05" font-size="33.5" text-anchor="middle" transform="rotate(-90 1357.9 1148.05)">Fraction Labeled</text>
<rect x="1448.3" y="1080.75" width="25" height="199.35" fill="#f9c18c" stroke="#ef9038" stroke-width="2.4"/>
<line x1="1460.8" y1="1080.02" x2="1460.8" y2="1080.75" stroke="#ef9038" stroke-width="2" stroke-linecap="butt"/>
<line x1="1453.05" y1="1080.02" x2="1468.55" y2="1080.02" stroke="#ef9038" stroke-width="2.2" stroke-linecap="butt"/>
<rect x="1483.6" y="1128.45" width="25" height="151.65" fill="#f9c18c" stroke="#ef9038" stroke-width="2.4"/>
<line x1="1496.1" y1="1126.98" x2="1496.1" y2="1128.45" stroke="#ef9038" stroke-width="2" stroke-linecap="butt"/>
<line x1="1488.35" y1="1126.98" x2="1503.85" y2="1126.98" stroke="#ef9038" stroke-width="2.2" stroke-linecap="butt"/>
<rect x="1488.4" y="1278.61" width="15.4" height="1.6" fill="#8a8a8a" stroke="#8a8a8a" stroke-width="0.4"/>
<line x1="1432.7" y1="1034.35" x2="1432.7" y2="1281.25" stroke="#000" stroke-width="2.3" stroke-linecap="butt"/>
<line x1="1426.2" y1="1280.1" x2="1524.7" y2="1280.1" stroke="#000" stroke-width="2.3" stroke-linecap="butt"/>
<line x1="1426.2" y1="1280.1" x2="1432.7" y2="1280.1" stroke="#000" stroke-width="2.3" stroke-linecap="butt"/>
<text font-size="33.5" text-anchor="end" transform="translate(1420.9 1291.4) scale(1 1.04)">0.0</text>
<line x1="1426.2" y1="1231.18" x2="1432.7" y2="1231.18" stroke="#000" stroke-width="2.3" stroke-linecap="butt"/>
<text font-size="33.5" text-anchor="end" transform="translate(1420.9 1242.48) scale(1 1.04)">0.2</text>
<line x1="1426.2" y1="1182.26" x2="1432.7" y2="1182.26" stroke="#000" stroke-width="2.3" stroke-linecap="butt"/>
<text font-size="33.5" text-anchor="end" transform="translate(1420.9 1193.56) scale(1 1.04)">0.4</text>
<line x1="1426.2" y1="1133.34" x2="1432.7" y2="1133.34" stroke="#000" stroke-width="2.3" stroke-linecap="butt"/>
<text font-size="33.5" text-anchor="end" transform="translate(1420.9 1144.64) scale(1 1.04)">0.6</text>
<line x1="1426.2" y1="1084.42" x2="1432.7" y2="1084.42" stroke="#000" stroke-width="2.3" stroke-linecap="butt"/>
<text font-size="33.5" text-anchor="end" transform="translate(1420.9 1095.72) scale(1 1.04)">0.8</text>
<line x1="1426.2" y1="1035.5" x2="1432.7" y2="1035.5" stroke="#000" stroke-width="2.3" stroke-linecap="butt"/>
<text font-size="33.5" text-anchor="end" transform="translate(1420.9 1046.8) scale(1 1.04)">1.0</text>
<line x1="1460.8" y1="1280.1" x2="1460.8" y2="1287.6" stroke="#000" stroke-width="2.3" stroke-linecap="butt"/>
<line x1="1496.1" y1="1280.1" x2="1496.1" y2="1287.6" stroke="#000" stroke-width="2.3" stroke-linecap="butt"/>
<rect x="1612.7" y="1078.06" width="25" height="202.04" fill="#f9c18c" stroke="#ef9038" stroke-width="2.4"/>
<line x1="1625.2" y1="1077.08" x2="1625.2" y2="1078.06" stroke="#ef9038" stroke-width="2" stroke-linecap="butt"/>
<line x1="1617.45" y1="1077.08" x2="1632.95" y2="1077.08" stroke="#ef9038" stroke-width="2.2" stroke-linecap="butt"/>
<rect x="1648" y="1119.4" width="25" height="160.7" fill="#f9c18c" stroke="#ef9038" stroke-width="2.4"/>
<line x1="1660.5" y1="1118.66" x2="1660.5" y2="1119.4" stroke="#ef9038" stroke-width="2" stroke-linecap="butt"/>
<line x1="1652.75" y1="1118.66" x2="1668.25" y2="1118.66" stroke="#ef9038" stroke-width="2.2" stroke-linecap="butt"/>
<line x1="1597.4" y1="1034.35" x2="1597.4" y2="1281.25" stroke="#000" stroke-width="2.3" stroke-linecap="butt"/>
<line x1="1590.9" y1="1280.1" x2="1688.8" y2="1280.1" stroke="#000" stroke-width="2.3" stroke-linecap="butt"/>
<line x1="1590.9" y1="1280.1" x2="1597.4" y2="1280.1" stroke="#000" stroke-width="2.3" stroke-linecap="butt"/>
<text font-size="33.5" text-anchor="end" transform="translate(1585.6 1291.4) scale(1 1.04)">0.0</text>
<line x1="1590.9" y1="1231.18" x2="1597.4" y2="1231.18" stroke="#000" stroke-width="2.3" stroke-linecap="butt"/>
<text font-size="33.5" text-anchor="end" transform="translate(1585.6 1242.48) scale(1 1.04)">0.2</text>
<line x1="1590.9" y1="1182.26" x2="1597.4" y2="1182.26" stroke="#000" stroke-width="2.3" stroke-linecap="butt"/>
<text font-size="33.5" text-anchor="end" transform="translate(1585.6 1193.56) scale(1 1.04)">0.4</text>
<line x1="1590.9" y1="1133.34" x2="1597.4" y2="1133.34" stroke="#000" stroke-width="2.3" stroke-linecap="butt"/>
<text font-size="33.5" text-anchor="end" transform="translate(1585.6 1144.64) scale(1 1.04)">0.6</text>
<line x1="1590.9" y1="1084.42" x2="1597.4" y2="1084.42" stroke="#000" stroke-width="2.3" stroke-linecap="butt"/>
<text font-size="33.5" text-anchor="end" transform="translate(1585.6 1095.72) scale(1 1.04)">0.8</text>
<line x1="1590.9" y1="1035.5" x2="1597.4" y2="1035.5" stroke="#000" stroke-width="2.3" stroke-linecap="butt"/>
<text font-size="33.5" text-anchor="end" transform="translate(1585.6 1046.8) scale(1 1.04)">1.0</text>
<line x1="1625.2" y1="1280.1" x2="1625.2" y2="1287.6" stroke="#000" stroke-width="2.3" stroke-linecap="butt"/>
<line x1="1660.5" y1="1280.1" x2="1660.5" y2="1287.6" stroke="#000" stroke-width="2.3" stroke-linecap="butt"/>
<rect x="1706.5" y="1044.5" width="25.5" height="28.8" fill="#a0a0a0" stroke="#5c5c5c" stroke-width="2.6"/>
<text font-size="33.5" transform="translate(1746.35 1070) scale(1 1.04)">M+1</text>
<rect x="1706.5" y="1084.2" width="25.5" height="28.8" fill="#f9c18c" stroke="#ee9036" stroke-width="2.6"/>
<text font-size="33.5" transform="translate(1746.35 1109.7) scale(1 1.04)">M+2</text>
<text font-size="33.5" text-anchor="end" transform="translate(1468.4 1314.2) rotate(-45) scale(1 1.04)">sgNTC</text>
<text font-size="33.5" text-anchor="end" transform="translate(1516.8 1314.2) rotate(-45) scale(1 1.04)">sg<tspan font-style="italic">Aacs</tspan> #1</text>
<text font-size="33.5" text-anchor="end" transform="translate(1632.8 1314.2) rotate(-45) scale(1 1.04)">sgNTC</text>
<text font-size="33.5" text-anchor="end" transform="translate(1681.2 1314.2) rotate(-45) scale(1 1.04)">sg<tspan font-style="italic">Aacs</tspan> #2</text>
<text font-size="21.3" transform="translate(151.1 59.6) scale(1 1.04)">P=8×10<tspan font-size="11.5" dx="0.8" dy="-6.8">-9</tspan></text>
<polyline points="176.6,84.2 176.6,66.2 211.8,66.2 211.8,258" fill="none" stroke="#000" stroke-width="2"/>
<text font-size="21.3" transform="translate(308 15.7) scale(1 1.04)">P=1×10<tspan font-size="11.5" dx="0.8" dy="-6.8">-5</tspan></text>
<polyline points="332.8,40.2 332.8,21.2 368.4,21.2 368.4,203.7" fill="none" stroke="#000" stroke-width="2"/>
<text font-size="21.3" transform="translate(1436.8 50.3) scale(1 1.04)">P=1×10<tspan font-size="11.5" dx="0.8" dy="-6.8">-9</tspan></text>
<polyline points="1460.8,74.1 1460.8,56.2 1496.6,56.2 1496.6,250.8" fill="none" stroke="#000" stroke-width="2"/>
<text font-size="21.3" transform="translate(1599.6 46.9) scale(1 1.04)">P=2×10<tspan font-size="11.5" dx="0.8" dy="-6.8">-7</tspan></text>
<polyline points="1625.2,71.9 1625.2,53 1660.8,53 1660.8,235" fill="none" stroke="#000" stroke-width="2"/>
<text font-size="21.3" transform="translate(151.3 562.5) scale(1 1.04)">P=2×10<tspan font-size="11.5" dx="0.8" dy="-6.8">-9</tspan></text>
<polyline points="176.6,587.6 176.6,568.7 211.8,568.7 211.8,760.3" fill="none" stroke="#000" stroke-width="2"/>
<text font-size="21.3" transform="translate(308.5 514.4) scale(1 1.04)">P=1×10<tspan font-size="11.5" dx="0.8" dy="-6.8">-6</tspan></text>
<polyline points="332.4,540.3 332.4,520.9 368.3,520.9 368.3,660.4" fill="none" stroke="#000" stroke-width="2"/>
<text font-size="21.3" transform="translate(1436.6 548.8) scale(1 1.04)">P=1×10<tspan font-size="11.5" dx="0.8" dy="-6.8">-9</tspan></text>
<polyline points="1460.8,574 1460.8,555.7 1496.6,555.7 1496.6,702.4" fill="none" stroke="#000" stroke-width="2"/>
<text font-size="21.3" transform="translate(1600.2 546.9) scale(1 1.04)">P=1×10<tspan font-size="11.5" dx="0.8" dy="-6.8">-6</tspan></text>
<polyline points="1625.2,572.1 1625.2,553.5 1660.8,553.5 1660.8,668.6" fill="none" stroke="#000" stroke-width="2"/>
<text font-size="21.3" transform="translate(312.9 1009.8) scale(1 1.04)">P=0.003</text>
<polyline points="332.4,1035.7 332.4,1017.1 368.1,1017.1 368.1,1045.3" fill="none" stroke="#000" stroke-width="2"/>
<text font-size="21.3" transform="translate(1436.6 1041.9) scale(1 1.04)">P=4×10<tspan font-size="11.5" dx="0.8" dy="-6.8">-6</tspan></text>
<polyline points="1460.8,1066.2 1460.8,1048.9 1496.6,1048.9 1496.6,1112" fill="none" stroke="#000" stroke-width="2"/>
<text font-size="21.3" transform="translate(1600.2 1041) scale(1 1.04)">P=4×10<tspan font-size="11.5" dx="0.8" dy="-6.8">-4</tspan></text>
<polyline points="1625.2,1064.6 1625.2,1047.3 1660.8,1047.3 1660.8,1105.6" fill="none" stroke="#000" stroke-width="2"/>
<text x="9.1" y="1496.7" font-size="50" font-weight="bold" fill="#231f20">j</text>
<text x="108.4" y="1617" font-size="33.5" text-anchor="middle" transform="rotate(-90 108.4 1617)">Citrate</text>
<text x="145.6" y="1617" font-size="33.5" text-anchor="middle" transform="rotate(-90 145.6 1617)">Fraction Labeled</text>
<rect x="236.1" y="1538.4" width="26" height="10.76" fill="#8dc4b3" stroke="#12907a" stroke-width="2.4"/>
<rect x="236.1" y="1549.16" width="26" height="26.42" fill="#a9a9d0" stroke="#6f72a6" stroke-width="2.4"/>
<rect x="236.1" y="1575.58" width="26" height="48.92" fill="#f3a28b" stroke="#e04a3a" stroke-width="2.4"/>
<rect x="236.1" y="1624.5" width="26" height="17.61" fill="#9dd3e4" stroke="#1eaacd" stroke-width="2.4"/>
<rect x="236.1" y="1642.11" width="26" height="101.02" fill="#f9c18c" stroke="#ee9036" stroke-width="2.4"/>
<rect x="236.1" y="1743.13" width="26" height="3.67" fill="#a0a0a0" stroke="#5c5c5c" stroke-width="2.4"/>
<line x1="249.1" y1="1742.15" x2="249.1" y2="1744.11" stroke="#5c5c5c" stroke-width="2" stroke-linecap="butt"/>
<line x1="241.35" y1="1742.15" x2="256.85" y2="1742.15" stroke="#5c5c5c" stroke-width="2.2" stroke-linecap="butt"/>
<line x1="241.35" y1="1744.11" x2="256.85" y2="1744.11" stroke="#5c5c5c" stroke-width="2.2" stroke-linecap="butt"/>
<line x1="249.1" y1="1638.93" x2="249.1" y2="1645.29" stroke="#ee9036" stroke-width="2" stroke-linecap="butt"/>
<line x1="241.35" y1="1638.93" x2="256.85" y2="1638.93" stroke="#ee9036" stroke-width="2.2" stroke-linecap="butt"/>
<line x1="241.35" y1="1645.29" x2="256.85" y2="1645.29" stroke="#ee9036" stroke-width="2.2" stroke-linecap="butt"/>
<line x1="249.1" y1="1623.28" x2="249.1" y2="1625.72" stroke="#1eaacd" stroke-width="2" stroke-linecap="butt"/>
<line x1="241.35" y1="1623.28" x2="256.85" y2="1623.28" stroke="#1eaacd" stroke-width="2.2" stroke-linecap="butt"/>
<line x1="241.35" y1="1625.72" x2="256.85" y2="1625.72" stroke="#1eaacd" stroke-width="2.2" stroke-linecap="butt"/>
<line x1="249.1" y1="1573.13" x2="249.1" y2="1578.03" stroke="#e04a3a" stroke-width="2" stroke-linecap="butt"/>
<line x1="241.35" y1="1573.13" x2="256.85" y2="1573.13" stroke="#e04a3a" stroke-width="2.2" stroke-linecap="butt"/>
<line x1="241.35" y1="1578.03" x2="256.85" y2="1578.03" stroke="#e04a3a" stroke-width="2.2" stroke-linecap="butt"/>
<line x1="249.1" y1="1545.49" x2="249.1" y2="1552.83" stroke="#6f72a6" stroke-width="2" stroke-linecap="butt"/>
<line x1="241.35" y1="1545.49" x2="256.85" y2="1545.49" stroke="#6f72a6" stroke-width="2.2" stroke-linecap="butt"/>
<line x1="241.35" y1="1552.83" x2="256.85" y2="1552.83" stroke="#6f72a6" stroke-width="2.2" stroke-linecap="butt"/>
<line x1="249.1" y1="1536.44" x2="249.1" y2="1540.36" stroke="#12907a" stroke-width="2" stroke-linecap="butt"/>
<line x1="241.35" y1="1536.44" x2="256.85" y2="1536.44" stroke="#12907a" stroke-width="2.2" stroke-linecap="butt"/>
<line x1="241.35" y1="1540.36" x2="256.85" y2="1540.36" stroke="#12907a" stroke-width="2.2" stroke-linecap="butt"/>
<rect x="271.4" y="1734.33" width="26" height="0.24" fill="#8dc4b3" stroke="#12907a" stroke-width="2.4"/>
<rect x="271.4" y="1734.57" width="26" height="0.01" fill="#a9a9d0" stroke="#6f72a6" stroke-width="2.4"/>
<rect x="271.4" y="1734.57" width="26" height="0.24" fill="#f3a28b" stroke="#e04a3a" stroke-width="2.4"/>
<rect x="271.4" y="1734.81" width="26" height="0.24" fill="#9dd3e4" stroke="#1eaacd" stroke-width="2.4"/>
<rect x="271.4" y="1735.06" width="26" height="10.27" fill="#f9c18c" stroke="#ee9036" stroke-width="2.4"/>
<rect x="271.4" y="1745.33" width="26" height="1.47" fill="#a0a0a0" stroke="#5c5c5c" stroke-width="2.4"/>
<line x1="284.4" y1="1744.84" x2="284.4" y2="1745.82" stroke="#5c5c5c" stroke-width="2" stroke-linecap="butt"/>
<line x1="276.65" y1="1744.84" x2="292.15" y2="1744.84" stroke="#5c5c5c" stroke-width="2.2" stroke-linecap="butt"/>
<line x1="276.65" y1="1745.82" x2="292.15" y2="1745.82" stroke="#5c5c5c" stroke-width="2.2" stroke-linecap="butt"/>
<line x1="284.4" y1="1734.57" x2="284.4" y2="1735.55" stroke="#ee9036" stroke-width="2" stroke-linecap="butt"/>
<line x1="276.65" y1="1734.57" x2="292.15" y2="1734.57" stroke="#ee9036" stroke-width="2.2" stroke-linecap="butt"/>
<line x1="276.65" y1="1735.55" x2="292.15" y2="1735.55" stroke="#ee9036" stroke-width="2.2" stroke-linecap="butt"/>
<line x1="284.4" y1="1734.08" x2="284.4" y2="1734.57" stroke="#12907a" stroke-width="2" stroke-linecap="butt"/>
<line x1="276.65" y1="1734.08" x2="292.15" y2="1734.08" stroke="#12907a" stroke-width="2.2" stroke-linecap="butt"/>
<line x1="276.65" y1="1734.57" x2="292.15" y2="1734.57" stroke="#12907a" stroke-width="2.2" stroke-linecap="butt"/>
<line x1="220.5" y1="1501.05" x2="220.5" y2="1747.95" stroke="#000" stroke-width="2.3" stroke-linecap="butt"/>
<line x1="214" y1="1746.8" x2="312.2" y2="1746.8" stroke="#000" stroke-width="2.3" stroke-linecap="butt"/>
<line x1="214" y1="1746.8" x2="220.5" y2="1746.8" stroke="#000" stroke-width="2.3" stroke-linecap="butt"/>
<text font-size="33.5" text-anchor="end" transform="translate(208.7 1758.1) scale(1 1.04)">0.0</text>
<line x1="214" y1="1697.88" x2="220.5" y2="1697.88" stroke="#000" stroke-width="2.3" stroke-linecap="butt"/>
<text font-size="33.5" text-anchor="end" transform="translate(208.7 1709.18) scale(1 1.04)">0.2</text>
<line x1="214" y1="1648.96" x2="220.5" y2="1648.96" stroke="#000" stroke-width="2.3" stroke-linecap="butt"/>
<text font-size="33.5" text-anchor="end" transform="translate(208.7 1660.26) scale(1 1.04)">0.4</text>
<line x1="214" y1="1600.04" x2="220.5" y2="1600.04" stroke="#000" stroke-width="2.3" stroke-linecap="butt"/>
<text font-size="33.5" text-anchor="end" transform="translate(208.7 1611.34) scale(1 1.04)">0.6</text>
<line x1="214" y1="1551.12" x2="220.5" y2="1551.12" stroke="#000" stroke-width="2.3" stroke-linecap="butt"/>
<text font-size="33.5" text-anchor="end" transform="translate(208.7 1562.42) scale(1 1.04)">0.8</text>
<line x1="214" y1="1502.2" x2="220.5" y2="1502.2" stroke="#000" stroke-width="2.3" stroke-linecap="butt"/>
<text font-size="33.5" text-anchor="end" transform="translate(208.7 1513.5) scale(1 1.04)">1.0</text>
<line x1="249.1" y1="1746.8" x2="249.1" y2="1754.3" stroke="#000" stroke-width="2.3" stroke-linecap="butt"/>
<line x1="284.4" y1="1746.8" x2="284.4" y2="1754.3" stroke="#000" stroke-width="2.3" stroke-linecap="butt"/>
<rect x="329.9" y="1509.1" width="25.8" height="28.7" fill="#a0a0a0" stroke="#5c5c5c" stroke-width="2.6"/>
<text font-size="33.5" transform="translate(372.5 1534.55) scale(1 1.04)">M+1</text>
<rect x="329.9" y="1550.5" width="25.8" height="28.7" fill="#f9c18c" stroke="#ee9036" stroke-width="2.6"/>
<text font-size="33.5" transform="translate(372.5 1575.95) scale(1 1.04)">M+2</text>
<rect x="329.9" y="1591.9" width="25.8" height="28.7" fill="#9dd3e4" stroke="#1eaacd" stroke-width="2.6"/>
<text font-size="33.5" transform="translate(372.5 1617.35) scale(1 1.04)">M+3</text>
<rect x="329.9" y="1633.3" width="25.8" height="28.7" fill="#f3a28b" stroke="#e04a3a" stroke-width="2.6"/>
<text font-size="33.5" transform="translate(372.5 1658.75) scale(1 1.04)">M+4</text>
<rect x="329.9" y="1674.7" width="25.8" height="28.7" fill="#a9a9d0" stroke="#6f72a6" stroke-width="2.6"/>
<text font-size="33.5" transform="translate(372.5 1700.15) scale(1 1.04)">M+5</text>
<rect x="329.9" y="1716.1" width="25.8" height="28.7" fill="#8dc4b3" stroke="#12907a" stroke-width="2.6"/>
<text font-size="33.5" transform="translate(372.5 1741.55) scale(1 1.04)">M+6</text>
<text font-size="33.5" text-anchor="end" transform="translate(256.5 1780.9) rotate(-45) scale(1 1.04)">sgNTC</text>
<text font-size="33.5" text-anchor="end" transform="translate(305.4 1780.9) rotate(-45) scale(1 1.04)">sg<tspan font-style="italic">Oxct1/Aacs</tspan></text>
<text font-size="21.3" transform="translate(224.5 1503) scale(1 1.04)">P=6×10<tspan font-size="11.5" dx="0.8" dy="-6.8">-7</tspan></text>
<polyline points="249.1,1528.2 249.1,1509.8 284.9,1509.8 284.9,1721.7" fill="none" stroke="#000" stroke-width="2"/>
<text x="527.8" y="1496.7" font-size="50" font-weight="bold" fill="#231f20">k</text>
<text x="735.5" y="1616" font-size="33.5" text-anchor="middle" transform="rotate(-90 735.5 1616)">16:0 MID</text>
<rect x="815.55" y="1745.49" width="6.9" height="0.61" fill="#a0a0a0" stroke="#636363" stroke-width="2.3"/>
<rect x="826.55" y="1596.59" width="6.9" height="149.51" fill="#f9c18c" stroke="#ef9038" stroke-width="2.3"/>
<line x1="830" y1="1572.18" x2="830" y2="1621" stroke="#ef9038" stroke-width="2" stroke-linecap="butt"/>
<line x1="827" y1="1572.18" x2="833" y2="1572.18" stroke="#ef9038" stroke-width="2.2" stroke-linecap="butt"/>
<line x1="827" y1="1621" x2="833" y2="1621" stroke="#ef9038" stroke-width="2.2" stroke-linecap="butt"/>
<rect x="846.36" y="1736.95" width="6.9" height="9.15" fill="#a0a0a0" stroke="#636363" stroke-width="2.3"/>
<line x1="849.81" y1="1736.34" x2="849.81" y2="1737.56" stroke="#636363" stroke-width="2" stroke-linecap="butt"/>
<line x1="846.81" y1="1736.34" x2="852.81" y2="1736.34" stroke="#636363" stroke-width="2.2" stroke-linecap="butt"/>
<line x1="846.81" y1="1737.56" x2="852.81" y2="1737.56" stroke="#636363" stroke-width="2.2" stroke-linecap="butt"/>
<rect x="857.36" y="1725.96" width="6.9" height="20.14" fill="#f9c18c" stroke="#ef9038" stroke-width="2.3"/>
<line x1="860.81" y1="1724.13" x2="860.81" y2="1727.79" stroke="#ef9038" stroke-width="2" stroke-linecap="butt"/>
<line x1="857.81" y1="1724.13" x2="863.81" y2="1724.13" stroke="#ef9038" stroke-width="2.2" stroke-linecap="butt"/>
<line x1="857.81" y1="1727.79" x2="863.81" y2="1727.79" stroke="#ef9038" stroke-width="2.2" stroke-linecap="butt"/>
<rect x="877.17" y="1718.64" width="6.9" height="27.46" fill="#a0a0a0" stroke="#636363" stroke-width="2.3"/>
<line x1="880.62" y1="1717.42" x2="880.62" y2="1719.86" stroke="#636363" stroke-width="2" stroke-linecap="butt"/>
<line x1="877.62" y1="1717.42" x2="883.62" y2="1717.42" stroke="#636363" stroke-width="2.2" stroke-linecap="butt"/>
<line x1="877.62" y1="1719.86" x2="883.62" y2="1719.86" stroke="#636363" stroke-width="2.2" stroke-linecap="butt"/>
<rect x="888.17" y="1744.88" width="6.9" height="1.22" fill="#f9c18c" stroke="#ef9038" stroke-width="2.3"/>
<rect x="907.98" y="1685.07" width="6.9" height="61.03" fill="#a0a0a0" stroke="#636363" stroke-width="2.3"/>
<line x1="911.43" y1="1683.85" x2="911.43" y2="1686.3" stroke="#636363" stroke-width="2" stroke-linecap="butt"/>
<line x1="908.43" y1="1683.85" x2="914.43" y2="1683.85" stroke="#636363" stroke-width="2.2" stroke-linecap="butt"/>
<line x1="908.43" y1="1686.3" x2="914.43" y2="1686.3" stroke="#636363" stroke-width="2.2" stroke-linecap="butt"/>
<rect x="918.98" y="1745.49" width="6.9" height="0.61" fill="#f9c18c" stroke="#ef9038" stroke-width="2.3"/>
<rect x="938.79" y="1637.48" width="6.9" height="108.62" fill="#a0a0a0" stroke="#636363" stroke-width="2.3"/>
<line x1="942.24" y1="1636.26" x2="942.24" y2="1638.7" stroke="#636363" stroke-width="2" stroke-linecap="butt"/>
<line x1="939.24" y1="1636.26" x2="945.24" y2="1636.26" stroke="#636363" stroke-width="2.2" stroke-linecap="butt"/>
<line x1="939.24" y1="1638.7" x2="945.24" y2="1638.7" stroke="#636363" stroke-width="2.2" stroke-linecap="butt"/>
<rect x="949.79" y="1745.49" width="6.9" height="0.61" fill="#f9c18c" stroke="#ef9038" stroke-width="2.3"/>
<rect x="969.6" y="1602.08" width="6.9" height="144.02" fill="#a0a0a0" stroke="#636363" stroke-width="2.3"/>
<line x1="973.05" y1="1601.47" x2="973.05" y2="1602.69" stroke="#636363" stroke-width="2" stroke-linecap="butt"/>
<line x1="970.05" y1="1601.47" x2="976.05" y2="1601.47" stroke="#636363" stroke-width="2.2" stroke-linecap="butt"/>
<line x1="970.05" y1="1602.69" x2="976.05" y2="1602.69" stroke="#636363" stroke-width="2.2" stroke-linecap="butt"/>
<rect x="980.6" y="1745.49" width="6.9" height="0.61" fill="#f9c18c" stroke="#ef9038" stroke-width="2.3"/>
<rect x="1000.41" y="1617.95" width="6.9" height="128.15" fill="#a0a0a0" stroke="#636363" stroke-width="2.3"/>
<line x1="1003.86" y1="1616.73" x2="1003.86" y2="1619.17" stroke="#636363" stroke-width="2" stroke-linecap="butt"/>
<line x1="1000.86" y1="1616.73" x2="1006.86" y2="1616.73" stroke="#636363" stroke-width="2.2" stroke-linecap="butt"/>
<line x1="1000.86" y1="1619.17" x2="1006.86" y2="1619.17" stroke="#636363" stroke-width="2.2" stroke-linecap="butt"/>
<rect x="1011.41" y="1743.05" width="6.9" height="3.05" fill="#f9c18c" stroke="#ef9038" stroke-width="2.3"/>
<line x1="1014.86" y1="1742.44" x2="1014.86" y2="1743.66" stroke="#ef9038" stroke-width="2" stroke-linecap="butt"/>
<line x1="1011.86" y1="1742.44" x2="1017.86" y2="1742.44" stroke="#ef9038" stroke-width="2.2" stroke-linecap="butt"/>
<line x1="1011.86" y1="1743.66" x2="1017.86" y2="1743.66" stroke="#ef9038" stroke-width="2.2" stroke-linecap="butt"/>
<rect x="1031.22" y="1689.35" width="6.9" height="56.75" fill="#a0a0a0" stroke="#636363" stroke-width="2.3"/>
<line x1="1034.67" y1="1688.13" x2="1034.67" y2="1690.57" stroke="#636363" stroke-width="2" stroke-linecap="butt"/>
<line x1="1031.67" y1="1688.13" x2="1037.67" y2="1688.13" stroke="#636363" stroke-width="2.2" stroke-linecap="butt"/>
<line x1="1031.67" y1="1690.57" x2="1037.67" y2="1690.57" stroke="#636363" stroke-width="2.2" stroke-linecap="butt"/>
<rect x="1042.22" y="1745.49" width="6.9" height="0.61" fill="#f9c18c" stroke="#ef9038" stroke-width="2.3"/>
<circle cx="819" cy="1743.7" r="2.35" fill="#fff" stroke="#636363" stroke-width="2.3"/>
<circle cx="816.8" cy="1743.7" r="2.35" fill="#fff" stroke="#636363" stroke-width="2.3"/>
<circle cx="821.2" cy="1743.7" r="2.35" fill="#fff" stroke="#636363" stroke-width="2.3"/>
<circle cx="830" cy="1566.08" r="2.35" fill="#fff" stroke="#ef9038" stroke-width="2.3"/>
<circle cx="827.8" cy="1580.11" r="2.35" fill="#fff" stroke="#ef9038" stroke-width="2.3"/>
<circle cx="832.2" cy="1639.31" r="2.35" fill="#fff" stroke="#ef9038" stroke-width="2.3"/>
<circle cx="849.81" cy="1735.73" r="2.35" fill="#fff" stroke="#636363" stroke-width="2.3"/>
<circle cx="847.61" cy="1736.95" r="2.35" fill="#fff" stroke="#636363" stroke-width="2.3"/>
<circle cx="852.01" cy="1738.17" r="2.35" fill="#fff" stroke="#636363" stroke-width="2.3"/>
<circle cx="860.81" cy="1723.52" r="2.35" fill="#fff" stroke="#ef9038" stroke-width="2.3"/>
<circle cx="858.61" cy="1724.13" r="2.35" fill="#fff" stroke="#ef9038" stroke-width="2.3"/>
<circle cx="863.01" cy="1730.84" r="2.35" fill="#fff" stroke="#ef9038" stroke-width="2.3"/>
<circle cx="880.62" cy="1716.81" r="2.35" fill="#fff" stroke="#636363" stroke-width="2.3"/>
<circle cx="878.42" cy="1719.25" r="2.35" fill="#fff" stroke="#636363" stroke-width="2.3"/>
<circle cx="882.82" cy="1720.47" r="2.35" fill="#fff" stroke="#636363" stroke-width="2.3"/>
<circle cx="891.62" cy="1743.7" r="2.35" fill="#fff" stroke="#ef9038" stroke-width="2.3"/>
<circle cx="889.42" cy="1743.7" r="2.35" fill="#fff" stroke="#ef9038" stroke-width="2.3"/>
<circle cx="893.82" cy="1743.7" r="2.35" fill="#fff" stroke="#ef9038" stroke-width="2.3"/>
<circle cx="911.43" cy="1683.24" r="2.35" fill="#fff" stroke="#636363" stroke-width="2.3"/>
<circle cx="909.23" cy="1685.07" r="2.35" fill="#fff" stroke="#636363" stroke-width="2.3"/>
<circle cx="913.63" cy="1686.3" r="2.35" fill="#fff" stroke="#636363" stroke-width="2.3"/>
<circle cx="922.43" cy="1743.7" r="2.35" fill="#fff" stroke="#ef9038" stroke-width="2.3"/>
<circle cx="920.23" cy="1743.7" r="2.35" fill="#fff" stroke="#ef9038" stroke-width="2.3"/>
<circle cx="924.63" cy="1743.7" r="2.35" fill="#fff" stroke="#ef9038" stroke-width="2.3"/>
<circle cx="942.24" cy="1634.42" r="2.35" fill="#fff" stroke="#636363" stroke-width="2.3"/>
<circle cx="940.04" cy="1637.48" r="2.35" fill="#fff" stroke="#636363" stroke-width="2.3"/>
<circle cx="944.44" cy="1639.31" r="2.35" fill="#fff" stroke="#636363" stroke-width="2.3"/>
<circle cx="953.24" cy="1743.7" r="2.35" fill="#fff" stroke="#ef9038" stroke-width="2.3"/>
<circle cx="951.04" cy="1743.7" r="2.35" fill="#fff" stroke="#ef9038" stroke-width="2.3"/>
<circle cx="955.44" cy="1743.7" r="2.35" fill="#fff" stroke="#ef9038" stroke-width="2.3"/>
<circle cx="973.05" cy="1600.86" r="2.35" fill="#fff" stroke="#636363" stroke-width="2.3"/>
<circle cx="970.85" cy="1601.47" r="2.35" fill="#fff" stroke="#636363" stroke-width="2.3"/>
<circle cx="975.25" cy="1602.08" r="2.35" fill="#fff" stroke="#636363" stroke-width="2.3"/>
<circle cx="984.05" cy="1743.7" r="2.35" fill="#fff" stroke="#ef9038" stroke-width="2.3"/>
<circle cx="981.85" cy="1743.7" r="2.35" fill="#fff" stroke="#ef9038" stroke-width="2.3"/>
<circle cx="986.25" cy="1743.7" r="2.35" fill="#fff" stroke="#ef9038" stroke-width="2.3"/>
<circle cx="1003.86" cy="1615.51" r="2.35" fill="#fff" stroke="#636363" stroke-width="2.3"/>
<circle cx="1001.66" cy="1617.34" r="2.35" fill="#fff" stroke="#636363" stroke-width="2.3"/>
<circle cx="1006.06" cy="1620.39" r="2.35" fill="#fff" stroke="#636363" stroke-width="2.3"/>
<circle cx="1014.86" cy="1742.44" r="2.35" fill="#fff" stroke="#ef9038" stroke-width="2.3"/>
<circle cx="1012.66" cy="1743.05" r="2.35" fill="#fff" stroke="#ef9038" stroke-width="2.3"/>
<circle cx="1017.06" cy="1743.66" r="2.35" fill="#fff" stroke="#ef9038" stroke-width="2.3"/>
<circle cx="1034.67" cy="1686.91" r="2.35" fill="#fff" stroke="#636363" stroke-width="2.3"/>
<circle cx="1032.47" cy="1688.74" r="2.35" fill="#fff" stroke="#636363" stroke-width="2.3"/>
<circle cx="1036.87" cy="1691.79" r="2.35" fill="#fff" stroke="#636363" stroke-width="2.3"/>
<circle cx="1045.67" cy="1743.7" r="2.35" fill="#fff" stroke="#ef9038" stroke-width="2.3"/>
<circle cx="1043.47" cy="1743.7" r="2.35" fill="#fff" stroke="#ef9038" stroke-width="2.3"/>
<circle cx="1047.87" cy="1743.7" r="2.35" fill="#fff" stroke="#ef9038" stroke-width="2.3"/>
<line x1="811" y1="1500.85" x2="811" y2="1747.25" stroke="#000" stroke-width="2.3" stroke-linecap="butt"/>
<line x1="804.5" y1="1746.1" x2="1055.8" y2="1746.1" stroke="#000" stroke-width="2.3" stroke-linecap="butt"/>
<line x1="804.5" y1="1746.1" x2="811" y2="1746.1" stroke="#000" stroke-width="2.3" stroke-linecap="butt"/>
<text font-size="33.5" text-anchor="end" transform="translate(799.2 1757.4) scale(1 1.04)">0.0</text>
<line x1="804.5" y1="1685.07" x2="811" y2="1685.07" stroke="#000" stroke-width="2.3" stroke-linecap="butt"/>
<text font-size="33.5" text-anchor="end" transform="translate(799.2 1696.37) scale(1 1.04)">0.1</text>
<line x1="804.5" y1="1624.05" x2="811" y2="1624.05" stroke="#000" stroke-width="2.3" stroke-linecap="butt"/>
<text font-size="33.5" text-anchor="end" transform="translate(799.2 1635.35) scale(1 1.04)">0.2</text>
<line x1="804.5" y1="1563.03" x2="811" y2="1563.03" stroke="#000" stroke-width="2.3" stroke-linecap="butt"/>
<text font-size="33.5" text-anchor="end" transform="translate(799.2 1574.33) scale(1 1.04)">0.3</text>
<line x1="804.5" y1="1502" x2="811" y2="1502" stroke="#000" stroke-width="2.3" stroke-linecap="butt"/>
<text font-size="33.5" text-anchor="end" transform="translate(799.2 1513.3) scale(1 1.04)">0.4</text>
<line x1="824" y1="1746.1" x2="824" y2="1753.6" stroke="#000" stroke-width="2.3" stroke-linecap="butt"/>
<line x1="854.81" y1="1746.1" x2="854.81" y2="1753.6" stroke="#000" stroke-width="2.3" stroke-linecap="butt"/>
<line x1="885.62" y1="1746.1" x2="885.62" y2="1753.6" stroke="#000" stroke-width="2.3" stroke-linecap="butt"/>
<line x1="916.43" y1="1746.1" x2="916.43" y2="1753.6" stroke="#000" stroke-width="2.3" stroke-linecap="butt"/>
<line x1="947.24" y1="1746.1" x2="947.24" y2="1753.6" stroke="#000" stroke-width="2.3" stroke-linecap="butt"/>
<line x1="978.05" y1="1746.1" x2="978.05" y2="1753.6" stroke="#000" stroke-width="2.3" stroke-linecap="butt"/>
<line x1="1008.86" y1="1746.1" x2="1008.86" y2="1753.6" stroke="#000" stroke-width="2.3" stroke-linecap="butt"/>
<line x1="1039.67" y1="1746.1" x2="1039.67" y2="1753.6" stroke="#000" stroke-width="2.3" stroke-linecap="butt"/>
<text font-size="33.5" text-anchor="end" transform="translate(835.4 1757.6) rotate(-90) scale(1 1.04)">M+2</text>
<text font-size="33.5" text-anchor="end" transform="translate(866.21 1757.6) rotate(-90) scale(1 1.04)">M+4</text>
<text font-size="33.5" text-anchor="end" transform="translate(897.02 1757.6) rotate(-90) scale(1 1.04)">M+6</text>
<text font-size="33.5" text-anchor="end" transform="translate(927.83 1757.6) rotate(-90) scale(1 1.04)">M+8</text>
<text font-size="33.5" text-anchor="end" transform="translate(958.64 1757.6) rotate(-90) scale(1 1.04)">M+10</text>
<text font-size="33.5" text-anchor="end" transform="translate(989.45 1757.6) rotate(-90) scale(1 1.04)">M+12</text>
<text font-size="33.5" text-anchor="end" transform="translate(1020.26 1757.6) rotate(-90) scale(1 1.04)">M+14</text>
<text font-size="33.5" text-anchor="end" transform="translate(1051.07 1757.6) rotate(-90) scale(1 1.04)">M+16</text>
<rect x="678.8" y="1867.8" width="25.7" height="29" fill="#a0a0a0" stroke="#636363" stroke-width="2.6"/>
<text font-size="33.5" transform="translate(719.2 1893.5) scale(1 1.04)">sgNTC</text>
<rect x="863.6" y="1867.8" width="25.7" height="29" fill="#f9c18c" stroke="#ef9038" stroke-width="2.6"/>
<text font-size="33.5" transform="translate(905.1 1893.5) scale(1 1.04)">sg<tspan font-style="italic">Oxct1/Aacs</tspan></text>
<text x="1249.5" y="1496.7" font-size="50" font-weight="bold" fill="#231f20">l</text>
<text x="1400" y="1616.5" font-size="33.5" text-anchor="middle" transform="rotate(-90 1400 1616.5)">Cytosolic acetyl-CoA</text>
<text x="1439.5" y="1616.5" font-size="33.5" text-anchor="middle" transform="rotate(-90 1439.5 1616.5)">Fraction Labeled</text>
<rect x="1528.8" y="1523.39" width="25" height="223.4" fill="#f9c18c" stroke="#ef9038" stroke-width="2.4"/>
<line x1="1541.3" y1="1522.17" x2="1541.3" y2="1523.39" stroke="#ef9038" stroke-width="2" stroke-linecap="butt"/>
<line x1="1533.55" y1="1522.17" x2="1549.05" y2="1522.17" stroke="#ef9038" stroke-width="2.2" stroke-linecap="butt"/>
<rect x="1533.6" y="1745.49" width="15.4" height="1.6" fill="#8a8a8a" stroke="#8a8a8a" stroke-width="0.4"/>
<rect x="1564.2" y="1733.6" width="25" height="13.2" fill="#f9c18c" stroke="#ef9038" stroke-width="2.4"/>
<line x1="1576.7" y1="1730.54" x2="1576.7" y2="1733.6" stroke="#ef9038" stroke-width="2" stroke-linecap="butt"/>
<line x1="1568.95" y1="1730.54" x2="1584.45" y2="1730.54" stroke="#ef9038" stroke-width="2.2" stroke-linecap="butt"/>
<line x1="1514" y1="1500.15" x2="1514" y2="1747.95" stroke="#000" stroke-width="2.3" stroke-linecap="butt"/>
<line x1="1507.5" y1="1746.8" x2="1604.7" y2="1746.8" stroke="#000" stroke-width="2.3" stroke-linecap="butt"/>
<line x1="1507.5" y1="1746.8" x2="1514" y2="1746.8" stroke="#000" stroke-width="2.3" stroke-linecap="butt"/>
<text font-size="33.5" text-anchor="end" transform="translate(1502.2 1758.1) scale(1 1.04)">0.0</text>
<line x1="1507.5" y1="1685.42" x2="1514" y2="1685.42" stroke="#000" stroke-width="2.3" stroke-linecap="butt"/>
<text font-size="33.5" text-anchor="end" transform="translate(1502.2 1696.72) scale(1 1.04)">0.2</text>
<line x1="1507.5" y1="1624.05" x2="1514" y2="1624.05" stroke="#000" stroke-width="2.3" stroke-linecap="butt"/>
<text font-size="33.5" text-anchor="end" transform="translate(1502.2 1635.35) scale(1 1.04)">0.4</text>
<line x1="1507.5" y1="1562.67" x2="1514" y2="1562.67" stroke="#000" stroke-width="2.3" stroke-linecap="butt"/>
<text font-size="33.5" text-anchor="end" transform="translate(1502.2 1573.97) scale(1 1.04)">0.6</text>
<line x1="1507.5" y1="1501.3" x2="1514" y2="1501.3" stroke="#000" stroke-width="2.3" stroke-linecap="butt"/>
<text font-size="33.5" text-anchor="end" transform="translate(1502.2 1512.6) scale(1 1.04)">0.8</text>
<line x1="1541.3" y1="1746.8" x2="1541.3" y2="1754.3" stroke="#000" stroke-width="2.3" stroke-linecap="butt"/>
<line x1="1576.7" y1="1746.8" x2="1576.7" y2="1754.3" stroke="#000" stroke-width="2.3" stroke-linecap="butt"/>
<rect x="1630.7" y="1510.7" width="24.7" height="26.9" fill="#a0a0a0" stroke="#5c5c5c" stroke-width="2.6"/>
<text font-size="33.5" transform="translate(1672.2 1535.25) scale(1 1.04)">M+1</text>
<rect x="1630.7" y="1550.1" width="24.7" height="26.9" fill="#f9c18c" stroke="#ee9036" stroke-width="2.6"/>
<text font-size="33.5" transform="translate(1672.2 1574.65) scale(1 1.04)">M+2</text>
<text font-size="33.5" text-anchor="end" transform="translate(1548.7 1780.9) rotate(-45) scale(1 1.04)">sgNTC</text>
<text font-size="33.5" text-anchor="end" transform="translate(1597.7 1780.9) rotate(-45) scale(1 1.04)">sg<tspan font-style="italic">Oxct1/Aacs</tspan></text>
<text font-size="21.3" transform="translate(1516.5 1486) scale(1 1.04)">P=1×10<tspan font-size="11.5" dx="0.8" dy="-6.8">-7</tspan></text>
<polyline points="1540.5,1511 1540.5,1492.9 1576.5,1492.9 1576.5,1714.7" fill="none" stroke="#000" stroke-width="2"/>
</svg>
</body></html>
